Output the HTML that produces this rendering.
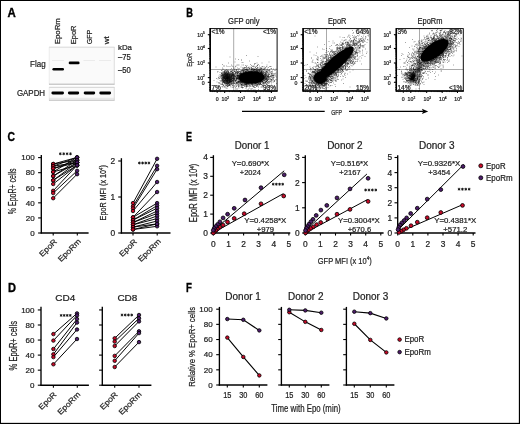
<!DOCTYPE html>
<html><head><meta charset="utf-8"><style>
html,body{margin:0;padding:0;background:#fff;}
svg{display:block;will-change:transform;}
text{font-family:"Liberation Sans", sans-serif;}
text:not([fill]){fill:#222;}
text:not([stroke]){stroke:#222;stroke-width:0.22px;}
</style></head><body>
<svg width="520" height="424" viewBox="0 0 520 424">
<rect width="520" height="424" fill="#fff"/>
<rect x="0" y="0" width="520" height="1" fill="#000"/>
<rect x="0" y="0" width="1" height="424" fill="#000"/>
<rect x="518.85" y="0" width="1.15" height="424" fill="#000"/>
<rect x="0" y="422.85" width="520" height="1.15" fill="#000"/>
<text x="7.5" y="17.1" font-size="12" font-weight="bold" fill="#000" textLength="8.3" lengthAdjust="spacingAndGlyphs" stroke="#000" stroke-width="0.35">A</text>
<text x="186.2" y="17.4" font-size="12" font-weight="bold" fill="#000" textLength="6.7" lengthAdjust="spacingAndGlyphs" stroke="#000" stroke-width="0.35">B</text>
<text x="7.6" y="141.4" font-size="12" font-weight="bold" fill="#000" textLength="7.5" lengthAdjust="spacingAndGlyphs" stroke="#000" stroke-width="0.35">C</text>
<text x="8.1" y="292" font-size="12" font-weight="bold" fill="#000" textLength="8" lengthAdjust="spacingAndGlyphs" stroke="#000" stroke-width="0.35">D</text>
<text x="186.1" y="141.3" font-size="12" font-weight="bold" fill="#000" textLength="6" lengthAdjust="spacingAndGlyphs" stroke="#000" stroke-width="0.35">E</text>
<text x="186.1" y="292" font-size="12" font-weight="bold" fill="#000" textLength="5.9" lengthAdjust="spacingAndGlyphs" stroke="#000" stroke-width="0.35">F</text>
<text transform="translate(59.6 44.3) rotate(-90)" x="0" y="0" font-size="7.4" textLength="26.2" lengthAdjust="spacingAndGlyphs">EpoRm</text>
<text transform="translate(75.5 44.3) rotate(-90)" x="0" y="0" font-size="7.4" textLength="18.8" lengthAdjust="spacingAndGlyphs">EpoR</text>
<text transform="translate(91.8 44.3) rotate(-90)" x="0" y="0" font-size="7.4" textLength="14.5" lengthAdjust="spacingAndGlyphs">GFP</text>
<text transform="translate(109 44.3) rotate(-90)" x="0" y="0" font-size="7.4" textLength="8.1" lengthAdjust="spacingAndGlyphs">wt</text>
<defs><filter id="bl" x="-20%" y="-100%" width="140%" height="300%"><feGaussianBlur stdDeviation="0.45"/></filter></defs>
<rect x="49" y="46.8" width="65.5" height="37.6" fill="#fafafa"/>
<rect x="49" y="87" width="65.5" height="13.3" fill="#fafafa"/>
<line x1="49" y1="47.2" x2="114.5" y2="47.2" stroke="#cfcfcf" stroke-width="0.8"/>
<line x1="49.2" y1="47" x2="49.2" y2="84.5" stroke="#e2e2e2" stroke-width="0.6"/>
<line x1="114.3" y1="47" x2="114.3" y2="84.5" stroke="#d8d8d8" stroke-width="0.8"/>
<line x1="49" y1="84.2" x2="114.5" y2="84.2" stroke="#b4b4b4" stroke-width="1"/>
<line x1="49" y1="87.3" x2="114.5" y2="87.3" stroke="#c8c8c8" stroke-width="0.8"/>
<line x1="49.2" y1="87" x2="49.2" y2="100.5" stroke="#e2e2e2" stroke-width="0.6"/>
<line x1="114.3" y1="87" x2="114.3" y2="100.5" stroke="#d8d8d8" stroke-width="0.8"/>
<line x1="49" y1="98.3" x2="114.5" y2="98.3" stroke="#d6d6d6" stroke-width="0.6"/>
<line x1="49" y1="100.2" x2="114.5" y2="100.2" stroke="#b8b8b8" stroke-width="1"/>
<rect x="52" y="60" width="12" height="1" fill="#ebebeb"/>
<rect x="83.5" y="60" width="11.5" height="1" fill="#ebebeb"/>
<rect x="99" y="60" width="12" height="1" fill="#ebebeb"/>
<g filter="url(#bl)">
<rect x="52.4" y="67.9" width="11.6" height="2.7" rx="1.3" fill="#000"/>
<rect x="68.7" y="61.6" width="10.9" height="2.7" rx="1.3" fill="#000"/>
<rect x="51.4" y="91.6" width="12.6" height="2.9" rx="1.4" fill="#000"/>
<rect x="67.9" y="91.6" width="11.3" height="2.9" rx="1.4" fill="#000"/>
<rect x="83.7" y="91.6" width="11.5" height="2.9" rx="1.4" fill="#000"/>
<rect x="99.3" y="91.6" width="11.8" height="2.9" rx="1.4" fill="#000"/>
</g>
<text x="45.6" y="67.3" font-size="8.8" text-anchor="end" textLength="15.6" lengthAdjust="spacingAndGlyphs">Flag</text>
<text x="45.1" y="96.3" font-size="8.8" text-anchor="end" textLength="28.2" lengthAdjust="spacingAndGlyphs">GAPDH</text>
<text x="118" y="49.8" font-size="8" textLength="14" lengthAdjust="spacingAndGlyphs">kDa</text>
<text x="118" y="59.7" font-size="8.2" textLength="12.8" lengthAdjust="spacingAndGlyphs">–75</text>
<text x="118" y="72.6" font-size="8.2" textLength="12.8" lengthAdjust="spacingAndGlyphs">–50</text>
<text x="243.8" y="24.4" font-size="9.6" text-anchor="middle" textLength="31.5" lengthAdjust="spacingAndGlyphs">GFP only</text>
<text x="337.2" y="24.4" font-size="9.6" text-anchor="middle" textLength="18.5" lengthAdjust="spacingAndGlyphs">EpoR</text>
<text x="430" y="24.4" font-size="9.6" text-anchor="middle" textLength="25" lengthAdjust="spacingAndGlyphs">EpoRm</text>
<line x1="233.7" y1="28.6" x2="233.7" y2="91" stroke="#a0a0a0" stroke-width="0.9"/>
<line x1="210.2" y1="69.5" x2="277.1" y2="69.5" stroke="#a0a0a0" stroke-width="0.9"/>
<ellipse cx="251.6" cy="77.5" rx="12.8" ry="6.3" transform="rotate(-2 251.6 77.5)" fill="#000"/>
<ellipse cx="227.4" cy="78" rx="1" ry="1.2" transform="rotate(0 227.4 78)" fill="#000"/>
<path stroke="#000" stroke-opacity="0.5" stroke-width="0.7" stroke-linecap="square" fill="none" d="M214 80.5h0m2-13.5h0m.5 11.5h0m.5 3.5h0m.5-10h0m.5-.5h0m0 7.5h0m0 6.5h0m.5-8h0m0 5.5h0m0 3h0m.5-10h0m0 1.5h0m0 1h0m0 4h0m.5-4h0m0 4.5h0m.5-10.5h0m0 2h0m0 2h0m0 4h0m0 3h0m.5-7.5h0m0 2h0m.5-3h0m0 1h0m0 1.5h0m0 3h0m0 1h0m0 .5h0m0 2h0m0 .5h0m.5-14h0m0 2.5h0m0 2h0m0 .5h0m0 .5h0m0 .5h0m.5-6h0m0 2h0m0 .5h0m0 2.5h0m0 .5h0m0 1.5h0m0 3.5h0m0 3h0m0 .5h0m0 2h0m.5-22h0m0 3.5h0m0 5.5h0m0 1h0m0 1h0m0 .5h0m0 .5h0m0 .5h0m0 3h0m0 1h0m0 2.5h0m0 1h0m0 2.5h0m.5-18h0m0 .5h0m0 2h0m0 1h0m0 .5h0m0 1.5h0m0 1h0m0 1.5h0m0 2h0m0 1h0m0 2h0m0 2h0m0 .5h0m0 1.5h0m.5-13h0m0 .5h0m0 1h0m0 1h0m0 2.5h0m0 .5h0m0 3h0m.5-16h0m0 1h0m0 5h0m0 .5h0m0 .5h0m0 1.5h0m0 .5h0m0 1.5h0m0 4h0m0 2h0m0 3h0m0 2h0m.5-16h0m0 .5h0m0 .5h0m0 1h0m0 .5h0m0 5.5h0m0 2.5h0m0 .5h0m0 1.5h0m0 3h0m.5-16.5h0m0 1.5h0m0 1h0m0 10h0m0 1h0m0 .5h0m0 3.5h0m.5-15h0m0 .5h0m0 4.5h0m0 3.5h0m0 1.5h0m0 1h0m0 1.5h0m0 1h0m.5-15h0m0 3h0m0 1h0m0 1h0m0 1.5h0m0 3h0m0 1h0m0 2h0m0 1h0m0 1.5h0m0 2h0m.5-22h0m0 3.5h0m0 3h0m0 .5h0m0 9h0m0 .5h0m0 .5h0m0 1h0m0 1h0m0 .5h0m.5-15h0m0 1.5h0m0 10h0m0 3.5h0m0 1.5h0m0 1.5h0m.5-17.5h0m0 1.5h0m0 8.5h0m0 2.5h0m0 .5h0m0 1.5h0m.5-19h0m0 4.5h0m0 1.5h0m0 6.5h0m0 2.5h0m0 1.5h0m0 .5h0m0 .5h0m0 1h0m0 1h0m0 .5h0m.5-23.5h0m0 11.5h0m0 1h0m0 3.5h0m0 1.5h0m0 1.5h0m0 1h0m0 1.5h0m.5-14h0m0 3h0m0 .5h0m0 1h0m0 5.5h0m0 1.5h0m0 .5h0m0 .5h0m0 .5h0m0 1.5h0m0 .5h0m.5-13h0m0 .5h0m0 .5h0m0 9.5h0m0 1h0m0 1h0m.5-28h0m0 9.5h0m0 8h0m0 1.5h0m0 2.5h0m0 1.5h0m0 2h0m0 .5h0m0 1h0m0 .5h0m0 .5h0m0 1h0m.5-15.5h0m0 1.5h0m0 .5h0m0 .5h0m0 1h0m0 1h0m0 .5h0m0 .5h0m0 .5h0m0 1h0m0 3h0m0 2h0m0 .5h0m0 .5h0m0 3h0m.5-16h0m0 1.5h0m0 2h0m0 .5h0m0 .5h0m0 1h0m0 .5h0m0 .5h0m0 .5h0m0 2.5h0m0 .5h0m0 .5h0m0 2.5h0m0 1.5h0m0 .5h0m0 2h0m.5-22h0m0 3.5h0m0 2.5h0m0 2h0m0 1h0m0 .5h0m0 .5h0m0 2h0m0 1.5h0m0 .5h0m0 2h0m0 1h0m.5-16h0m0 5h0m0 2h0m0 1h0m0 1h0m0 1.5h0m0 1h0m0 .5h0m0 1h0m0 3h0m0 1h0m0 .5h0m.5-13h0m0 .5h0m0 2h0m0 1h0m0 1.5h0m0 .5h0m0 1h0m0 1h0m0 1h0m0 1h0m0 1.5h0m0 3.5h0m0 .5h0m.5-19h0m0 3h0m0 3.5h0m0 .5h0m0 .5h0m0 .5h0m0 2h0m0 1h0m0 .5h0m0 4h0m0 1h0m0 .5h0m0 1h0m0 1h0m0 2h0m.5-19.5h0m0 8h0m0 .5h0m0 .5h0m0 .5h0m0 .5h0m0 1h0m0 .5h0m0 .5h0m0 1h0m0 1h0m.5-13h0m0 1.5h0m0 3.5h0m0 .5h0m0 .5h0m0 .5h0m0 .5h0m0 1h0m0 .5h0m0 1h0m0 1h0m0 .5h0m0 .5h0m0 .5h0m0 .5h0m0 1h0m0 .5h0m0 3h0m.5-16.5h0m0 1.5h0m0 4.5h0m0 .5h0m0 1.5h0m0 .5h0m0 .5h0m0 1h0m0 1h0m0 3h0m0 2.5h0m.5-24h0m0 6h0m0 6h0m0 2.5h0m0 3.5h0m.5-21h0m0 7.5h0m0 4.5h0m0 1.5h0m0 .5h0m0 .5h0m0 1.5h0m0 5.5h0m0 1h0m0 2.5h0m0 3.5h0m0 1.5h0m.5-23h0m0 3.5h0m0 3.5h0m0 1.5h0m0 .5h0m0 .5h0m0 2h0m0 .5h0m0 .5h0m0 1.5h0m0 2.5h0m0 .5h0m0 2.5h0m0 1h0m.5-16h0m0 6.5h0m0 4h0m0 2.5h0m0 3h0m.5-21.5h0m0 4.5h0m0 2h0m0 1h0m0 .5h0m0 1.5h0m0 .5h0m0 .5h0m0 .5h0m0 3h0m0 5h0m0 1.5h0m0 3h0m0 1h0m.5-21.5h0m0 3.5h0m0 1h0m0 .5h0m0 6h0m0 3h0m0 .5h0m0 1h0m.5-18.5h0m0 6h0m0 1h0m0 .5h0m0 .5h0m0 4.5h0m0 5h0m0 1h0m0 1.5h0m.5-25.5h0m0 10.5h0m0 2.5h0m0 .5h0m0 3h0m0 .5h0m0 2h0m0 1h0m0 5h0m0 1h0m0 1h0m0 .5h0m.5-22h0m0 3.5h0m0 .5h0m0 4.5h0m0 1h0m0 1h0m0 3h0m0 2h0m0 .5h0m0 1h0m0 1.5h0m0 1.5h0m0 1h0m0 .5h0m0 1.5h0m.5-16h0m0 1.5h0m0 .5h0m0 1h0m0 1h0m0 1.5h0m0 .5h0m0 1h0m0 2h0m0 1h0m0 3h0m0 5.5h0m.5-18.5h0m0 2h0m0 1h0m0 3h0m0 1h0m0 1.5h0m0 1h0m0 .5h0m0 2h0m.5-12.5h0m0 3.5h0m0 1.5h0m0 4.5h0m0 3h0m.5-17h0m0 5.5h0m0 3h0m0 1h0m0 2h0m0 2.5h0m0 1h0m0 .5h0m0 .5h0m0 1.5h0m0 .5h0m0 .5h0m.5-15h0m0 1.5h0m0 3h0m0 2.5h0m0 2.5h0m0 1h0m0 .5h0m0 2.5h0m0 1h0m.5-22.5h0m0 2.5h0m0 5.5h0m0 2.5h0m0 2.5h0m0 1h0m0 1.5h0m0 3h0m0 1.5h0m0 1h0m0 1.5h0m0 2h0m0 .5h0m.5-18.5h0m0 3h0m0 1.5h0m0 1.5h0m0 1.5h0m0 4.5h0m0 .5h0m0 2h0m0 1h0m0 1h0m0 1.5h0m0 .5h0m0 .5h0m.5-25.5h0m0 5h0m0 .5h0m0 5h0m0 .5h0m0 .5h0m0 5h0m0 .5h0m0 .5h0m0 1.5h0m0 .5h0m0 2h0m0 .5h0m.5-19.5h0m0 3.5h0m0 1.5h0m0 1.5h0m0 1.5h0m0 2h0m0 1.5h0m0 .5h0m0 .5h0m0 2h0m0 2h0m0 .5h0m0 .5h0m0 .5h0m0 2h0m0 .5h0m0 2h0m.5-19h0m0 2.5h0m0 1.5h0m0 1h0m0 .5h0m0 1h0m0 1h0m0 2h0m0 2h0m0 1h0m0 .5h0m0 .5h0m0 .5h0m0 .5h0m0 1.5h0m0 1h0m.5-18h0m0 .5h0m0 1h0m0 1h0m0 .5h0m0 1.5h0m0 .5h0m0 2h0m0 3h0m0 1h0m0 .5h0m0 .5h0m0 2h0m0 .5h0m0 4.5h0m.5-19h0m0 2h0m0 .5h0m0 1h0m0 2h0m0 .5h0m0 1.5h0m0 4h0m0 2h0m0 1h0m0 .5h0m0 .5h0m0 .5h0m0 .5h0m0 .5h0m0 .5h0m0 1h0m.5-20.5h0m0 2h0m0 2h0m0 .5h0m0 5h0m0 2h0m0 6h0m0 3h0m.5-17.5h0m0 1h0m0 1h0m0 2h0m0 1h0m0 1h0m0 2h0m0 1.5h0m0 3.5h0m0 .5h0m0 .5h0m0 1h0m0 1h0m0 .5h0m0 2h0m0 1.5h0m.5-33h0m0 11h0m0 .5h0m0 3h0m0 1h0m0 1.5h0m0 .5h0m0 2h0m0 2.5h0m0 1.5h0m0 .5h0m0 2.5h0m0 1h0m0 1h0m0 2h0m0 .5h0m.5-21h0m0 2h0m0 .5h0m0 1.5h0m0 .5h0m0 .5h0m0 5.5h0m0 5h0m0 .5h0m0 2h0m0 .5h0m0 .5h0m0 .5h0m0 1h0m0 .5h0m0 3.5h0m.5-20.5h0m0 2h0m0 1.5h0m0 1h0m0 6h0m0 .5h0m0 .5h0m0 1h0m0 1.5h0m0 .5h0m.5-15h0m0 1.5h0m0 .5h0m0 .5h0m0 .5h0m0 1h0m0 1h0m0 3h0m0 4h0m0 2h0m0 .5h0m0 1h0m0 1.5h0m0 .5h0m0 3.5h0m.5-22.5h0m0 .5h0m0 2h0m0 1.5h0m0 .5h0m0 .5h0m0 1h0m0 8h0m0 .5h0m0 2h0m0 5h0m.5-22h0m0 5.5h0m0 5.5h0m0 2.5h0m0 2.5h0m0 1h0m0 .5h0m.5-23.5h0m0 7h0m0 .5h0m0 3h0m0 4h0m0 .5h0m0 1.5h0m0 .5h0m0 4h0m0 .5h0m0 3.5h0m0 1h0m.5-18.5h0m0 3h0m0 1.5h0m0 4.5h0m0 2h0m0 1.5h0m0 .5h0m0 2h0m0 1.5h0m0 3.5h0m.5-24h0m0 6.5h0m0 .5h0m0 3.5h0m0 1.5h0m0 3h0m0 5.5h0m0 1.5h0m.5-19.5h0m0 1h0m0 1.5h0m0 .5h0m0 2h0m0 2.5h0m0 .5h0m0 3.5h0m0 2h0m0 1.5h0m0 .5h0m0 1.5h0m0 .5h0m0 1h0m0 4h0m.5-24h0m0 2h0m0 .5h0m0 1.5h0m0 .5h0m0 1h0m0 5h0m0 3.5h0m0 .5h0m0 2h0m0 .5h0m0 2h0m.5-16h0m0 .5h0m0 .5h0m0 .5h0m0 1.5h0m0 .5h0m0 1h0m0 10h0m0 .5h0m0 .5h0m0 2.5h0m0 2h0m0 .5h0m.5-22.5h0m0 2h0m0 1h0m0 1.5h0m0 1h0m0 4h0m0 5.5h0m0 .5h0m0 1.5h0m0 1h0m0 1h0m.5-19.5h0m0 2.5h0m0 6h0m0 2h0m0 3.5h0m0 5h0m0 1h0m0 .5h0m.5-20h0m0 2.5h0m0 3h0m0 .5h0m0 1h0m0 8h0m0 .5h0m0 .5h0m0 2.5h0m0 1.5h0m0 .5h0m0 3h0m.5-24h0m0 2h0m0 1h0m0 .5h0m0 .5h0m0 6.5h0m0 3h0m0 1.5h0m0 1h0m0 .5h0m0 1h0m0 .5h0m0 .5h0m0 2.5h0m.5-23.5h0m0 1h0m0 4.5h0m0 2h0m0 1h0m0 1h0m0 .5h0m0 7h0m0 1.5h0m0 .5h0m0 1.5h0m0 1.5h0m0 1.5h0m0 .5h0m.5-21h0m0 5.5h0m0 1h0m0 2.5h0m0 6.5h0m0 .5h0m0 2h0m0 1h0m0 4h0m.5-26h0m0 6h0m0 2.5h0m0 .5h0m0 1.5h0m0 6h0m0 1.5h0m0 1.5h0m0 1h0m0 1.5h0m0 2h0m.5-17.5h0m0 1.5h0m0 .5h0m0 .5h0m0 1.5h0m0 2.5h0m0 3h0m0 1h0m0 .5h0m0 1.5h0m0 1h0m0 1h0m0 .5h0m.5-18.5h0m0 2h0m0 .5h0m0 3h0m0 1.5h0m0 1h0m0 2.5h0m0 6h0m0 .5h0m0 1.5h0m0 .5h0m0 1h0m.5-23.5h0m0 3h0m0 3.5h0m0 1h0m0 .5h0m0 1.5h0m0 3.5h0m0 1.5h0m0 .5h0m0 2h0m0 1h0m0 .5h0m0 .5h0m0 1.5h0m0 .5h0m0 2h0m0 .5h0m.5-21.5h0m0 2.5h0m0 .5h0m0 1h0m0 1h0m0 .5h0m0 1h0m0 .5h0m0 2.5h0m0 2h0m0 2.5h0m0 2.5h0m0 2.5h0m0 .5h0m0 .5h0m0 .5h0m.5-29h0m0 11h0m0 1h0m0 1h0m0 4h0m0 2.5h0m0 .5h0m0 4.5h0m0 .5h0m0 1h0m0 1h0m.5-19h0m0 5h0m0 .5h0m0 1h0m0 1.5h0m0 5h0m0 4.5h0m0 1h0m0 .5h0m0 .5h0m0 .5h0m0 5h0m.5-20h0m0 2h0m0 1h0m0 .5h0m0 1h0m0 .5h0m0 1h0m0 .5h0m0 1.5h0m0 4h0m0 .5h0m0 1.5h0m0 2h0m.5-19.5h0m0 2h0m0 7h0m0 .5h0m0 1h0m0 2.5h0m0 3h0m0 .5h0m0 2h0m.5-16h0m0 1h0m0 1h0m0 2h0m0 2h0m0 .5h0m0 .5h0m0 1.5h0m0 5h0m0 1.5h0m.5-16h0m0 1h0m0 1h0m0 .5h0m0 2h0m0 6h0m0 .5h0m0 1.5h0m0 1.5h0m0 1h0m0 1.5h0m.5-14h0m0 2.5h0m0 .5h0m0 1h0m0 5.5h0m0 1.5h0m0 .5h0m0 .5h0m0 5h0m.5-19h0m0 2h0m0 2h0m0 2.5h0m0 2.5h0m0 .5h0m0 1h0m0 1.5h0m0 1h0m0 .5h0m0 3h0m0 2.5h0m.5-24h0m0 3.5h0m0 1.5h0m0 1.5h0m0 2.5h0m0 1h0m0 .5h0m0 .5h0m0 .5h0m0 2.5h0m0 5h0m0 1h0m0 1.5h0m0 .5h0m.5-18.5h0m0 5.5h0m0 1h0m0 .5h0m0 1.5h0m0 1h0m0 .5h0m0 .5h0m0 3h0m0 2h0m0 5h0m.5-18.5h0m0 4h0m0 2.5h0m0 2h0m0 1h0m0 3h0m0 .5h0m0 1h0m0 4h0m.5-17h0m0 2h0m0 .5h0m0 1h0m0 1h0m0 1h0m0 3h0m0 2h0m0 .5h0m0 1.5h0m0 .5h0m0 1.5h0m0 1.5h0m.5-19h0m0 1.5h0m0 1.5h0m0 2.5h0m0 2h0m0 1h0m0 1h0m0 1h0m0 1h0m0 .5h0m0 1.5h0m0 5h0m.5-16h0m0 1h0m0 2.5h0m0 2.5h0m0 3.5h0m0 .5h0m0 .5h0m0 1h0m0 2h0m0 7.5h0m.5-22h0m0 .5h0m0 .5h0m0 1.5h0m0 3h0m0 1h0m0 1.5h0m0 1h0m0 2h0m0 1h0m0 .5h0m0 1.5h0m0 1.5h0m.5-16h0m0 5h0m0 .5h0m0 2.5h0m0 1h0m0 1h0m0 .5h0m0 5h0m0 5h0m.5-18h0m0 1h0m0 .5h0m0 2.5h0m0 .5h0m0 .5h0m0 .5h0m0 1h0m0 1h0m0 3h0m0 1h0m0 .5h0m0 2h0m0 3h0m0 1h0m.5-21.5h0m0 5h0m0 1.5h0m0 1h0m0 1h0m0 1.5h0m0 1h0m0 .5h0m0 .5h0m0 .5h0m0 .5h0m0 2.5h0m0 1.5h0m.5-18.5h0m0 2h0m0 2.5h0m0 1h0m0 .5h0m0 .5h0m0 .5h0m0 1.5h0m0 1h0m0 2h0m0 2h0m0 2h0m0 1h0m0 4.5h0m0 1.5h0m.5-18.5h0m0 3.5h0m0 2.5h0m0 .5h0m0 2h0m0 4.5h0m0 .5h0m0 2h0m0 2.5h0m.5-17h0m0 1h0m0 1h0m0 .5h0m0 1.5h0m0 5h0m.5-11.5h0m0 3h0m0 5.5h0m0 .5h0m0 2.5h0m0 .5h0m0 2h0m0 1h0m0 1h0m0 2.5h0m.5-24h0m0 12h0m0 2.5h0m0 1.5h0m0 1h0m0 .5h0m0 1.5h0m0 .5h0m0 4h0m0 1h0m.5-17h0m0 1h0m0 .5h0m0 2h0m0 1.5h0m0 2h0m0 5.5h0m0 1h0m0 4h0m.5-16h0m0 9h0m0 2h0m.5-6h0m0 1h0m0 1.5h0m0 1h0m0 2h0m.5-15h0m0 2h0m0 4h0m0 .5h0m0 1h0m0 1.5h0m0 4.5h0m0 1h0m.5-12.5h0m0 3h0m0 3h0m0 1.5h0m0 6h0m0 2h0m.5-12.5h0m0 4.5h0m0 3h0m0 1.5h0m0 1.5h0m.5-11h0m0 4h0m0 .5h0m0 1.5h0m0 1h0m0 1h0m0 9h0m.5-14.5h0m0 2h0m0 1.5h0m0 3h0m.5-11h0m0 6.5h0m0 .5h0m0 1.5h0m0 4.5h0m.5-8h0m0 1h0m0 .5h0m0 1.5h0m0 .5h0m0 3.5h0m.5-.5h0m0 .5h0m0 .5h0m.5-8h0m0 .5h0m.5 2h0m.5-7h0m0 4h0m0 2h0m0 4.5h0m0 .5h0m.5-3h0m0 6.5h0"/>
<path stroke="#000" stroke-opacity="0.75" stroke-width="0.7" stroke-linecap="square" fill="none" d="M221.5 73.5h0m0 5h0m.5-4.5h0m0 1h0m.5 0h0m0 3h0m0 1.5h0m0 1h0m0 1.5h0m.5-8h0m0 1h0m0 1h0m0 2h0m0 .5h0m0 1h0m0 1h0m0 1h0m.5-6.5h0m0 1h0m0 .5h0m0 .5h0m0 .5h0m0 2h0m0 1h0m0 5h0m.5-10h0m0 3h0m0 2.5h0m0 .5h0m0 1h0m.5-10h0m0 2h0m0 1.5h0m0 4h0m0 1h0m.5-10.5h0m0 6h0m0 2h0m0 2h0m0 1h0m.5-10.5h0m0 4.5h0m0 4h0m0 .5h0m0 .5h0m0 1h0m.5-9h0m0 .5h0m0 .5h0m0 2h0m0 2.5h0m0 2h0m0 2h0m0 1h0m.5-11h0m0 2.5h0m0 6.5h0m0 .5h0m0 2h0m.5-12h0m0 1.5h0m0 .5h0m0 .5h0m0 2h0m0 .5h0m0 3h0m0 3.5h0m0 .5h0m.5-1.5h0m0 1h0m0 1.5h0m0 2h0m.5-16.5h0m0 3.5h0m0 1.5h0m0 .5h0m0 2.5h0m0 .5h0m0 1h0m.5-8h0m0 .5h0m0 1.5h0m0 2.5h0m0 3.5h0m0 6h0m.5-11h0m0 2h0m0 3.5h0m.5-6h0m0 .5h0m0 1h0m0 .5h0m0 1.5h0m0 1.5h0m0 2.5h0m0 3h0m0 1h0m.5-10.5h0m0 1.5h0m0 1h0m0 3h0m0 .5h0m0 2h0m.5-6.5h0m0 2h0m.5 0h0m0 5.5h0m.5-12.5h0m0 4h0m0 2h0m0 .5h0m0 2h0m0 .5h0m0 1h0m0 2.5h0m.5-12h0m0 2.5h0m0 2.5h0m0 2.5h0m0 2h0m.5-9h0m0 2h0m0 4h0m0 4.5h0m.5-8h0m0 .5h0m0 .5h0m0 1h0m0 1.5h0m0 1.5h0m0 .5h0m0 .5h0m0 6h0m.5-13h0m0 .5h0m0 1h0m0 3h0m.5-.5h0m.5-6.5h0m0 5h0m0 2.5h0m.5-7.5h0m0 2h0m0 2.5h0m0 2.5h0m.5-2h0m0 4.5h0m.5-9h0m0 .5h0m0 8h0m0 .5h0m.5-11h0m0 2h0m0 4h0m0 3h0m0 .5h0m0 3h0m0 .5h0m.5-6h0m0 .5h0m0 2.5h0m0 2.5h0m.5-9h0m0 2h0m0 1.5h0m0 1h0m.5-6.5h0m0 3.5h0m0 .5h0m0 .5h0m0 1h0m0 1h0m0 1h0m0 2h0m0 .5h0m0 2.5h0m.5-12h0m0 3h0m0 .5h0m0 2h0m0 .5h0m0 1h0m0 3h0m0 .5h0m.5-4.5h0m0 1h0m0 1h0m.5-8.5h0m0 4h0m0 1.5h0m0 4.5h0m0 1h0m.5-7h0m0 1h0m0 1h0m0 3.5h0m0 2.5h0m.5-12.5h0m0 1.5h0m0 1h0m0 3.5h0m0 .5h0m0 .5h0m0 .5h0m0 4h0m0 .5h0m.5-9.5h0m0 .5h0m0 2h0m0 1h0m0 1h0m0 1h0m0 .5h0m0 .5h0m0 .5h0m0 1h0m0 5.5h0m.5-27h0m0 11h0m0 3h0m0 .5h0m0 1h0m0 5h0m0 2h0m0 4.5h0m.5-15h0m0 2.5h0m0 1.5h0m0 1h0m0 .5h0m0 1h0m0 3h0m0 .5h0m0 2h0m0 1.5h0m.5-8.5h0m0 .5h0m0 .5h0m0 .5h0m0 1h0m0 2.5h0m0 .5h0m.5-13h0m0 5.5h0m0 2.5h0m0 .5h0m0 2.5h0m.5-10h0m0 1.5h0m0 .5h0m0 1h0m0 4.5h0m0 2h0m.5-4.5h0m0 1h0m0 .5h0m0 1.5h0m0 1h0m0 1h0m.5-7.5h0m0 .5h0m0 3h0m0 4h0m0 2.5h0m0 1h0m0 1h0m.5-13.5h0m0 1h0m0 2h0m0 3.5h0m0 1.5h0m.5-7.5h0m0 .5h0m0 4h0m0 4.5h0m0 .5h0m0 1h0m0 1h0m.5-7.5h0m0 1h0m0 2h0m0 1h0m0 4h0m.5-14.5h0m0 4h0m0 2h0m0 1h0m0 .5h0m0 1h0m0 2.5h0m0 1h0m0 3h0m0 .5h0m0 2h0m.5-15h0m0 1h0m0 .5h0m0 .5h0m0 .5h0m0 .5h0m0 1.5h0m0 .5h0m0 .5h0m0 1h0m0 4h0m0 3h0m.5-15h0m0 4h0m0 2h0m0 2.5h0m0 2.5h0m0 1h0m0 .5h0m.5-9.5h0m0 1.5h0m0 1.5h0m0 1.5h0m0 .5h0m0 2h0m0 1h0m.5-8.5h0m0 1.5h0m0 3h0m0 6h0m.5-13.5h0m0 1h0m0 .5h0m0 .5h0m0 1h0m0 .5h0m0 1h0m0 .5h0m0 1.5h0m0 .5h0m0 2.5h0m0 2h0m0 .5h0m0 3h0m.5-16h0m0 3h0m0 1h0m0 1h0m0 1h0m0 1.5h0m0 .5h0m0 4h0m0 2h0m0 2h0m.5-11.5h0m0 1h0m0 7.5h0m.5-8.5h0m0 .5h0m0 1.5h0m0 2.5h0m0 .5h0m0 1.5h0m0 2h0m0 .5h0m.5-8.5h0m0 1.5h0m0 4h0m0 .5h0m0 3h0m.5-14h0m0 2.5h0m0 2.5h0m0 .5h0m0 3h0m0 1h0m0 3h0m0 1.5h0m0 1h0m.5-11.5h0m0 1.5h0m0 3h0m0 2h0m0 1.5h0m.5-7h0m0 1h0m0 .5h0m0 3h0m0 1h0m0 1h0m0 .5h0m0 .5h0m0 3h0m0 1h0m.5-15.5h0m0 1h0m0 .5h0m0 1.5h0m0 1h0m0 3.5h0m0 .5h0m0 .5h0m0 1h0m0 .5h0m0 2h0m0 .5h0m0 .5h0m0 1.5h0m.5-14h0m0 .5h0m0 5h0m0 3.5h0m0 1h0m0 .5h0m0 .5h0m0 2h0m.5-11.5h0m0 1.5h0m0 .5h0m0 1h0m0 2.5h0m0 .5h0m0 1h0m0 .5h0m.5-9.5h0m0 2h0m0 1h0m0 4h0m0 1.5h0m0 .5h0m0 .5h0m0 .5h0m0 2h0m.5-12h0m0 4.5h0m0 2h0m0 .5h0m0 2h0m0 1h0m0 .5h0m0 .5h0m0 .5h0m0 .5h0m0 2h0m.5-16h0m0 4h0m0 3h0m0 .5h0m0 1.5h0m0 1.5h0m0 .5h0m0 .5h0m0 3.5h0m0 1h0m.5-15h0m0 1h0m0 3.5h0m0 1.5h0m0 .5h0m0 .5h0m0 .5h0m0 3h0m0 1h0m0 2h0m.5-10.5h0m0 1.5h0m0 2h0m0 5h0m0 2h0m.5-12h0m0 2h0m0 3.5h0m0 3h0m0 2h0m0 2h0m0 2h0m.5-19h0m0 7.5h0m0 3h0m0 2.5h0m0 2h0m0 .5h0m.5-10.5h0m0 .5h0m0 1h0m0 .5h0m0 4.5h0m0 1.5h0m0 .5h0m.5-6h0m0 3.5h0m0 .5h0m0 1h0m0 2h0m0 1h0m0 6h0m.5-16.5h0m0 8.5h0m0 .5h0m0 3h0m.5-13h0m0 1h0m0 .5h0m0 .5h0m0 1.5h0m0 .5h0m0 .5h0m0 3h0m0 2.5h0m.5-7.5h0m0 4h0m0 2.5h0m0 4.5h0m0 1h0m0 .5h0m.5-11h0m0 3h0m0 3h0m0 1.5h0m0 2h0m0 .5h0m.5-14.5h0m0 1.5h0m0 4.5h0m0 1h0m0 1h0m0 1.5h0m0 1.5h0m0 4.5h0m.5-16h0m0 3h0m0 1.5h0m0 1h0m0 1h0m0 3h0m0 1h0m0 1.5h0m0 1.5h0m.5-7h0m0 .5h0m0 2h0m0 1h0m0 1h0m0 1.5h0m.5-11h0m0 4h0m0 .5h0m0 6.5h0m0 4.5h0m.5-13.5h0m0 2h0m0 2h0m0 .5h0m0 1h0m0 1h0m0 4.5h0m0 .5h0m.5-13.5h0m0 13h0m.5-10h0m0 2.5h0m0 1h0m0 7.5h0m.5-9.5h0m0 1.5h0m0 1h0m0 .5h0m0 5.5h0m.5-11h0m0 3.5h0m0 3h0m0 3h0m.5-8h0m0 8.5h0m0 .5h0m.5-9.5h0m0 5h0m0 .5h0m.5-6.5h0m0 3.5h0m0 4.5h0m0 4.5h0m.5-5.5h0m0 1h0m.5-3.5h0m0 .5h0m0 2h0m0 1.5h0m0 2.5h0m.5-7h0m0 2h0m.5-2.5h0m0 2h0m.5-3h0m.5 3.5h0m.5-6h0m.5 4.5h0m1-3h0m0 6h0m0 .5h0m.5-4.5h0m.5-2.5h0m.5 2h0m2-4.5h0"/>
<path stroke="#000" stroke-opacity="0.95" stroke-width="0.7" stroke-linecap="square" fill="none" d="M221.5 80h0m.5-2h0m.5 1h0m.5-1.5h0m0 5h0m.5-3.5h0m0 2h0m0 1h0m.5-7h0m0 1.5h0m0 .5h0m0 .5h0m0 .5h0m.5-4h0m0 1h0m0 1.5h0m0 1h0m0 .5h0m0 .5h0m0 2h0m0 2h0m.5-9h0m0 .5h0m0 1h0m0 .5h0m0 .5h0m0 1h0m0 .5h0m0 .5h0m0 1h0m0 .5h0m0 .5h0m0 3h0m.5-9.5h0m0 1h0m0 .5h0m0 1h0m0 .5h0m0 .5h0m0 1h0m0 .5h0m0 .5h0m.5-4.5h0m0 2h0m0 .5h0m0 1.5h0m0 .5h0m0 .5h0m0 1.5h0m0 1.5h0m.5-8.5h0m0 1h0m0 .5h0m0 .5h0m0 .5h0m0 .5h0m0 .5h0m0 .5h0m0 .5h0m0 .5h0m0 1h0m0 .5h0m.5-9.5h0m0 3.5h0m0 .5h0m0 .5h0m0 1.5h0m0 .5h0m0 .5h0m0 .5h0m0 .5h0m0 1h0m0 .5h0m0 .5h0m0 .5h0m.5-8h0m0 .5h0m0 .5h0m0 .5h0m0 .5h0m0 .5h0m0 .5h0m0 .5h0m0 .5h0m0 .5h0m0 .5h0m0 .5h0m0 .5h0m0 .5h0m0 .5h0m0 1h0m0 1h0m.5-8h0m0 1.5h0m0 .5h0m0 .5h0m0 .5h0m0 2.5h0m0 .5h0m0 .5h0m0 1h0m.5-9.5h0m0 1.5h0m0 1h0m0 1.5h0m0 .5h0m0 .5h0m0 .5h0m0 .5h0m0 1.5h0m0 1h0m0 1.5h0m0 1h0m.5-8h0m0 1.5h0m0 .5h0m0 .5h0m0 .5h0m0 .5h0m0 .5h0m0 1.5h0m0 .5h0m.5-6.5h0m0 1.5h0m0 .5h0m0 1h0m0 .5h0m0 1h0m0 .5h0m0 .5h0m0 .5h0m0 1h0m0 .5h0m.5-7h0m0 1.5h0m0 1h0m0 1h0m0 .5h0m0 2h0m.5-7.5h0m0 3.5h0m0 1.5h0m0 .5h0m0 1h0m0 1h0m.5-4h0m0 1.5h0m0 2h0m0 .5h0m0 .5h0m.5-6h0m0 .5h0m0 3h0m0 3.5h0m.5-9.5h0m0 2h0m0 .5h0m0 2.5h0m.5-3.5h0m0 5.5h0m.5-8h0m1 6.5h0m0 3h0m0 1.5h0m.5-8.5h0m1 2h0m0 3h0m.5 4h0m.5-6h0m0 .5h0m.5-5h0m.5 1.5h0m0 1h0m0 2.5h0m.5-2h0m0 2h0m0 3.5h0m.5-5h0m0 4.5h0m.5-5.5h0m.5 2.5h0m.5-5h0m0 1h0m0 1.5h0m0 1h0m0 2.5h0m.5-5.5h0m0 .5h0m0 1h0m0 .5h0m0 3h0m0 1h0m0 1.5h0m.5-4h0m.5-4h0m0 3h0m0 .5h0m0 1h0m0 1h0m0 .5h0m0 2.5h0m0 2.5h0m.5-11h0m0 1.5h0m0 4.5h0m0 .5h0m.5-9.5h0m0 4h0m0 1h0m0 .5h0m0 3h0m.5-7h0m0 3.5h0m0 .5h0m0 .5h0m0 2h0m0 4h0m.5-11.5h0m0 3h0m0 .5h0m0 1h0m0 3h0m0 .5h0m0 1.5h0m0 .5h0m.5-8h0m0 4.5h0m0 1.5h0m0 4.5h0m.5-9.5h0m0 1.5h0m0 1.5h0m0 3h0m0 1h0m.5-5.5h0m0 .5h0m0 .5h0m0 1h0m0 1h0m0 2h0m0 1h0m.5-10h0m0 1.5h0m0 .5h0m0 1h0m0 1.5h0m0 1.5h0m0 .5h0m0 .5h0m0 .5h0m0 .5h0m0 5h0m.5-11.5h0m0 1h0m0 1h0m0 .5h0m0 2h0m0 1h0m0 1h0m.5-8h0m0 2.5h0m0 .5h0m0 4h0m0 1.5h0m0 1h0m0 2.5h0m.5-14.5h0m0 6.5h0m0 2.5h0m0 1h0m0 1h0m0 .5h0m0 1.5h0m0 1h0m.5-9.5h0m0 1.5h0m0 .5h0m0 .5h0m0 1h0m0 .5h0m0 .5h0m0 .5h0m0 1h0m.5-5h0m0 1h0m0 .5h0m0 1.5h0m0 1.5h0m0 .5h0m0 .5h0m0 2h0m0 2h0m.5-10h0m0 1h0m0 .5h0m0 .5h0m0 .5h0m0 .5h0m0 1h0m0 .5h0m0 .5h0m0 .5h0m0 1h0m0 .5h0m.5-5h0m0 1.5h0m0 1h0m0 .5h0m0 1h0m0 1h0m0 1.5h0m.5-10h0m0 2h0m0 4h0m0 .5h0m0 .5h0m0 .5h0m0 1.5h0m.5-10.5h0m0 1.5h0m0 1.5h0m0 1h0m0 .5h0m0 .5h0m0 .5h0m0 .5h0m0 1h0m0 .5h0m0 .5h0m0 1h0m0 .5h0m0 2.5h0m.5-11h0m0 2.5h0m0 1.5h0m0 1h0m0 .5h0m0 1.5h0m0 1.5h0m0 .5h0m0 .5h0m.5-10.5h0m0 1.5h0m0 1h0m0 2.5h0m0 .5h0m0 1h0m0 .5h0m0 1h0m0 2h0m0 .5h0m.5-8h0m0 2h0m0 1h0m0 .5h0m0 1h0m0 1h0m0 1.5h0m0 .5h0m.5-10h0m0 3.5h0m0 .5h0m0 .5h0m0 .5h0m0 .5h0m0 1h0m0 .5h0m0 .5h0m0 1h0m0 .5h0m0 1h0m0 .5h0m0 .5h0m0 .5h0m.5-10h0m0 .5h0m0 1h0m0 1.5h0m0 1h0m0 .5h0m0 1.5h0m0 1h0m0 3h0m.5-10.5h0m0 3h0m0 .5h0m0 .5h0m0 2.5h0m0 2h0m.5-7.5h0m0 1h0m0 .5h0m0 .5h0m0 1h0m0 .5h0m0 .5h0m0 .5h0m0 .5h0m0 .5h0m0 1h0m.5-5.5h0m0 1.5h0m0 .5h0m0 2h0m0 2h0m0 .5h0m0 1h0m.5-11.5h0m0 4h0m0 .5h0m0 .5h0m0 .5h0m0 .5h0m0 1h0m0 .5h0m0 2.5h0m0 1h0m0 2h0m.5-12.5h0m0 3h0m0 1h0m0 .5h0m0 2h0m0 .5h0m0 .5h0m0 1h0m.5-8h0m0 2h0m0 2.5h0m0 .5h0m0 1.5h0m0 2h0m0 1.5h0m.5-7.5h0m0 3.5h0m0 .5h0m0 .5h0m0 .5h0m.5-8h0m0 5h0m0 .5h0m0 .5h0m0 1h0m0 .5h0m0 1h0m0 .5h0m0 1h0m0 2h0m.5-11h0m0 1.5h0m0 .5h0m0 .5h0m0 .5h0m0 .5h0m0 1.5h0m0 .5h0m.5-3h0m0 1h0m0 .5h0m0 1.5h0m0 .5h0m0 .5h0m0 2h0m0 2h0m.5-10.5h0m0 1.5h0m0 2h0m0 .5h0m0 2h0m0 .5h0m0 1.5h0m0 .5h0m0 .5h0m0 3.5h0m.5-10h0m0 1h0m0 .5h0m0 .5h0m0 3h0m0 .5h0m0 1h0m0 1h0m.5-8h0m0 1.5h0m0 1.5h0m0 1.5h0m.5-2h0m0 1.5h0m0 .5h0m0 .5h0m0 3h0m0 2.5h0m.5-10.5h0m0 .5h0m0 2.5h0m0 1h0m0 .5h0m0 1h0m0 .5h0m0 1h0m.5-8h0m0 2h0m0 1h0m0 .5h0m0 1h0m0 3.5h0m0 1.5h0m.5-10.5h0m0 .5h0m0 2.5h0m0 1h0m0 1h0m0 1h0m0 1.5h0m0 1.5h0m.5-9.5h0m0 1.5h0m0 1h0m0 2h0m0 .5h0m0 .5h0m0 3h0m.5-7h0m0 3.5h0m0 2h0m.5-7h0m0 4.5h0m0 4h0m0 2h0m.5-8h0m0 5.5h0m0 .5h0m.5-3.5h0m0 2.5h0m.5-1h0m0 1.5h0m0 1.5h0m1-4h0m0 1.5h0m.5-3.5h0m0 1.5h0m0 3.5h0m.5-2.5h0m0 2h0m.5 2.5h0m1-1.5h0m.5-3.5h0m.5-2.5h0m.5 3h0m1-10.5h0m1.5 10.5h0m2 2h0"/>
<rect x="210.2" y="28.6" width="66.9" height="62.4" fill="none" stroke="#000" stroke-width="0.95"/>
<line x1="210.2" y1="28.1" x2="210.2" y2="91.5" stroke="#000" stroke-width="1.5"/>
<line x1="209.7" y1="91" x2="277.6" y2="91" stroke="#000" stroke-width="1.5"/>
<line x1="207.8" y1="34.7" x2="210.2" y2="34.7" stroke="#000" stroke-width="1.1"/>
<line x1="207.8" y1="48.5" x2="210.2" y2="48.5" stroke="#000" stroke-width="1.1"/>
<line x1="207.8" y1="63" x2="210.2" y2="63" stroke="#000" stroke-width="1.1"/>
<line x1="207.8" y1="77.6" x2="210.2" y2="77.6" stroke="#000" stroke-width="1.1"/>
<line x1="209.1" y1="44.35" x2="210.2" y2="44.35" stroke="#000" stroke-width="0.6"/>
<line x1="209.1" y1="41.92" x2="210.2" y2="41.92" stroke="#000" stroke-width="0.6"/>
<line x1="209.1" y1="40.19" x2="210.2" y2="40.19" stroke="#000" stroke-width="0.6"/>
<line x1="209.1" y1="38.85" x2="210.2" y2="38.85" stroke="#000" stroke-width="0.6"/>
<line x1="209.1" y1="37.76" x2="210.2" y2="37.76" stroke="#000" stroke-width="0.6"/>
<line x1="209.1" y1="36.84" x2="210.2" y2="36.84" stroke="#000" stroke-width="0.6"/>
<line x1="209.1" y1="36.04" x2="210.2" y2="36.04" stroke="#000" stroke-width="0.6"/>
<line x1="209.1" y1="35.33" x2="210.2" y2="35.33" stroke="#000" stroke-width="0.6"/>
<line x1="209.1" y1="58.64" x2="210.2" y2="58.64" stroke="#000" stroke-width="0.6"/>
<line x1="209.1" y1="56.08" x2="210.2" y2="56.08" stroke="#000" stroke-width="0.6"/>
<line x1="209.1" y1="54.27" x2="210.2" y2="54.27" stroke="#000" stroke-width="0.6"/>
<line x1="209.1" y1="52.86" x2="210.2" y2="52.86" stroke="#000" stroke-width="0.6"/>
<line x1="209.1" y1="51.72" x2="210.2" y2="51.72" stroke="#000" stroke-width="0.6"/>
<line x1="209.1" y1="50.75" x2="210.2" y2="50.75" stroke="#000" stroke-width="0.6"/>
<line x1="209.1" y1="49.91" x2="210.2" y2="49.91" stroke="#000" stroke-width="0.6"/>
<line x1="209.1" y1="49.16" x2="210.2" y2="49.16" stroke="#000" stroke-width="0.6"/>
<line x1="209.1" y1="73.2" x2="210.2" y2="73.2" stroke="#000" stroke-width="0.6"/>
<line x1="209.1" y1="70.63" x2="210.2" y2="70.63" stroke="#000" stroke-width="0.6"/>
<line x1="209.1" y1="68.81" x2="210.2" y2="68.81" stroke="#000" stroke-width="0.6"/>
<line x1="209.1" y1="67.4" x2="210.2" y2="67.4" stroke="#000" stroke-width="0.6"/>
<line x1="209.1" y1="66.24" x2="210.2" y2="66.24" stroke="#000" stroke-width="0.6"/>
<line x1="209.1" y1="65.26" x2="210.2" y2="65.26" stroke="#000" stroke-width="0.6"/>
<line x1="209.1" y1="64.41" x2="210.2" y2="64.41" stroke="#000" stroke-width="0.6"/>
<line x1="209.1" y1="63.67" x2="210.2" y2="63.67" stroke="#000" stroke-width="0.6"/>
<line x1="207.8" y1="82.3" x2="210.2" y2="82.3" stroke="#000" stroke-width="1.1"/>
<line x1="209.1" y1="85" x2="210.2" y2="85" stroke="#000" stroke-width="0.6"/>
<line x1="209.1" y1="87.5" x2="210.2" y2="87.5" stroke="#000" stroke-width="0.6"/>
<line x1="209.1" y1="89.5" x2="210.2" y2="89.5" stroke="#000" stroke-width="0.6"/>
<line x1="224.7" y1="91" x2="224.7" y2="93" stroke="#000" stroke-width="1"/>
<line x1="240.6" y1="91" x2="240.6" y2="93" stroke="#000" stroke-width="1"/>
<line x1="256.1" y1="91" x2="256.1" y2="93" stroke="#000" stroke-width="1"/>
<line x1="271.4" y1="91" x2="271.4" y2="93" stroke="#000" stroke-width="1"/>
<line x1="229.49" y1="91" x2="229.49" y2="92.1" stroke="#000" stroke-width="0.6"/>
<line x1="232.29" y1="91" x2="232.29" y2="92.1" stroke="#000" stroke-width="0.6"/>
<line x1="234.27" y1="91" x2="234.27" y2="92.1" stroke="#000" stroke-width="0.6"/>
<line x1="235.81" y1="91" x2="235.81" y2="92.1" stroke="#000" stroke-width="0.6"/>
<line x1="237.07" y1="91" x2="237.07" y2="92.1" stroke="#000" stroke-width="0.6"/>
<line x1="238.14" y1="91" x2="238.14" y2="92.1" stroke="#000" stroke-width="0.6"/>
<line x1="239.06" y1="91" x2="239.06" y2="92.1" stroke="#000" stroke-width="0.6"/>
<line x1="239.87" y1="91" x2="239.87" y2="92.1" stroke="#000" stroke-width="0.6"/>
<line x1="245.27" y1="91" x2="245.27" y2="92.1" stroke="#000" stroke-width="0.6"/>
<line x1="248" y1="91" x2="248" y2="92.1" stroke="#000" stroke-width="0.6"/>
<line x1="249.93" y1="91" x2="249.93" y2="92.1" stroke="#000" stroke-width="0.6"/>
<line x1="251.43" y1="91" x2="251.43" y2="92.1" stroke="#000" stroke-width="0.6"/>
<line x1="252.66" y1="91" x2="252.66" y2="92.1" stroke="#000" stroke-width="0.6"/>
<line x1="253.7" y1="91" x2="253.7" y2="92.1" stroke="#000" stroke-width="0.6"/>
<line x1="254.6" y1="91" x2="254.6" y2="92.1" stroke="#000" stroke-width="0.6"/>
<line x1="255.39" y1="91" x2="255.39" y2="92.1" stroke="#000" stroke-width="0.6"/>
<line x1="260.71" y1="91" x2="260.71" y2="92.1" stroke="#000" stroke-width="0.6"/>
<line x1="263.4" y1="91" x2="263.4" y2="92.1" stroke="#000" stroke-width="0.6"/>
<line x1="265.31" y1="91" x2="265.31" y2="92.1" stroke="#000" stroke-width="0.6"/>
<line x1="266.79" y1="91" x2="266.79" y2="92.1" stroke="#000" stroke-width="0.6"/>
<line x1="268.01" y1="91" x2="268.01" y2="92.1" stroke="#000" stroke-width="0.6"/>
<line x1="269.03" y1="91" x2="269.03" y2="92.1" stroke="#000" stroke-width="0.6"/>
<line x1="269.92" y1="91" x2="269.92" y2="92.1" stroke="#000" stroke-width="0.6"/>
<line x1="270.7" y1="91" x2="270.7" y2="92.1" stroke="#000" stroke-width="0.6"/>
<line x1="217.2" y1="91" x2="217.2" y2="93" stroke="#000" stroke-width="0.8"/>
<line x1="212.7" y1="91" x2="212.7" y2="92.1" stroke="#000" stroke-width="0.6"/>
<line x1="214.7" y1="91" x2="214.7" y2="92.1" stroke="#000" stroke-width="0.6"/>
<line x1="220.7" y1="91" x2="220.7" y2="92.1" stroke="#000" stroke-width="0.6"/>
<text x="217.2" y="100.8" font-size="5.2" text-anchor="middle">0</text>
<text x="225.3" y="100.8" font-size="5.2" text-anchor="middle">10<tspan font-size="3.2" dy="-2.2">2</tspan></text>
<text x="241.2" y="100.8" font-size="5.2" text-anchor="middle">10<tspan font-size="3.2" dy="-2.2">3</tspan></text>
<text x="256.7" y="100.8" font-size="5.2" text-anchor="middle">10<tspan font-size="3.2" dy="-2.2">4</tspan></text>
<text x="272" y="100.8" font-size="5.2" text-anchor="middle">10<tspan font-size="3.2" dy="-2.2">5</tspan></text>
<text x="204.9" y="36.6" font-size="5.2" text-anchor="end">10<tspan font-size="3.2" dy="-2.2">5</tspan></text>
<text x="204.9" y="50.4" font-size="5.2" text-anchor="end">10<tspan font-size="3.2" dy="-2.2">4</tspan></text>
<text x="204.9" y="64.9" font-size="5.2" text-anchor="end">10<tspan font-size="3.2" dy="-2.2">3</tspan></text>
<text x="204.9" y="79.5" font-size="5.2" text-anchor="end">10<tspan font-size="3.2" dy="-2.2">2</tspan></text>
<text x="204.6" y="84.5" font-size="5.2" text-anchor="end">0</text>
<text x="211.4" y="34" font-size="6.5">&lt;1%</text>
<text x="276.1" y="34" font-size="6.5" text-anchor="end">&lt;1%</text>
<text x="211.4" y="89.6" font-size="6.5">7%</text>
<text x="276.1" y="89.6" font-size="6.5" text-anchor="end">93%</text>
<text transform="translate(191.7 59.8) rotate(-90)" x="0" y="0" font-size="7.8" text-anchor="middle" textLength="13.8" lengthAdjust="spacingAndGlyphs">EpoR</text>
<line x1="326.5" y1="28.6" x2="326.5" y2="91" stroke="#a0a0a0" stroke-width="0.9"/>
<line x1="303.1" y1="69.5" x2="370.1" y2="69.5" stroke="#a0a0a0" stroke-width="0.9"/>
<ellipse cx="335.8" cy="63" rx="23.5" ry="6" transform="rotate(-42 335.8 63)" fill="#000"/>
<ellipse cx="320.2" cy="77.8" rx="6.4" ry="6" transform="rotate(0 320.2 77.8)" fill="#000"/>
<path stroke="#000" stroke-opacity="0.5" stroke-width="0.7" stroke-linecap="square" fill="none" d="M304 78.5h0m.5-13h0m.5 10h0m0 8h0m.5-2.5h0m.5-16h0m0 12.5h0m.5-7h0m0 1h0m0 10h0m0 3h0m0 .5h0m.5-4.5h0m0 4.5h0m.5-20.5h0m0 17h0m0 4h0m0 4h0m.5-16h0m0 12h0m0 2.5h0m.5-15h0m0 .5h0m0 3.5h0m0 2h0m0 3.5h0m0 4.5h0m0 1h0m.5-9h0m0 5.5h0m0 2h0m.5-13h0m0 1h0m0 .5h0m0 1h0m0 2h0m0 3h0m0 1.5h0m0 .5h0m0 1h0m0 1.5h0m.5-33.5h0m0 15h0m0 2.5h0m0 8h0m0 2h0m0 1h0m0 .5h0m0 2h0m0 3h0m0 .5h0m0 2h0m.5-20h0m0 2.5h0m0 3h0m0 .5h0m0 .5h0m0 2.5h0m0 .5h0m0 1.5h0m0 3h0m0 2h0m0 1.5h0m0 4h0m.5-21.5h0m0 1h0m0 5h0m0 1.5h0m0 1h0m0 1.5h0m0 2.5h0m0 2.5h0m0 3h0m0 1.5h0m.5-15h0m0 2h0m0 2.5h0m0 1.5h0m0 1.5h0m0 1h0m0 2.5h0m0 5.5h0m.5-27.5h0m0 9h0m0 1.5h0m0 4h0m0 3.5h0m0 1h0m0 2.5h0m0 3h0m0 .5h0m.5-26h0m0 6.5h0m0 4h0m0 .5h0m0 .5h0m0 4h0m0 .5h0m0 1h0m0 2.5h0m0 .5h0m0 1h0m0 2.5h0m0 4.5h0m.5-29h0m0 2.5h0m0 6h0m0 2.5h0m0 .5h0m0 .5h0m0 3h0m0 1.5h0m0 1h0m0 .5h0m0 .5h0m0 3h0m0 .5h0m0 1h0m0 1h0m0 1.5h0m.5-18.5h0m0 1.5h0m0 3h0m0 .5h0m0 .5h0m0 .5h0m0 2h0m0 2h0m0 .5h0m0 2h0m0 .5h0m0 .5h0m0 2h0m0 .5h0m0 3h0m0 1h0m0 1h0m0 1h0m.5-34h0m0 14.5h0m0 2.5h0m0 1h0m0 2h0m0 .5h0m0 1.5h0m0 1.5h0m0 .5h0m0 .5h0m0 2h0m0 1.5h0m0 .5h0m.5-14h0m0 1.5h0m0 4h0m0 1.5h0m0 1h0m0 8h0m.5-49.5h0m0 27h0m0 3.5h0m0 5h0m0 1h0m0 1h0m0 .5h0m0 .5h0m0 1.5h0m0 1.5h0m0 .5h0m0 1.5h0m0 1h0m0 1h0m0 .5h0m0 2h0m0 1.5h0m0 .5h0m0 1h0m.5-24h0m0 4h0m0 3.5h0m0 2h0m0 2h0m0 3h0m0 1.5h0m0 2.5h0m0 1h0m0 .5h0m0 1h0m0 .5h0m0 .5h0m0 .5h0m0 .5h0m0 1h0m0 .5h0m0 2h0m0 .5h0m.5-34.5h0m0 12.5h0m0 2.5h0m0 1h0m0 1.5h0m0 2h0m0 .5h0m0 .5h0m0 .5h0m0 2.5h0m0 .5h0m0 1h0m0 2.5h0m0 .5h0m0 .5h0m0 3.5h0m.5-34.5h0m0 11h0m0 2h0m0 3h0m0 3h0m0 3h0m0 1h0m0 2h0m0 .5h0m0 4h0m0 .5h0m0 .5h0m0 1.5h0m0 3h0m0 1h0m0 .5h0m.5-31h0m0 1h0m0 5.5h0m0 1h0m0 .5h0m0 2.5h0m0 1.5h0m0 1h0m0 .5h0m0 .5h0m0 .5h0m0 .5h0m0 1.5h0m0 .5h0m0 .5h0m0 1h0m0 .5h0m0 1h0m0 2h0m0 .5h0m0 1.5h0m0 2h0m0 2.5h0m0 2.5h0m0 .5h0m.5-43h0m0 10h0m0 2.5h0m0 9h0m0 1h0m0 1h0m0 .5h0m0 .5h0m0 .5h0m0 .5h0m0 1.5h0m0 1h0m0 .5h0m0 1h0m0 4h0m0 .5h0m0 2.5h0m0 7h0m.5-33.5h0m0 2.5h0m0 1h0m0 2h0m0 2.5h0m0 4h0m0 .5h0m0 1.5h0m0 2h0m0 3h0m0 1h0m0 3.5h0m0 .5h0m0 1.5h0m0 .5h0m0 1h0m.5-26h0m0 9h0m0 2h0m0 2h0m0 1h0m0 4.5h0m0 .5h0m0 1h0m0 .5h0m0 3h0m0 1h0m0 .5h0m0 1h0m0 1h0m.5-21h0m0 .5h0m0 3h0m0 2h0m0 .5h0m0 .5h0m0 1h0m0 1.5h0m0 3h0m0 2.5h0m0 3.5h0m0 .5h0m0 2.5h0m0 1h0m0 1h0m.5-19.5h0m0 2h0m0 .5h0m0 .5h0m0 1h0m0 .5h0m0 1.5h0m0 1h0m0 .5h0m0 1h0m0 .5h0m0 2h0m0 1h0m0 .5h0m0 .5h0m0 5h0m0 1.5h0m0 .5h0m0 2.5h0m.5-23h0m0 2h0m0 3.5h0m0 .5h0m0 1h0m0 1h0m0 1h0m0 3.5h0m0 .5h0m0 1h0m0 3h0m0 1h0m0 1h0m0 1h0m0 1h0m0 1h0m.5-32.5h0m0 2h0m0 4.5h0m0 1h0m0 .5h0m0 6h0m0 3.5h0m0 .5h0m0 4.5h0m0 .5h0m0 .5h0m0 2h0m0 2.5h0m0 3h0m0 1h0m.5-28h0m0 2h0m0 1.5h0m0 1.5h0m0 1.5h0m0 1h0m0 1.5h0m0 .5h0m0 .5h0m0 .5h0m0 2h0m0 1h0m0 2h0m0 4.5h0m0 1h0m0 1h0m0 .5h0m0 1h0m0 1h0m0 3h0m.5-32h0m0 4h0m0 2h0m0 4h0m0 1.5h0m0 2h0m0 .5h0m0 .5h0m0 2h0m0 2.5h0m0 2.5h0m0 4.5h0m0 1h0m0 1h0m0 2h0m.5-30h0m0 9.5h0m0 5.5h0m0 2.5h0m0 1h0m0 2.5h0m0 1.5h0m0 1h0m0 1h0m0 .5h0m0 .5h0m0 .5h0m0 .5h0m0 2h0m0 3h0m.5-38.5h0m0 8h0m0 3h0m0 1.5h0m0 1h0m0 .5h0m0 3.5h0m0 2.5h0m0 6h0m0 2.5h0m0 4.5h0m0 1.5h0m0 1h0m0 1h0m0 .5h0m.5-31h0m0 3.5h0m0 3h0m0 .5h0m0 5h0m0 1h0m0 2.5h0m0 3h0m0 6.5h0m0 1h0m0 1h0m0 .5h0m0 2h0m0 1h0m0 .5h0m0 .5h0m0 1.5h0m.5-31h0m0 1h0m0 2h0m0 2h0m0 2.5h0m0 2.5h0m0 1.5h0m0 1h0m0 .5h0m0 .5h0m0 2.5h0m0 .5h0m0 7.5h0m0 .5h0m0 4.5h0m0 2.5h0m.5-39h0m0 8.5h0m0 3.5h0m0 3.5h0m0 1.5h0m0 .5h0m0 2h0m0 .5h0m0 1h0m0 3h0m0 .5h0m0 1h0m0 1h0m0 4h0m0 2.5h0m0 1h0m0 .5h0m.5-39.5h0m0 10h0m0 8.5h0m0 1h0m0 2.5h0m0 .5h0m0 .5h0m0 3.5h0m0 .5h0m0 1.5h0m0 .5h0m0 .5h0m0 .5h0m0 .5h0m0 .5h0m0 1h0m0 2h0m0 2h0m0 1h0m0 1h0m0 .5h0m0 1.5h0m0 1h0m0 1h0m0 2h0m.5-32.5h0m0 2h0m0 .5h0m0 5.5h0m0 1h0m0 .5h0m0 3.5h0m0 1.5h0m0 2.5h0m0 1.5h0m0 1h0m0 1.5h0m0 1.5h0m0 1.5h0m0 .5h0m0 1.5h0m0 1.5h0m0 1h0m0 4.5h0m.5-34h0m0 1.5h0m0 1h0m0 4.5h0m0 1h0m0 5.5h0m0 .5h0m0 1h0m0 2h0m0 1h0m0 .5h0m0 .5h0m0 1h0m0 .5h0m0 2h0m0 .5h0m0 5.5h0m0 .5h0m0 .5h0m0 1.5h0m0 1.5h0m0 1.5h0m.5-36.5h0m0 2h0m0 .5h0m0 3h0m0 6h0m0 .5h0m0 .5h0m0 2h0m0 .5h0m0 .5h0m0 .5h0m0 .5h0m0 3.5h0m0 .5h0m0 1h0m0 1h0m0 1.5h0m0 .5h0m0 3h0m0 .5h0m0 1h0m0 1.5h0m0 1h0m0 .5h0m0 1h0m0 1.5h0m.5-38.5h0m0 2h0m0 6h0m0 3h0m0 .5h0m0 1h0m0 1h0m0 1.5h0m0 .5h0m0 .5h0m0 1h0m0 2h0m0 .5h0m0 2h0m0 1h0m0 3h0m0 2.5h0m0 .5h0m0 1h0m0 .5h0m0 2.5h0m0 2.5h0m0 4.5h0m0 1h0m.5-37h0m0 4h0m0 2.5h0m0 2h0m0 .5h0m0 .5h0m0 1.5h0m0 2h0m0 .5h0m0 .5h0m0 .5h0m0 3.5h0m0 .5h0m0 1h0m0 .5h0m0 1.5h0m0 5h0m0 1.5h0m0 1.5h0m0 1h0m.5-28h0m0 .5h0m0 5.5h0m0 2.5h0m0 1h0m0 .5h0m0 .5h0m0 .5h0m0 1h0m0 2h0m0 .5h0m0 1h0m0 .5h0m0 .5h0m0 .5h0m0 .5h0m0 .5h0m0 1h0m0 1.5h0m0 1h0m0 .5h0m0 .5h0m0 1h0m0 2.5h0m.5-22.5h0m0 2.5h0m0 .5h0m0 2h0m0 .5h0m0 .5h0m0 1h0m0 1h0m0 1h0m0 2.5h0m0 .5h0m0 1.5h0m0 1h0m0 .5h0m0 .5h0m0 1h0m0 .5h0m0 1h0m0 2.5h0m0 .5h0m0 2h0m0 3.5h0m0 3h0m.5-36h0m0 4.5h0m0 2h0m0 .5h0m0 .5h0m0 1.5h0m0 1h0m0 1h0m0 4h0m0 .5h0m0 .5h0m0 2.5h0m0 1.5h0m0 .5h0m0 1.5h0m0 .5h0m0 1h0m0 1h0m0 2h0m0 2.5h0m0 4h0m0 1h0m.5-44h0m0 14h0m0 3.5h0m0 .5h0m0 1.5h0m0 .5h0m0 6.5h0m0 .5h0m0 1.5h0m0 2h0m0 2h0m0 1h0m0 1.5h0m0 2.5h0m0 .5h0m.5-31h0m0 5h0m0 .5h0m0 .5h0m0 3h0m0 4.5h0m0 1h0m0 1h0m0 1.5h0m0 .5h0m0 3h0m0 3h0m0 .5h0m0 .5h0m0 .5h0m0 2h0m0 .5h0m0 1h0m0 2h0m0 .5h0m0 2.5h0m0 1h0m.5-36.5h0m0 6h0m0 3h0m0 2h0m0 2h0m0 1h0m0 .5h0m0 1h0m0 .5h0m0 2.5h0m0 .5h0m0 2.5h0m0 .5h0m0 .5h0m0 2h0m0 2.5h0m0 1.5h0m0 1h0m0 .5h0m0 4h0m0 5.5h0m.5-34.5h0m0 4h0m0 1h0m0 .5h0m0 .5h0m0 1h0m0 2h0m0 1h0m0 4.5h0m0 2.5h0m0 1.5h0m0 .5h0m0 .5h0m0 1.5h0m0 1h0m0 1h0m0 2.5h0m0 .5h0m0 2h0m0 3h0m0 3h0m.5-36h0m0 1.5h0m0 1h0m0 4.5h0m0 1.5h0m0 1h0m0 1.5h0m0 2.5h0m0 .5h0m0 1h0m0 1.5h0m0 3.5h0m0 2h0m0 1h0m0 .5h0m0 2h0m0 1h0m0 1.5h0m0 1h0m0 1h0m0 1.5h0m.5-35.5h0m0 5h0m0 1h0m0 2.5h0m0 2h0m0 2h0m0 .5h0m0 2.5h0m0 .5h0m0 1h0m0 .5h0m0 1h0m0 2.5h0m0 1.5h0m0 2.5h0m0 1.5h0m0 .5h0m0 1h0m0 2.5h0m0 .5h0m0 2h0m0 .5h0m0 2h0m0 1.5h0m.5-26.5h0m0 1.5h0m0 1h0m0 1h0m0 1h0m0 1h0m0 1h0m0 3.5h0m0 3h0m0 3h0m0 5h0m0 3.5h0m0 5h0m.5-35.5h0m0 1h0m0 1h0m0 .5h0m0 4.5h0m0 .5h0m0 .5h0m0 1.5h0m0 .5h0m0 .5h0m0 2.5h0m0 .5h0m0 1.5h0m0 1h0m0 1.5h0m0 1.5h0m0 1h0m0 1.5h0m0 .5h0m0 1.5h0m0 1h0m0 .5h0m0 5h0m0 1.5h0m.5-40.5h0m0 2h0m0 8.5h0m0 1h0m0 1.5h0m0 4h0m0 2h0m0 .5h0m0 .5h0m0 5.5h0m0 2.5h0m0 1h0m0 1h0m0 1h0m0 2h0m0 1.5h0m0 1h0m0 .5h0m0 .5h0m0 .5h0m0 1h0m0 2h0m.5-29.5h0m0 1.5h0m0 1h0m0 4h0m0 .5h0m0 .5h0m0 1.5h0m0 1.5h0m0 1h0m0 2.5h0m0 1.5h0m0 1h0m0 .5h0m0 .5h0m0 1h0m0 2.5h0m0 10.5h0m.5-31h0m0 3.5h0m0 2h0m0 1h0m0 1h0m0 2.5h0m0 2h0m0 2h0m0 3h0m0 2.5h0m0 1h0m0 2.5h0m0 .5h0m0 1.5h0m0 .5h0m0 2h0m0 1h0m.5-37.5h0m0 8.5h0m0 1h0m0 1.5h0m0 2h0m0 .5h0m0 2.5h0m0 1h0m0 .5h0m0 1h0m0 2h0m0 4h0m0 1h0m0 1h0m0 1.5h0m0 1h0m0 1h0m0 1h0m0 1.5h0m.5-23.5h0m0 2h0m0 .5h0m0 1.5h0m0 1h0m0 1.5h0m0 2.5h0m0 2h0m0 .5h0m0 1.5h0m0 .5h0m0 1h0m0 .5h0m0 .5h0m0 2h0m0 2h0m0 1h0m0 1h0m0 1h0m0 3.5h0m0 .5h0m0 6h0m.5-33h0m0 3.5h0m0 1h0m0 .5h0m0 4h0m0 .5h0m0 .5h0m0 1h0m0 .5h0m0 .5h0m0 1.5h0m0 1.5h0m0 1h0m0 1.5h0m0 2.5h0m0 1h0m0 .5h0m0 .5h0m0 2h0m0 1.5h0m0 3.5h0m0 6h0m.5-35.5h0m0 3h0m0 1.5h0m0 1h0m0 .5h0m0 1.5h0m0 2.5h0m0 3h0m0 .5h0m0 1.5h0m0 .5h0m0 .5h0m0 .5h0m0 1.5h0m0 .5h0m0 1.5h0m0 1h0m0 .5h0m0 .5h0m0 1h0m0 1h0m0 3h0m0 1.5h0m0 1h0m0 .5h0m0 .5h0m.5-37h0m0 3.5h0m0 1h0m0 4.5h0m0 2h0m0 2h0m0 .5h0m0 .5h0m0 .5h0m0 4h0m0 2h0m0 1h0m0 1.5h0m0 1h0m0 1h0m0 1.5h0m0 2h0m0 1.5h0m0 .5h0m0 .5h0m0 .5h0m.5-28.5h0m0 2h0m0 3h0m0 2h0m0 .5h0m0 .5h0m0 .5h0m0 2h0m0 4.5h0m0 3.5h0m0 .5h0m0 2h0m0 .5h0m0 4h0m0 4h0m.5-30h0m0 2h0m0 .5h0m0 1h0m0 1h0m0 1h0m0 1.5h0m0 .5h0m0 .5h0m0 3h0m0 1h0m0 1.5h0m0 1h0m0 .5h0m0 1h0m0 .5h0m0 2.5h0m0 .5h0m0 .5h0m0 2h0m0 .5h0m0 1h0m0 1h0m0 1h0m0 4h0m0 1.5h0m0 1.5h0m.5-34h0m0 7.5h0m0 .5h0m0 3h0m0 .5h0m0 3.5h0m0 2.5h0m0 1.5h0m0 4h0m0 1.5h0m0 .5h0m0 1h0m0 .5h0m0 2.5h0m0 1.5h0m0 .5h0m.5-26.5h0m0 1h0m0 1h0m0 1.5h0m0 1h0m0 .5h0m0 .5h0m0 .5h0m0 2h0m0 1h0m0 1h0m0 1h0m0 2h0m0 2.5h0m0 2h0m0 2h0m0 1h0m0 .5h0m0 1.5h0m0 1.5h0m0 1.5h0m0 4h0m.5-34h0m0 2.5h0m0 2.5h0m0 .5h0m0 .5h0m0 .5h0m0 1.5h0m0 .5h0m0 1h0m0 .5h0m0 6.5h0m0 1h0m0 .5h0m0 .5h0m0 2.5h0m0 .5h0m0 .5h0m0 1h0m0 .5h0m0 1h0m0 1h0m0 .5h0m.5-27.5h0m0 3h0m0 1h0m0 .5h0m0 .5h0m0 1h0m0 2h0m0 .5h0m0 .5h0m0 2h0m0 .5h0m0 .5h0m0 1h0m0 .5h0m0 1h0m0 2h0m0 .5h0m0 3h0m0 .5h0m0 1h0m0 1.5h0m.5-30h0m0 10.5h0m0 1h0m0 .5h0m0 3h0m0 .5h0m0 2.5h0m0 1h0m0 2h0m0 4.5h0m0 2.5h0m0 .5h0m0 2.5h0m0 .5h0m0 1.5h0m0 .5h0m0 2h0m.5-30.5h0m0 3h0m0 2.5h0m0 .5h0m0 1h0m0 1.5h0m0 .5h0m0 3h0m0 .5h0m0 .5h0m0 2h0m0 2h0m0 6h0m0 1.5h0m0 .5h0m0 .5h0m0 1h0m0 .5h0m0 1.5h0m0 1h0m0 1h0m0 4h0m.5-31.5h0m0 .5h0m0 2h0m0 4h0m0 .5h0m0 1h0m0 1h0m0 1h0m0 2h0m0 .5h0m0 .5h0m0 3.5h0m0 .5h0m0 1h0m0 .5h0m0 1h0m0 1h0m0 1.5h0m0 1.5h0m0 .5h0m0 .5h0m0 5h0m.5-23h0m0 2.5h0m0 2.5h0m0 1h0m0 .5h0m0 1.5h0m0 1.5h0m0 .5h0m0 .5h0m0 .5h0m0 2.5h0m0 .5h0m0 .5h0m0 .5h0m0 .5h0m0 1.5h0m0 1h0m0 2h0m0 1.5h0m0 .5h0m0 6.5h0m.5-40h0m0 2.5h0m0 3h0m0 5h0m0 1h0m0 1h0m0 1.5h0m0 .5h0m0 1.5h0m0 1.5h0m0 .5h0m0 2h0m0 2h0m0 2h0m0 1.5h0m0 2.5h0m0 .5h0m0 .5h0m0 .5h0m0 .5h0m0 .5h0m0 1h0m.5-28.5h0m0 .5h0m0 .5h0m0 .5h0m0 1.5h0m0 2h0m0 .5h0m0 3h0m0 .5h0m0 .5h0m0 .5h0m0 .5h0m0 .5h0m0 1h0m0 1.5h0m0 3.5h0m0 3h0m0 .5h0m0 3h0m0 .5h0m0 3.5h0m0 .5h0m0 1.5h0m0 3.5h0m.5-38.5h0m0 6h0m0 5h0m0 .5h0m0 2h0m0 1h0m0 1h0m0 1h0m0 .5h0m0 .5h0m0 3h0m0 .5h0m0 1.5h0m0 .5h0m0 .5h0m0 1.5h0m0 4h0m0 2.5h0m0 .5h0m0 9.5h0m.5-38h0m0 2h0m0 1h0m0 .5h0m0 4.5h0m0 4h0m0 2.5h0m0 .5h0m0 .5h0m0 2.5h0m0 .5h0m0 .5h0m0 3.5h0m0 3h0m0 1.5h0m0 3h0m0 .5h0m0 5h0m0 7h0m.5-36.5h0m0 1h0m0 1h0m0 2h0m0 .5h0m0 2h0m0 .5h0m0 .5h0m0 2.5h0m0 2.5h0m0 1h0m0 .5h0m0 1h0m0 1h0m0 4h0m0 1.5h0m.5-31h0m0 3h0m0 5.5h0m0 4h0m0 .5h0m0 2.5h0m0 .5h0m0 .5h0m0 1h0m0 1h0m0 .5h0m0 2h0m0 1h0m0 .5h0m0 1.5h0m0 .5h0m0 .5h0m0 .5h0m0 1h0m0 10.5h0m.5-34.5h0m0 3.5h0m0 5h0m0 2h0m0 .5h0m0 1h0m0 1.5h0m0 1.5h0m0 .5h0m0 .5h0m0 1h0m0 1h0m0 1h0m0 1.5h0m0 .5h0m0 .5h0m0 1.5h0m0 3h0m0 3h0m0 4h0m0 .5h0m0 2h0m.5-32.5h0m0 4h0m0 2h0m0 .5h0m0 2h0m0 1h0m0 .5h0m0 .5h0m0 1.5h0m0 1h0m0 4.5h0m0 1h0m0 2h0m0 .5h0m0 1h0m0 3h0m0 1h0m0 8.5h0m.5-38h0m0 1.5h0m0 3.5h0m0 3.5h0m0 4h0m0 1.5h0m0 3h0m0 .5h0m0 .5h0m0 .5h0m0 1.5h0m0 4h0m0 1.5h0m0 .5h0m0 1h0m0 .5h0m0 3.5h0m.5-25.5h0m0 .5h0m0 1.5h0m0 .5h0m0 1h0m0 1h0m0 .5h0m0 .5h0m0 .5h0m0 2.5h0m0 1.5h0m0 .5h0m0 1h0m0 1h0m0 .5h0m0 .5h0m0 .5h0m0 1.5h0m0 1h0m0 .5h0m0 1h0m0 1h0m.5-22h0m0 .5h0m0 .5h0m0 1h0m0 1h0m0 2h0m0 .5h0m0 1h0m0 1h0m0 4h0m0 2.5h0m0 .5h0m0 .5h0m0 2h0m0 1.5h0m0 .5h0m0 .5h0m0 1h0m0 .5h0m0 1h0m0 1.5h0m0 4h0m0 .5h0m0 .5h0m.5-33.5h0m0 5h0m0 1h0m0 1h0m0 3h0m0 .5h0m0 1.5h0m0 .5h0m0 .5h0m0 2.5h0m0 1.5h0m0 2h0m0 .5h0m0 2h0m0 1.5h0m0 3h0m0 .5h0m0 2.5h0m0 .5h0m0 2.5h0m0 5h0m.5-31h0m0 2h0m0 2h0m0 1h0m0 1h0m0 1.5h0m0 .5h0m0 1h0m0 1h0m0 1h0m0 2h0m0 1h0m0 1.5h0m0 1h0m0 3h0m.5-26.5h0m0 8h0m0 2h0m0 1h0m0 1h0m0 1h0m0 1h0m0 1h0m0 .5h0m0 .5h0m0 .5h0m0 .5h0m0 6h0m0 2.5h0m0 2h0m0 4h0m.5-32.5h0m0 9h0m0 1h0m0 2h0m0 1h0m0 4h0m0 .5h0m0 .5h0m0 1h0m0 2h0m0 .5h0m0 .5h0m0 .5h0m0 2h0m0 1.5h0m0 3h0m0 4h0m0 1.5h0m.5-32h0m0 2.5h0m0 5.5h0m0 .5h0m0 .5h0m0 4h0m0 4h0m0 3.5h0m0 .5h0m.5-22.5h0m0 7h0m0 1h0m0 2.5h0m0 1h0m0 .5h0m0 .5h0m0 2.5h0m0 .5h0m0 1.5h0m0 .5h0m0 2h0m0 .5h0m0 .5h0m0 .5h0m0 .5h0m0 1h0m0 .5h0m0 2h0m0 .5h0m0 .5h0m0 .5h0m0 1.5h0m0 4h0m0 4h0m0 15h0m.5-48.5h0m0 .5h0m0 2.5h0m0 .5h0m0 3.5h0m0 3.5h0m0 3.5h0m0 1h0m0 1h0m0 .5h0m0 .5h0m0 1h0m0 1h0m0 1.5h0m0 1h0m0 1h0m0 1.5h0m.5-22h0m0 2h0m0 2.5h0m0 2h0m0 2.5h0m0 .5h0m0 .5h0m0 1h0m0 6h0m0 3h0m0 1h0m0 .5h0m0 1h0m0 .5h0m0 2h0m.5-25h0m0 .5h0m0 .5h0m0 3.5h0m0 1.5h0m0 1.5h0m0 3h0m0 .5h0m0 4.5h0m0 2.5h0m0 2h0m0 .5h0m0 2.5h0m.5-18.5h0m0 2h0m0 2h0m0 2.5h0m0 1.5h0m0 .5h0m0 1.5h0m0 1h0m0 .5h0m0 1h0m0 1.5h0m0 2h0m0 5h0m.5-35.5h0m0 5h0m0 8.5h0m0 1.5h0m0 .5h0m0 2.5h0m0 2h0m0 .5h0m0 .5h0m0 1h0m0 .5h0m0 1h0m0 .5h0m0 1.5h0m0 6.5h0m0 .5h0m0 .5h0m.5-30h0m0 4h0m0 3h0m0 .5h0m0 .5h0m0 .5h0m0 1.5h0m0 1.5h0m0 .5h0m0 2h0m0 1.5h0m0 .5h0m0 1h0m0 .5h0m0 2.5h0m0 1.5h0m0 1h0m0 2h0m0 1h0m0 .5h0m0 .5h0m0 1.5h0m0 3.5h0m0 5h0m.5-37.5h0m0 4.5h0m0 4.5h0m0 .5h0m0 1.5h0m0 .5h0m0 .5h0m0 .5h0m0 5.5h0m0 3.5h0m0 .5h0m0 3h0m0 3.5h0m0 .5h0m0 3h0m.5-26.5h0m0 1.5h0m0 .5h0m0 1h0m0 1.5h0m0 .5h0m0 .5h0m0 2h0m0 3h0m0 1.5h0m0 1.5h0m0 1h0m0 10h0m0 1h0m0 .5h0m.5-28h0m0 2h0m0 1h0m0 .5h0m0 5h0m0 .5h0m0 1h0m0 3.5h0m0 2h0m0 2h0m0 1.5h0m0 3.5h0m0 4.5h0m.5-21h0m0 1.5h0m0 .5h0m0 1h0m0 2h0m0 1.5h0m0 8h0m0 1h0m0 .5h0m0 1.5h0m0 2.5h0m0 1.5h0m.5-23h0m0 2.5h0m0 .5h0m0 1.5h0m0 2.5h0m0 4h0m0 1.5h0m0 .5h0m0 .5h0m0 2.5h0m0 1.5h0m0 3.5h0m.5-30.5h0m0 6.5h0m0 1.5h0m0 1.5h0m0 .5h0m0 4.5h0m0 2.5h0m0 1h0m0 1.5h0m0 1h0m0 .5h0m0 1h0m0 6.5h0m.5-23h0m0 2h0m0 2.5h0m0 2.5h0m0 .5h0m0 6h0m0 1h0m.5-8.5h0m0 .5h0m0 .5h0m0 .5h0m0 1h0m0 1h0m0 1.5h0m0 1.5h0m0 1h0m0 2h0m0 3h0m0 1.5h0m0 5h0m.5-26h0m0 7.5h0m0 2h0m0 2h0m0 5.5h0m0 1h0m0 .5h0m0 1.5h0m0 .5h0m0 3h0m0 2h0m.5-19h0m0 6.5h0m0 1.5h0m0 2.5h0m0 7h0m.5-23.5h0m0 6h0m0 1h0m0 3.5h0m.5-14h0m0 6h0m0 1h0m0 .5h0m0 1h0m0 6.5h0m0 .5h0m0 1h0m0 1.5h0m0 1.5h0m0 6h0m.5-23h0m0 5.5h0m0 1h0m0 .5h0m0 3h0m0 3h0m.5-17h0m0 9.5h0m0 1.5h0m0 2h0m0 3.5h0m0 1h0m0 2.5h0m0 .5h0m0 1.5h0m0 3.5h0m0 4.5h0m.5-22.5h0m0 1h0m0 2h0m0 2h0m0 2h0m0 1.5h0m.5-13.5h0m0 6h0m0 6h0m0 1h0m.5-17h0m0 7h0m0 2h0m0 2h0m0 17.5h0m0 6h0m.5-23.5h0m0 5h0m0 10h0m.5-22.5h0m0 5h0m0 3.5h0m0 1h0m0 3h0m0 1h0m0 3.5h0m0 1h0m0 2h0m.5-21h0m0 6h0m0 2h0m0 .5h0m0 .5h0m0 6.5h0m0 7.5h0m.5-21.5h0m0 2.5h0m0 3.5h0m0 3h0m.5-9h0m0 .5h0m0 5h0m0 2.5h0m0 4h0m0 1.5h0m.5-6.5h0m.5 1h0m0 3h0m0 12h0m.5-20h0m0 1.5h0m0 1h0m0 10h0m.5-12h0m.5 16.5h0m.5-24h0m0 4h0m0 9h0m0 9.5h0m.5-12.5h0m.5-7h0m0 3h0m0 4.5h0m.5-4h0m.5-1.5h0"/>
<path stroke="#000" stroke-opacity="0.75" stroke-width="0.7" stroke-linecap="square" fill="none" d="M309 78h0m1.5-1h0m0 1.5h0m0 7h0m.5-5.5h0m.5-22h0m0 18h0m0 6.5h0m.5-7h0m0 3.5h0m0 6.5h0m.5-11.5h0m0 7.5h0m0 4h0m.5-5.5h0m.5-2h0m0 .5h0m.5-2.5h0m0 .5h0m0 1h0m0 5h0m.5-11h0m0 1h0m0 4.5h0m0 1h0m0 1.5h0m0 2.5h0m0 1.5h0m.5-13.5h0m0 5.5h0m0 1h0m0 .5h0m0 1.5h0m0 .5h0m0 6h0m.5-12h0m0 3h0m0 4h0m0 .5h0m.5-7h0m0 3.5h0m0 .5h0m0 .5h0m0 .5h0m0 2.5h0m0 .5h0m.5-5h0m0 2.5h0m0 1.5h0m0 .5h0m0 3h0m.5-9.5h0m0 3.5h0m0 1h0m0 2.5h0m0 .5h0m.5-19.5h0m0 17.5h0m0 2h0m0 1h0m0 1h0m0 1.5h0m.5-13.5h0m0 .5h0m0 1h0m0 1h0m0 2h0m0 1.5h0m0 .5h0m0 9h0m0 .5h0m.5-21.5h0m0 4h0m0 3h0m0 .5h0m0 1h0m0 9.5h0m0 1.5h0m.5-12.5h0m0 .5h0m0 6h0m0 1h0m0 2.5h0m0 1h0m0 4.5h0m.5-13.5h0m0 3.5h0m0 3h0m0 .5h0m0 .5h0m0 .5h0m0 1.5h0m0 1.5h0m.5-16.5h0m0 1.5h0m0 6h0m0 3h0m0 1h0m0 2h0m.5-18.5h0m0 4.5h0m0 .5h0m0 1.5h0m0 .5h0m0 3h0m0 3.5h0m0 3h0m0 1h0m0 .5h0m0 .5h0m.5-17.5h0m0 12h0m0 4h0m0 3.5h0m0 .5h0m.5-23h0m0 6h0m0 2h0m0 1h0m0 1h0m0 1.5h0m0 1h0m0 .5h0m0 5h0m0 2.5h0m.5-15h0m0 .5h0m0 .5h0m0 .5h0m0 .5h0m0 1h0m0 1.5h0m0 3h0m0 .5h0m0 1.5h0m0 2h0m0 3.5h0m.5-19.5h0m0 3.5h0m0 1h0m0 3.5h0m0 1h0m0 .5h0m0 2h0m0 2.5h0m0 1.5h0m0 5.5h0m0 3h0m.5-23.5h0m0 1h0m0 3h0m0 1h0m0 .5h0m0 2.5h0m0 1.5h0m0 1h0m0 1.5h0m0 1.5h0m0 1.5h0m0 4h0m.5-17h0m0 1.5h0m0 3h0m0 .5h0m0 1h0m0 1.5h0m0 1.5h0m0 .5h0m0 1h0m0 .5h0m0 1h0m0 .5h0m0 1.5h0m0 1.5h0m0 1.5h0m0 2h0m.5-21.5h0m0 4h0m0 2h0m0 3h0m0 2.5h0m0 5.5h0m0 4h0m0 1h0m.5-28h0m0 6.5h0m0 4h0m0 3.5h0m0 5.5h0m0 1.5h0m0 3h0m0 1.5h0m0 1.5h0m.5-19h0m0 2.5h0m0 1h0m0 .5h0m0 9h0m0 5h0m.5-22.5h0m0 2h0m0 .5h0m0 3.5h0m0 .5h0m0 6.5h0m0 2h0m0 .5h0m0 1.5h0m0 .5h0m0 1h0m0 .5h0m0 .5h0m0 .5h0m.5-18h0m0 12h0m0 2.5h0m0 .5h0m0 1h0m.5-16.5h0m0 3h0m0 .5h0m0 3h0m0 4h0m0 1.5h0m0 9h0m.5-27h0m0 11h0m0 1h0m0 3.5h0m0 .5h0m0 1h0m0 2h0m0 2h0m.5-18.5h0m0 4h0m0 10.5h0m0 3.5h0m0 2h0m0 2h0m0 2h0m.5-21.5h0m0 .5h0m0 4h0m0 1h0m0 .5h0m0 8.5h0m0 3.5h0m.5-23h0m0 3h0m0 3.5h0m0 1h0m0 1h0m0 2.5h0m0 .5h0m0 1h0m0 11.5h0m.5-16h0m0 .5h0m0 1h0m0 1h0m0 2h0m0 3h0m0 .5h0m.5-13h0m0 1h0m0 6h0m0 .5h0m0 1h0m0 2h0m0 6h0m.5-16.5h0m0 3.5h0m0 4h0m0 2.5h0m0 .5h0m0 2h0m0 .5h0m0 1h0m0 3h0m0 2h0m.5-24h0m0 7h0m0 .5h0m0 2.5h0m0 3h0m0 3.5h0m0 3.5h0m0 5.5h0m.5-23h0m0 2.5h0m0 1h0m0 1h0m0 .5h0m0 3h0m0 1h0m0 3.5h0m0 2h0m0 2h0m0 2.5h0m0 6h0m.5-22h0m0 4h0m0 1h0m0 4h0m0 3.5h0m0 1h0m0 .5h0m0 .5h0m0 5.5h0m.5-25.5h0m0 2h0m0 1h0m0 2h0m0 3h0m0 .5h0m0 .5h0m0 2.5h0m0 .5h0m0 .5h0m0 1h0m0 2h0m0 .5h0m0 .5h0m.5-16h0m0 3h0m0 .5h0m0 3h0m0 2h0m0 2.5h0m0 1.5h0m0 3h0m0 1.5h0m0 4h0m.5-17.5h0m0 .5h0m0 2.5h0m0 .5h0m0 1.5h0m0 .5h0m0 1.5h0m0 1h0m0 .5h0m0 .5h0m0 2.5h0m0 3h0m0 5h0m.5-22.5h0m0 1h0m0 5.5h0m0 1h0m0 1h0m0 2h0m0 5.5h0m0 1.5h0m.5-20.5h0m0 1.5h0m0 2.5h0m0 8.5h0m0 1h0m0 3h0m0 1.5h0m0 3h0m0 .5h0m.5-20h0m0 3h0m0 1h0m0 3.5h0m0 .5h0m0 1.5h0m0 2h0m0 1h0m0 1h0m0 4.5h0m.5-19h0m0 4.5h0m0 1h0m0 1h0m0 .5h0m0 1.5h0m.5-8.5h0m0 5.5h0m0 10.5h0m.5-17.5h0m0 3h0m0 2.5h0m0 3h0m0 3h0m0 1.5h0m0 .5h0m0 4.5h0m0 4.5h0m.5-23.5h0m0 4h0m0 9.5h0m0 2h0m0 1.5h0m0 1h0m.5-11.5h0m0 1.5h0m0 4.5h0m0 2h0m0 2h0m0 3h0m0 .5h0m0 1.5h0m.5-28h0m0 8.5h0m0 3.5h0m0 .5h0m0 .5h0m0 6.5h0m0 .5h0m.5-16h0m0 7.5h0m0 5h0m0 .5h0m0 2.5h0m0 1h0m0 1h0m0 .5h0m0 3h0m.5-21.5h0m0 6h0m0 5.5h0m0 2h0m0 3.5h0m0 1.5h0m.5-13.5h0m0 4.5h0m0 .5h0m0 2h0m0 1h0m0 1.5h0m0 2h0m0 3.5h0m0 1.5h0m0 3h0m.5-16h0m0 5h0m0 .5h0m0 1h0m0 .5h0m0 4h0m.5-14h0m0 2h0m0 1h0m0 .5h0m0 1.5h0m0 2h0m0 .5h0m0 2.5h0m0 4h0m.5-17.5h0m0 2.5h0m0 1h0m0 2h0m0 2h0m0 2.5h0m0 .5h0m0 .5h0m0 .5h0m0 .5h0m0 1.5h0m0 .5h0m0 .5h0m0 1h0m.5-16h0m0 1.5h0m0 1.5h0m0 1h0m0 1h0m0 4h0m0 .5h0m0 3.5h0m0 4h0m.5-14.5h0m0 4h0m0 1h0m0 3.5h0m0 3h0m0 1h0m.5-20.5h0m0 3.5h0m0 1.5h0m0 1h0m0 5h0m0 4h0m0 .5h0m0 1.5h0m0 2h0m0 4.5h0m.5-20.5h0m0 3h0m0 7h0m0 .5h0m0 1.5h0m0 1.5h0m0 .5h0m0 .5h0m0 1h0m0 1.5h0m0 2h0m0 4h0m.5-23.5h0m0 5h0m0 1h0m0 6.5h0m0 .5h0m0 8h0m.5-17h0m0 .5h0m0 3h0m0 .5h0m0 3.5h0m0 5h0m0 4h0m.5-15h0m0 .5h0m0 2.5h0m0 1h0m0 .5h0m0 1h0m0 .5h0m0 .5h0m0 .5h0m0 6.5h0m0 .5h0m.5-17h0m0 2.5h0m0 .5h0m0 2.5h0m0 6.5h0m0 4.5h0m.5-17.5h0m0 6h0m0 2.5h0m0 6h0m.5-20h0m0 6h0m0 2h0m0 .5h0m0 3.5h0m0 2h0m0 2h0m0 1.5h0m0 1h0m0 2h0m0 1.5h0m0 2h0m0 1h0m0 1h0m.5-21h0m0 1h0m0 .5h0m0 1h0m0 1.5h0m0 1.5h0m0 1h0m0 .5h0m0 1.5h0m0 4h0m.5-11h0m0 2.5h0m0 1h0m0 2h0m0 5h0m0 .5h0m.5-13.5h0m0 2.5h0m0 2h0m0 1h0m0 2h0m0 1.5h0m.5-11h0m0 7.5h0m0 5h0m0 .5h0m0 3h0m0 4h0m.5-22h0m0 13h0m0 8h0m.5-18.5h0m0 4.5h0m0 4.5h0m0 .5h0m0 .5h0m0 .5h0m0 1h0m0 2h0m0 2h0m0 3.5h0m.5-23h0m0 9h0m0 5h0m.5-10h0m0 2h0m0 1h0m0 1h0m0 2.5h0m0 1h0m0 5h0m0 3h0m0 6h0m.5-22h0m0 .5h0m0 7.5h0m0 5.5h0m0 1.5h0m.5-13h0m0 2h0m0 8.5h0m.5-9.5h0m0 9h0m.5-9.5h0m0 2.5h0m0 2.5h0m0 1.5h0m0 1h0m0 3h0m.5-8h0m.5 2.5h0m0 3h0m0 7h0m.5-19.5h0m0 10h0m0 4.5h0m.5-16.5h0m0 15h0m.5-4.5h0m0 5.5h0m.5-12.5h0m0 14h0m.5-12.5h0m0 9h0m.5-17.5h0m0 15.5h0m1-8h0m0 8h0m0 .5h0m1.5-11.5h0m.5 4h0m.5-3h0m.5 5h0m.5-1.5h0m.5-1.5h0m3 1.5h0"/>
<path stroke="#000" stroke-opacity="0.95" stroke-width="0.7" stroke-linecap="square" fill="none" d="M309.5 76.5h0m2.5 6.5h0m2.5-2.5h0m.5-7.5h0m0 8h0m.5-11.5h0m0 5.5h0m0 2h0m0 1.5h0m.5-7.5h0m.5 4.5h0m0 1.5h0m0 2.5h0m0 .5h0m0 2h0m.5-8h0m0 2.5h0m0 3h0m0 5.5h0m.5-10.5h0m0 1.5h0m0 1h0m0 .5h0m0 .5h0m0 .5h0m0 .5h0m0 2.5h0m.5-16h0m0 8.5h0m0 1h0m0 4.5h0m0 .5h0m0 2h0m.5-7.5h0m0 1h0m0 .5h0m0 1.5h0m0 1.5h0m0 .5h0m0 .5h0m0 .5h0m0 3h0m.5-11.5h0m0 .5h0m0 2.5h0m0 .5h0m0 1h0m0 .5h0m0 .5h0m0 .5h0m0 1h0m0 2.5h0m.5-10.5h0m0 1.5h0m0 5h0m0 .5h0m.5-4.5h0m0 2h0m0 1h0m0 .5h0m0 1.5h0m0 .5h0m.5-6h0m0 .5h0m0 2h0m0 .5h0m0 .5h0m0 .5h0m0 .5h0m0 .5h0m0 2.5h0m0 .5h0m.5-7.5h0m0 1.5h0m0 .5h0m0 1h0m0 .5h0m0 .5h0m0 1h0m0 .5h0m0 .5h0m0 1.5h0m0 2.5h0m.5-10h0m0 .5h0m0 2.5h0m0 .5h0m0 1.5h0m0 .5h0m0 1h0m0 .5h0m0 1h0m0 1h0m0 2h0m.5-17.5h0m0 5.5h0m0 2.5h0m0 .5h0m0 3.5h0m0 4h0m0 1h0m.5-16h0m0 2h0m0 .5h0m0 .5h0m0 .5h0m0 2.5h0m0 .5h0m0 1.5h0m0 .5h0m0 .5h0m0 2h0m0 1h0m.5-11h0m0 2h0m0 1h0m0 2.5h0m0 1h0m0 .5h0m0 1.5h0m0 1h0m0 .5h0m0 4h0m.5-8.5h0m0 .5h0m0 3h0m0 2h0m.5-11.5h0m0 3h0m0 1h0m0 4.5h0m0 .5h0m0 .5h0m0 .5h0m0 .5h0m0 .5h0m.5-7h0m0 3.5h0m0 1h0m0 1h0m0 2h0m.5-16.5h0m0 4.5h0m0 4h0m0 2h0m0 1h0m0 1h0m0 1.5h0m0 5h0m0 3h0m.5-21h0m0 5h0m0 1.5h0m0 5h0m.5-6h0m0 1h0m0 .5h0m0 .5h0m0 1.5h0m0 2.5h0m0 1.5h0m0 6h0m.5-16.5h0m0 5h0m0 1h0m0 3h0m0 3.5h0m0 1h0m.5-17h0m0 1h0m0 3h0m0 2h0m0 1.5h0m0 6h0m0 2.5h0m0 1.5h0m.5-15h0m0 1.5h0m.5-2h0m0 3.5h0m0 3h0m0 6h0m.5-13h0m0 4h0m0 2h0m0 1.5h0m0 4h0m0 .5h0m0 5h0m.5-19h0m0 .5h0m0 .5h0m0 6.5h0m0 3h0m0 1h0m0 1h0m.5-13h0m0 7h0m0 .5h0m0 1h0m0 .5h0m.5-8.5h0m0 1h0m0 2.5h0m0 .5h0m0 2.5h0m0 2.5h0m.5-9h0m0 .5h0m0 3.5h0m0 2h0m0 .5h0m.5-11h0m0 1h0m0 5.5h0m0 2h0m0 .5h0m0 1h0m.5-8.5h0m0 6h0m0 1.5h0m0 1h0m.5-7.5h0m0 4h0m0 .5h0m0 4h0m0 .5h0m0 8.5h0m.5-17.5h0m0 1.5h0m0 2h0m0 4h0m.5-7h0m0 1.5h0m0 2.5h0m0 4h0m0 2h0m0 1h0m.5-11.5h0m0 .5h0m0 2.5h0m0 3.5h0m0 3h0m.5-14h0m0 1.5h0m0 2h0m0 3h0m0 1.5h0m0 2.5h0m0 1.5h0m.5-4h0m0 2h0m.5-4h0m0 8h0m.5-13h0m0 .5h0m0 .5h0m0 1.5h0m0 2h0m0 2h0m0 .5h0m0 2.5h0m0 1.5h0m.5-23h0m0 16h0m0 .5h0m0 1h0m0 5h0m0 5.5h0m.5-14h0m0 1h0m0 .5h0m0 .5h0m0 2h0m0 .5h0m0 3h0m.5-7.5h0m0 1h0m0 1h0m0 .5h0m0 2h0m0 4h0m.5-20h0m0 7.5h0m0 4h0m0 1.5h0m0 4h0m0 2.5h0m.5-9.5h0m0 .5h0m0 .5h0m0 4.5h0m.5-7h0m0 .5h0m0 1.5h0m0 4h0m0 2h0m0 1.5h0m0 4h0m.5-11h0m0 2.5h0m0 3.5h0m.5-10.5h0m0 4.5h0m0 .5h0m0 5.5h0m0 1.5h0m.5-12h0m0 4.5h0m0 .5h0m0 2h0m0 1.5h0m.5-7h0m0 7h0m.5-7.5h0m0 .5h0m0 4.5h0m0 .5h0m.5-16h0m0 9.5h0m0 .5h0m0 3.5h0m0 .5h0m0 4h0m.5-9.5h0m0 3.5h0m0 4.5h0m0 3h0m.5-9h0m0 9h0m.5-17h0m0 8h0m0 2h0m0 7.5h0m.5-11.5h0m0 1.5h0m0 6h0m.5 .5h0m0 1h0m.5-10h0m.5-1h0m0 3h0m0 5h0m.5-4h0m0 1.5h0m0 .5h0m0 5h0m.5-1h0m.5-4.5h0m1 2h0m.5-13.5h0m0 17.5h0m.5-20h0m.5 8.5h0m0 7.5h0m.5-2h0m.5-11h0m0 3h0m.5-1.5h0m0 5.5h0m1 1h0m0 1h0m1-7.5h0m9-6.5h0"/>
<rect x="303.1" y="28.6" width="67" height="62.4" fill="none" stroke="#000" stroke-width="0.95"/>
<line x1="303.1" y1="28.1" x2="303.1" y2="91.5" stroke="#000" stroke-width="1.5"/>
<line x1="302.6" y1="91" x2="370.6" y2="91" stroke="#000" stroke-width="1.5"/>
<line x1="300.7" y1="34.7" x2="303.1" y2="34.7" stroke="#000" stroke-width="1.1"/>
<line x1="300.7" y1="48.5" x2="303.1" y2="48.5" stroke="#000" stroke-width="1.1"/>
<line x1="300.7" y1="63" x2="303.1" y2="63" stroke="#000" stroke-width="1.1"/>
<line x1="300.7" y1="77.6" x2="303.1" y2="77.6" stroke="#000" stroke-width="1.1"/>
<line x1="302" y1="44.35" x2="303.1" y2="44.35" stroke="#000" stroke-width="0.6"/>
<line x1="302" y1="41.92" x2="303.1" y2="41.92" stroke="#000" stroke-width="0.6"/>
<line x1="302" y1="40.19" x2="303.1" y2="40.19" stroke="#000" stroke-width="0.6"/>
<line x1="302" y1="38.85" x2="303.1" y2="38.85" stroke="#000" stroke-width="0.6"/>
<line x1="302" y1="37.76" x2="303.1" y2="37.76" stroke="#000" stroke-width="0.6"/>
<line x1="302" y1="36.84" x2="303.1" y2="36.84" stroke="#000" stroke-width="0.6"/>
<line x1="302" y1="36.04" x2="303.1" y2="36.04" stroke="#000" stroke-width="0.6"/>
<line x1="302" y1="35.33" x2="303.1" y2="35.33" stroke="#000" stroke-width="0.6"/>
<line x1="302" y1="58.64" x2="303.1" y2="58.64" stroke="#000" stroke-width="0.6"/>
<line x1="302" y1="56.08" x2="303.1" y2="56.08" stroke="#000" stroke-width="0.6"/>
<line x1="302" y1="54.27" x2="303.1" y2="54.27" stroke="#000" stroke-width="0.6"/>
<line x1="302" y1="52.86" x2="303.1" y2="52.86" stroke="#000" stroke-width="0.6"/>
<line x1="302" y1="51.72" x2="303.1" y2="51.72" stroke="#000" stroke-width="0.6"/>
<line x1="302" y1="50.75" x2="303.1" y2="50.75" stroke="#000" stroke-width="0.6"/>
<line x1="302" y1="49.91" x2="303.1" y2="49.91" stroke="#000" stroke-width="0.6"/>
<line x1="302" y1="49.16" x2="303.1" y2="49.16" stroke="#000" stroke-width="0.6"/>
<line x1="302" y1="73.2" x2="303.1" y2="73.2" stroke="#000" stroke-width="0.6"/>
<line x1="302" y1="70.63" x2="303.1" y2="70.63" stroke="#000" stroke-width="0.6"/>
<line x1="302" y1="68.81" x2="303.1" y2="68.81" stroke="#000" stroke-width="0.6"/>
<line x1="302" y1="67.4" x2="303.1" y2="67.4" stroke="#000" stroke-width="0.6"/>
<line x1="302" y1="66.24" x2="303.1" y2="66.24" stroke="#000" stroke-width="0.6"/>
<line x1="302" y1="65.26" x2="303.1" y2="65.26" stroke="#000" stroke-width="0.6"/>
<line x1="302" y1="64.41" x2="303.1" y2="64.41" stroke="#000" stroke-width="0.6"/>
<line x1="302" y1="63.67" x2="303.1" y2="63.67" stroke="#000" stroke-width="0.6"/>
<line x1="300.7" y1="82.3" x2="303.1" y2="82.3" stroke="#000" stroke-width="1.1"/>
<line x1="302" y1="85" x2="303.1" y2="85" stroke="#000" stroke-width="0.6"/>
<line x1="302" y1="87.5" x2="303.1" y2="87.5" stroke="#000" stroke-width="0.6"/>
<line x1="302" y1="89.5" x2="303.1" y2="89.5" stroke="#000" stroke-width="0.6"/>
<line x1="317.6" y1="91" x2="317.6" y2="93" stroke="#000" stroke-width="1"/>
<line x1="333.5" y1="91" x2="333.5" y2="93" stroke="#000" stroke-width="1"/>
<line x1="349" y1="91" x2="349" y2="93" stroke="#000" stroke-width="1"/>
<line x1="364.3" y1="91" x2="364.3" y2="93" stroke="#000" stroke-width="1"/>
<line x1="322.39" y1="91" x2="322.39" y2="92.1" stroke="#000" stroke-width="0.6"/>
<line x1="325.19" y1="91" x2="325.19" y2="92.1" stroke="#000" stroke-width="0.6"/>
<line x1="327.17" y1="91" x2="327.17" y2="92.1" stroke="#000" stroke-width="0.6"/>
<line x1="328.71" y1="91" x2="328.71" y2="92.1" stroke="#000" stroke-width="0.6"/>
<line x1="329.97" y1="91" x2="329.97" y2="92.1" stroke="#000" stroke-width="0.6"/>
<line x1="331.04" y1="91" x2="331.04" y2="92.1" stroke="#000" stroke-width="0.6"/>
<line x1="331.96" y1="91" x2="331.96" y2="92.1" stroke="#000" stroke-width="0.6"/>
<line x1="332.77" y1="91" x2="332.77" y2="92.1" stroke="#000" stroke-width="0.6"/>
<line x1="338.17" y1="91" x2="338.17" y2="92.1" stroke="#000" stroke-width="0.6"/>
<line x1="340.9" y1="91" x2="340.9" y2="92.1" stroke="#000" stroke-width="0.6"/>
<line x1="342.83" y1="91" x2="342.83" y2="92.1" stroke="#000" stroke-width="0.6"/>
<line x1="344.33" y1="91" x2="344.33" y2="92.1" stroke="#000" stroke-width="0.6"/>
<line x1="345.56" y1="91" x2="345.56" y2="92.1" stroke="#000" stroke-width="0.6"/>
<line x1="346.6" y1="91" x2="346.6" y2="92.1" stroke="#000" stroke-width="0.6"/>
<line x1="347.5" y1="91" x2="347.5" y2="92.1" stroke="#000" stroke-width="0.6"/>
<line x1="348.29" y1="91" x2="348.29" y2="92.1" stroke="#000" stroke-width="0.6"/>
<line x1="353.61" y1="91" x2="353.61" y2="92.1" stroke="#000" stroke-width="0.6"/>
<line x1="356.3" y1="91" x2="356.3" y2="92.1" stroke="#000" stroke-width="0.6"/>
<line x1="358.21" y1="91" x2="358.21" y2="92.1" stroke="#000" stroke-width="0.6"/>
<line x1="359.69" y1="91" x2="359.69" y2="92.1" stroke="#000" stroke-width="0.6"/>
<line x1="360.91" y1="91" x2="360.91" y2="92.1" stroke="#000" stroke-width="0.6"/>
<line x1="361.93" y1="91" x2="361.93" y2="92.1" stroke="#000" stroke-width="0.6"/>
<line x1="362.82" y1="91" x2="362.82" y2="92.1" stroke="#000" stroke-width="0.6"/>
<line x1="363.6" y1="91" x2="363.6" y2="92.1" stroke="#000" stroke-width="0.6"/>
<line x1="310.1" y1="91" x2="310.1" y2="93" stroke="#000" stroke-width="0.8"/>
<line x1="305.6" y1="91" x2="305.6" y2="92.1" stroke="#000" stroke-width="0.6"/>
<line x1="307.6" y1="91" x2="307.6" y2="92.1" stroke="#000" stroke-width="0.6"/>
<line x1="313.6" y1="91" x2="313.6" y2="92.1" stroke="#000" stroke-width="0.6"/>
<text x="310.1" y="100.8" font-size="5.2" text-anchor="middle">0</text>
<text x="318.2" y="100.8" font-size="5.2" text-anchor="middle">10<tspan font-size="3.2" dy="-2.2">2</tspan></text>
<text x="334.1" y="100.8" font-size="5.2" text-anchor="middle">10<tspan font-size="3.2" dy="-2.2">3</tspan></text>
<text x="349.6" y="100.8" font-size="5.2" text-anchor="middle">10<tspan font-size="3.2" dy="-2.2">4</tspan></text>
<text x="364.9" y="100.8" font-size="5.2" text-anchor="middle">10<tspan font-size="3.2" dy="-2.2">5</tspan></text>
<text x="297.8" y="36.6" font-size="5.2" text-anchor="end">10<tspan font-size="3.2" dy="-2.2">5</tspan></text>
<text x="297.8" y="50.4" font-size="5.2" text-anchor="end">10<tspan font-size="3.2" dy="-2.2">4</tspan></text>
<text x="297.8" y="64.9" font-size="5.2" text-anchor="end">10<tspan font-size="3.2" dy="-2.2">3</tspan></text>
<text x="297.8" y="79.5" font-size="5.2" text-anchor="end">10<tspan font-size="3.2" dy="-2.2">2</tspan></text>
<text x="297.5" y="84.5" font-size="5.2" text-anchor="end">0</text>
<text x="304.3" y="34" font-size="6.5">&lt;1%</text>
<text x="369.1" y="34" font-size="6.5" text-anchor="end">64%</text>
<text x="304.3" y="89.6" font-size="6.5">20%</text>
<text x="369.1" y="89.6" font-size="6.5" text-anchor="end">15%</text>
<line x1="419.5" y1="28.6" x2="419.5" y2="91" stroke="#a0a0a0" stroke-width="0.9"/>
<line x1="396.3" y1="69.5" x2="463.3" y2="69.5" stroke="#a0a0a0" stroke-width="0.9"/>
<ellipse cx="434.5" cy="50.3" rx="16.5" ry="7.2" transform="rotate(-36 434.5 50.3)" fill="#000"/>
<ellipse cx="412.8" cy="77.3" rx="1.8" ry="3.2" transform="rotate(30 412.8 77.3)" fill="#000"/>
<path stroke="#000" stroke-opacity="0.5" stroke-width="0.7" stroke-linecap="square" fill="none" d="M397 67.5h0m.5 8h0m2-6h0m.5-10h0m.5 7.5h0m1-11.5h0m0 15.5h0m0 .5h0m0 1.5h0m.5-19.5h0m0 19.5h0m0 1h0m0 3h0m0 .5h0m.5-2.5h0m.5-20.5h0m0 25h0m.5-13h0m0 8h0m0 1.5h0m.5-17.5h0m0 15.5h0m0 4h0m0 3.5h0m0 .5h0m.5-9h0m0 2.5h0m0 .5h0m0 2.5h0m.5-16h0m0 1h0m0 3h0m0 7.5h0m0 .5h0m0 .5h0m0 .5h0m0 2h0m.5-35h0m0 30h0m0 .5h0m0 .5h0m0 .5h0m0 1h0m0 3h0m0 .5h0m0 1h0m0 3h0m.5-21h0m0 7.5h0m0 .5h0m0 3h0m0 1.5h0m0 1h0m0 2h0m0 1h0m0 1.5h0m0 2h0m.5-21h0m0 7.5h0m0 6.5h0m0 1h0m0 2.5h0m0 1h0m.5-20h0m0 6h0m0 5h0m0 2.5h0m0 1h0m0 1h0m0 .5h0m0 1h0m0 1h0m.5-20.5h0m0 8.5h0m0 5h0m0 2h0m0 1h0m0 1.5h0m0 .5h0m0 .5h0m0 1.5h0m0 1.5h0m0 .5h0m0 2h0m0 1h0m0 8h0m.5-35h0m0 1h0m0 1h0m0 12.5h0m0 3h0m0 3h0m0 1.5h0m0 4.5h0m0 2h0m0 2h0m.5-33h0m0 5h0m0 3.5h0m0 10.5h0m0 1h0m0 .5h0m0 .5h0m0 3.5h0m0 .5h0m0 3h0m.5-23h0m0 3.5h0m0 2.5h0m0 8.5h0m0 .5h0m0 .5h0m0 1h0m0 4.5h0m0 .5h0m0 1h0m0 1h0m.5-33.5h0m0 12h0m0 7.5h0m0 1h0m0 1h0m0 1h0m0 .5h0m0 1.5h0m0 1h0m0 1h0m0 2.5h0m0 .5h0m0 .5h0m0 .5h0m0 2h0m0 .5h0m0 1.5h0m0 1h0m0 1h0m.5-26.5h0m0 1h0m0 3h0m0 3.5h0m0 1.5h0m0 2.5h0m0 5.5h0m0 .5h0m0 3h0m0 1.5h0m0 .5h0m0 .5h0m0 1h0m0 .5h0m.5-23h0m0 2.5h0m0 .5h0m0 6.5h0m0 4h0m0 1.5h0m0 .5h0m0 2.5h0m0 .5h0m0 3h0m0 .5h0m0 1.5h0m0 1.5h0m.5-16h0m0 1h0m0 .5h0m0 .5h0m0 .5h0m0 1h0m0 1h0m0 1h0m0 .5h0m0 1h0m0 5h0m0 3h0m0 1h0m.5-30h0m0 1h0m0 2.5h0m0 4.5h0m0 3.5h0m0 1h0m0 1h0m0 1.5h0m0 1h0m0 1h0m0 2h0m0 .5h0m0 1.5h0m0 1.5h0m0 1h0m0 1.5h0m0 .5h0m0 1h0m0 4.5h0m.5-39h0m0 9.5h0m0 1.5h0m0 1.5h0m0 3h0m0 1h0m0 1.5h0m0 6h0m0 2h0m0 1h0m0 .5h0m0 3.5h0m0 4.5h0m0 .5h0m0 1.5h0m0 6.5h0m.5-50.5h0m0 9.5h0m0 3.5h0m0 4.5h0m0 1.5h0m0 2h0m0 4.5h0m0 .5h0m0 .5h0m0 4.5h0m0 3.5h0m0 5.5h0m0 2h0m.5-28h0m0 2.5h0m0 .5h0m0 8h0m0 1h0m0 3h0m0 1.5h0m0 1.5h0m0 3h0m0 .5h0m0 1.5h0m0 4.5h0m0 .5h0m0 2.5h0m.5-34h0m0 3.5h0m0 1.5h0m0 2.5h0m0 2.5h0m0 3.5h0m0 4h0m0 .5h0m0 3h0m0 .5h0m0 2h0m0 2.5h0m0 1h0m0 1.5h0m0 1h0m0 1h0m0 1h0m0 .5h0m0 .5h0m0 1.5h0m0 .5h0m.5-42.5h0m0 7h0m0 5.5h0m0 3.5h0m0 3.5h0m0 1h0m0 3.5h0m0 1.5h0m0 1.5h0m0 .5h0m0 .5h0m0 .5h0m0 .5h0m0 .5h0m0 1.5h0m0 .5h0m0 2.5h0m0 .5h0m0 .5h0m0 4.5h0m.5-35h0m0 6.5h0m0 4.5h0m0 3h0m0 3h0m0 .5h0m0 1h0m0 4.5h0m0 .5h0m0 .5h0m0 2h0m0 .5h0m0 2h0m0 1h0m0 1.5h0m0 2.5h0m0 2h0m.5-40.5h0m0 4.5h0m0 5h0m0 .5h0m0 .5h0m0 .5h0m0 2h0m0 1h0m0 1.5h0m0 1.5h0m0 .5h0m0 1.5h0m0 6h0m0 2.5h0m0 1h0m0 2h0m0 1.5h0m0 1.5h0m0 1h0m0 .5h0m0 .5h0m0 2h0m0 2.5h0m0 .5h0m0 1h0m0 1h0m0 1h0m.5-40.5h0m0 12h0m0 1h0m0 6h0m0 .5h0m0 .5h0m0 1.5h0m0 2h0m0 1h0m0 .5h0m0 .5h0m0 .5h0m0 .5h0m0 1h0m0 .5h0m0 1.5h0m0 .5h0m0 2h0m0 .5h0m0 1h0m0 1h0m0 1.5h0m0 .5h0m0 1.5h0m0 .5h0m0 2h0m.5-32h0m0 5.5h0m0 1h0m0 5h0m0 2.5h0m0 1h0m0 3.5h0m0 1h0m0 .5h0m0 2.5h0m0 .5h0m0 2h0m0 1h0m0 .5h0m0 1h0m0 1h0m0 .5h0m0 2h0m0 1h0m0 4h0m.5-45h0m0 3.5h0m0 3.5h0m0 1h0m0 1h0m0 1h0m0 4.5h0m0 1.5h0m0 .5h0m0 2h0m0 1h0m0 2h0m0 1.5h0m0 .5h0m0 1h0m0 3h0m0 .5h0m0 3h0m0 1h0m0 1h0m0 1h0m0 2h0m0 .5h0m0 1.5h0m.5-37.5h0m0 1h0m0 3.5h0m0 7h0m0 3h0m0 2h0m0 3h0m0 1.5h0m0 1h0m0 1.5h0m0 2h0m0 1.5h0m0 2h0m0 .5h0m0 1h0m0 2.5h0m0 .5h0m0 1.5h0m0 1h0m0 2h0m0 .5h0m0 2.5h0m.5-38.5h0m0 1.5h0m0 3h0m0 2h0m0 3.5h0m0 2.5h0m0 1h0m0 1h0m0 1h0m0 .5h0m0 1.5h0m0 2.5h0m0 .5h0m0 1h0m0 1h0m0 .5h0m0 2h0m0 1.5h0m0 1h0m0 .5h0m0 .5h0m0 1h0m0 1.5h0m0 1h0m0 .5h0m0 2.5h0m0 2h0m0 .5h0m0 .5h0m.5-41h0m0 7h0m0 .5h0m0 .5h0m0 1.5h0m0 3h0m0 1.5h0m0 1h0m0 1h0m0 .5h0m0 5h0m0 3h0m0 3h0m0 1h0m0 .5h0m0 1h0m0 2h0m0 .5h0m0 .5h0m0 .5h0m0 .5h0m0 .5h0m0 1h0m0 6h0m.5-44h0m0 4h0m0 4h0m0 1h0m0 .5h0m0 2h0m0 .5h0m0 1h0m0 1h0m0 .5h0m0 5h0m0 2h0m0 1.5h0m0 2.5h0m0 .5h0m0 1.5h0m0 1.5h0m0 .5h0m0 3h0m0 1h0m0 3h0m0 2.5h0m0 .5h0m0 1h0m0 1h0m0 1h0m.5-43.5h0m0 2h0m0 .5h0m0 1h0m0 4h0m0 .5h0m0 .5h0m0 .5h0m0 1.5h0m0 1h0m0 2.5h0m0 .5h0m0 1h0m0 .5h0m0 1.5h0m0 2h0m0 1h0m0 .5h0m0 2h0m0 1h0m0 2h0m0 .5h0m0 2h0m0 2h0m0 1h0m0 4h0m0 .5h0m0 2.5h0m0 1h0m0 2.5h0m0 2.5h0m0 3.5h0m.5-40h0m0 1h0m0 2h0m0 2.5h0m0 1h0m0 1h0m0 1h0m0 .5h0m0 2h0m0 .5h0m0 .5h0m0 1h0m0 .5h0m0 2h0m0 3h0m0 .5h0m0 1.5h0m0 .5h0m0 .5h0m0 .5h0m0 1h0m0 5h0m0 3h0m0 2h0m.5-38.5h0m0 4h0m0 1h0m0 3.5h0m0 .5h0m0 .5h0m0 1h0m0 4.5h0m0 1h0m0 2.5h0m0 1.5h0m0 .5h0m0 .5h0m0 .5h0m0 1h0m0 2h0m0 1h0m0 1.5h0m0 1h0m0 1h0m0 .5h0m0 3h0m0 .5h0m0 .5h0m0 1.5h0m0 1h0m0 1h0m0 .5h0m.5-30h0m0 1h0m0 1.5h0m0 .5h0m0 1h0m0 1.5h0m0 5h0m0 1.5h0m0 1h0m0 .5h0m0 2.5h0m0 .5h0m0 .5h0m0 .5h0m0 2h0m0 .5h0m0 2h0m0 1h0m0 1h0m0 2h0m0 7h0m0 .5h0m.5-43h0m0 3h0m0 2h0m0 1h0m0 .5h0m0 1.5h0m0 11h0m0 3h0m0 .5h0m0 2h0m0 .5h0m0 .5h0m0 1.5h0m0 1.5h0m0 2h0m0 .5h0m0 1h0m0 1.5h0m0 .5h0m0 1h0m0 1h0m.5-37h0m0 1.5h0m0 2h0m0 4.5h0m0 1h0m0 2h0m0 .5h0m0 1h0m0 .5h0m0 2h0m0 2.5h0m0 .5h0m0 1h0m0 .5h0m0 2.5h0m0 2h0m0 .5h0m0 2h0m0 1h0m0 3h0m0 4.5h0m0 1.5h0m0 .5h0m0 4h0m0 1h0m.5-39.5h0m0 5.5h0m0 1h0m0 1.5h0m0 .5h0m0 2h0m0 .5h0m0 2h0m0 1h0m0 2.5h0m0 3.5h0m0 2h0m0 .5h0m0 1h0m0 2h0m0 1h0m0 7h0m0 3h0m.5-36h0m0 .5h0m0 .5h0m0 2h0m0 2h0m0 1.5h0m0 2.5h0m0 2h0m0 2.5h0m0 1h0m0 1h0m0 1h0m0 1h0m0 1h0m0 1.5h0m0 2h0m0 .5h0m0 1.5h0m0 3h0m0 .5h0m0 3h0m0 2h0m0 3h0m0 1h0m0 3.5h0m.5-43h0m0 5.5h0m0 2h0m0 2h0m0 1.5h0m0 2.5h0m0 .5h0m0 5h0m0 2h0m0 1.5h0m0 6h0m0 4h0m0 .5h0m0 9.5h0m.5-40h0m0 2.5h0m0 1h0m0 .5h0m0 1.5h0m0 .5h0m0 1h0m0 2h0m0 5.5h0m0 5h0m0 .5h0m0 1h0m0 .5h0m0 1.5h0m0 3h0m0 4.5h0m0 .5h0m0 3h0m0 1.5h0m.5-42h0m0 3.5h0m0 7h0m0 1.5h0m0 .5h0m0 1.5h0m0 2h0m0 .5h0m0 1h0m0 3.5h0m0 .5h0m0 1.5h0m0 .5h0m0 .5h0m0 1h0m0 4h0m0 .5h0m0 .5h0m0 2h0m0 1h0m0 4.5h0m0 8.5h0m0 2.5h0m.5-41h0m0 .5h0m0 .5h0m0 1.5h0m0 .5h0m0 1h0m0 1h0m0 3h0m0 1h0m0 1h0m0 .5h0m0 4.5h0m0 1h0m0 3.5h0m0 3h0m0 3h0m0 3.5h0m.5-35h0m0 4h0m0 1h0m0 4h0m0 .5h0m0 2h0m0 .5h0m0 2h0m0 2.5h0m0 3h0m0 .5h0m0 .5h0m0 1.5h0m0 5h0m0 .5h0m0 1h0m0 .5h0m0 2.5h0m0 2h0m0 2h0m.5-33.5h0m0 1.5h0m0 3h0m0 .5h0m0 .5h0m0 2.5h0m0 1h0m0 1h0m0 1.5h0m0 .5h0m0 1h0m0 .5h0m0 .5h0m0 1.5h0m0 1h0m0 .5h0m0 1h0m0 1h0m0 1.5h0m0 .5h0m0 1h0m0 1h0m0 1h0m0 4.5h0m0 3.5h0m.5-27h0m0 .5h0m0 3.5h0m0 4.5h0m0 1h0m0 .5h0m0 3h0m0 .5h0m0 3h0m0 1.5h0m0 1.5h0m0 2h0m0 1h0m0 12.5h0m.5-43.5h0m0 .5h0m0 1.5h0m0 1h0m0 4.5h0m0 2h0m0 .5h0m0 .5h0m0 1h0m0 1.5h0m0 1.5h0m0 .5h0m0 .5h0m0 1.5h0m0 .5h0m0 .5h0m0 1h0m0 .5h0m0 1.5h0m0 2.5h0m0 1h0m0 1h0m0 .5h0m0 1h0m0 1h0m0 1.5h0m0 1h0m0 1.5h0m0 1.5h0m0 4h0m.5-34.5h0m0 2h0m0 4.5h0m0 1h0m0 .5h0m0 1h0m0 .5h0m0 .5h0m0 .5h0m0 3h0m0 .5h0m0 1h0m0 1h0m0 .5h0m0 3.5h0m0 .5h0m0 1.5h0m0 1.5h0m0 4.5h0m.5-31h0m0 1h0m0 1.5h0m0 4h0m0 1h0m0 1h0m0 1.5h0m0 4h0m0 2.5h0m0 .5h0m0 1.5h0m0 2h0m0 .5h0m0 3h0m0 2.5h0m0 .5h0m0 1h0m0 1h0m0 1h0m0 .5h0m0 1h0m0 1h0m0 3h0m.5-36.5h0m0 3.5h0m0 .5h0m0 1h0m0 2.5h0m0 2.5h0m0 1h0m0 1.5h0m0 1h0m0 2h0m0 .5h0m0 1h0m0 2h0m0 1h0m0 1.5h0m0 1h0m0 .5h0m0 .5h0m0 .5h0m0 1h0m0 .5h0m0 .5h0m0 .5h0m0 .5h0m0 .5h0m0 1h0m0 1.5h0m0 3.5h0m0 6h0m0 1h0m.5-38.5h0m0 1h0m0 .5h0m0 6h0m0 .5h0m0 .5h0m0 .5h0m0 2.5h0m0 2h0m0 .5h0m0 .5h0m0 .5h0m0 .5h0m0 .5h0m0 1h0m0 2.5h0m0 1h0m0 .5h0m0 1.5h0m0 .5h0m0 1h0m0 1h0m0 .5h0m0 .5h0m0 .5h0m0 14.5h0m.5-37h0m0 1.5h0m0 2.5h0m0 .5h0m0 1h0m0 2.5h0m0 1.5h0m0 .5h0m0 1.5h0m0 .5h0m0 2h0m0 2h0m0 2h0m0 3.5h0m0 1h0m0 1h0m0 1h0m0 4h0m.5-36.5h0m0 1h0m0 5.5h0m0 4h0m0 2h0m0 1h0m0 .5h0m0 .5h0m0 2h0m0 1.5h0m0 .5h0m0 .5h0m0 1h0m0 .5h0m0 3h0m0 2.5h0m0 .5h0m0 .5h0m0 .5h0m0 2.5h0m0 .5h0m0 4h0m0 1.5h0m.5-31h0m0 3h0m0 2h0m0 .5h0m0 2h0m0 4h0m0 .5h0m0 1h0m0 1h0m0 7h0m0 1.5h0m0 .5h0m0 .5h0m0 1.5h0m0 .5h0m0 2h0m0 .5h0m0 1.5h0m0 2.5h0m.5-33h0m0 3.5h0m0 1.5h0m0 2.5h0m0 1.5h0m0 2h0m0 .5h0m0 1h0m0 1h0m0 .5h0m0 1h0m0 .5h0m0 2h0m0 1h0m0 .5h0m0 .5h0m0 .5h0m0 2h0m0 .5h0m0 .5h0m0 .5h0m0 .5h0m0 1h0m0 1.5h0m0 .5h0m0 .5h0m0 8h0m.5-37h0m0 1.5h0m0 .5h0m0 5h0m0 2.5h0m0 1h0m0 1h0m0 4.5h0m0 1h0m0 .5h0m0 1.5h0m0 2.5h0m0 2h0m0 .5h0m0 1h0m0 .5h0m0 3h0m0 1.5h0m0 3.5h0m.5-38.5h0m0 7h0m0 1h0m0 1h0m0 1.5h0m0 2h0m0 2h0m0 .5h0m0 1h0m0 2h0m0 1h0m0 1h0m0 3h0m0 .5h0m0 4.5h0m0 1.5h0m0 2h0m.5-31h0m0 7.5h0m0 1h0m0 .5h0m0 .5h0m0 .5h0m0 .5h0m0 3.5h0m0 1h0m0 2h0m0 1h0m0 2.5h0m0 1h0m0 .5h0m0 1h0m0 .5h0m0 3h0m0 .5h0m0 2.5h0m0 3h0m0 .5h0m0 3.5h0m.5-37h0m0 3.5h0m0 5.5h0m0 .5h0m0 2.5h0m0 1.5h0m0 1h0m0 .5h0m0 .5h0m0 1h0m0 1h0m0 1h0m0 .5h0m0 3h0m0 3h0m0 1h0m0 2h0m0 .5h0m0 .5h0m0 1.5h0m0 2h0m0 1h0m0 5.5h0m0 2h0m.5-33.5h0m0 5h0m0 1h0m0 1.5h0m0 4h0m0 4h0m0 1h0m0 3h0m0 2.5h0m0 1h0m0 2.5h0m0 1.5h0m0 1.5h0m0 3h0m.5-36.5h0m0 .5h0m0 3h0m0 1h0m0 .5h0m0 2.5h0m0 .5h0m0 1h0m0 1h0m0 .5h0m0 1h0m0 1h0m0 1h0m0 3h0m0 1h0m0 .5h0m0 2h0m0 1h0m0 1h0m0 1h0m0 .5h0m0 .5h0m0 .5h0m0 .5h0m0 .5h0m0 2h0m0 1.5h0m0 1h0m0 4.5h0m.5-33.5h0m0 1h0m0 2.5h0m0 5h0m0 .5h0m0 1.5h0m0 3.5h0m0 .5h0m0 2h0m0 1h0m0 2.5h0m0 1h0m0 .5h0m0 .5h0m0 2h0m0 1.5h0m0 1h0m0 .5h0m0 .5h0m0 2h0m0 1.5h0m.5-31h0m0 1.5h0m0 1h0m0 1h0m0 1.5h0m0 .5h0m0 2h0m0 5.5h0m0 2h0m0 3h0m0 .5h0m0 .5h0m0 1h0m0 .5h0m0 .5h0m0 1h0m0 .5h0m0 .5h0m0 1h0m0 3.5h0m0 .5h0m0 1h0m0 1h0m0 1h0m0 2h0m0 6.5h0m.5-33h0m0 1.5h0m0 1.5h0m0 3.5h0m0 2h0m0 .5h0m0 3h0m0 1.5h0m0 .5h0m0 2.5h0m0 1.5h0m0 .5h0m0 .5h0m0 .5h0m0 1.5h0m0 7h0m0 11h0m.5-46.5h0m0 6h0m0 1h0m0 2h0m0 .5h0m0 1h0m0 .5h0m0 .5h0m0 .5h0m0 .5h0m0 1.5h0m0 .5h0m0 .5h0m0 .5h0m0 .5h0m0 2h0m0 2h0m0 1h0m0 .5h0m0 .5h0m0 .5h0m0 1h0m0 .5h0m0 1h0m0 2h0m0 .5h0m0 .5h0m0 4.5h0m0 .5h0m0 2h0m0 4h0m0 4.5h0m.5-43.5h0m0 5.5h0m0 1h0m0 .5h0m0 1.5h0m0 1.5h0m0 2h0m0 .5h0m0 2h0m0 3h0m0 1.5h0m0 .5h0m0 .5h0m0 2.5h0m0 .5h0m0 .5h0m0 .5h0m0 6h0m.5-32.5h0m0 2h0m0 2h0m0 1.5h0m0 3h0m0 .5h0m0 1h0m0 1h0m0 .5h0m0 2h0m0 1h0m0 2h0m0 1.5h0m0 6h0m0 .5h0m0 3.5h0m0 1h0m0 1h0m0 1h0m0 4h0m.5-34.5h0m0 6h0m0 1.5h0m0 1h0m0 .5h0m0 3.5h0m0 2.5h0m0 1.5h0m0 .5h0m0 .5h0m0 3h0m0 1h0m0 .5h0m0 .5h0m0 1h0m0 1h0m0 6h0m0 .5h0m0 .5h0m.5-33h0m0 2.5h0m0 4h0m0 .5h0m0 5h0m0 .5h0m0 1h0m0 1.5h0m0 .5h0m0 .5h0m0 1h0m0 3h0m0 5.5h0m0 3h0m0 1h0m0 1h0m0 6.5h0m.5-29.5h0m0 1h0m0 3.5h0m0 1.5h0m0 1h0m0 5h0m0 1h0m0 1h0m0 .5h0m0 .5h0m0 2h0m0 4h0m0 2.5h0m0 .5h0m0 1h0m0 .5h0m.5-25.5h0m0 1.5h0m0 .5h0m0 2h0m0 2.5h0m0 .5h0m0 .5h0m0 3h0m0 .5h0m0 1h0m0 2h0m0 3.5h0m0 1h0m0 .5h0m0 4h0m0 2h0m0 .5h0m0 5h0m0 7.5h0m.5-42h0m0 5h0m0 .5h0m0 2.5h0m0 5h0m0 1.5h0m0 2.5h0m0 2h0m0 2h0m0 .5h0m0 2.5h0m0 2h0m0 1h0m0 1.5h0m0 3h0m0 2h0m0 1h0m.5-34h0m0 1.5h0m0 .5h0m0 1.5h0m0 .5h0m0 2.5h0m0 .5h0m0 1.5h0m0 .5h0m0 .5h0m0 1.5h0m0 1h0m0 4h0m0 1h0m0 1h0m0 1.5h0m0 .5h0m0 3.5h0m0 .5h0m0 .5h0m0 2.5h0m0 1.5h0m0 1.5h0m.5-33h0m0 2.5h0m0 1h0m0 1h0m0 1h0m0 5h0m0 2.5h0m0 1h0m0 2h0m0 4h0m0 .5h0m0 1h0m0 .5h0m0 .5h0m0 1h0m0 .5h0m0 .5h0m0 2h0m0 .5h0m0 .5h0m0 .5h0m0 .5h0m0 3h0m0 1.5h0m0 2.5h0m.5-35.5h0m0 .5h0m0 1.5h0m0 1.5h0m0 1h0m0 1h0m0 .5h0m0 2h0m0 3h0m0 1.5h0m0 1.5h0m0 1.5h0m0 1h0m0 1h0m0 2h0m0 1.5h0m0 1.5h0m0 1h0m0 2h0m0 .5h0m0 .5h0m0 .5h0m0 .5h0m0 1.5h0m0 1.5h0m0 1h0m0 .5h0m0 1h0m.5-33h0m0 1.5h0m0 4h0m0 1.5h0m0 1h0m0 6h0m0 2.5h0m0 .5h0m0 3h0m0 .5h0m0 .5h0m0 .5h0m0 2h0m0 1.5h0m0 .5h0m0 9h0m0 3.5h0m0 2.5h0m.5-40.5h0m0 4.5h0m0 1h0m0 1h0m0 1h0m0 3.5h0m0 .5h0m0 .5h0m0 1h0m0 .5h0m0 3.5h0m0 2h0m0 2h0m0 1h0m0 .5h0m0 1h0m0 .5h0m0 1h0m0 2.5h0m0 1h0m0 .5h0m0 11.5h0m.5-42h0m0 1h0m0 5h0m0 .5h0m0 1.5h0m0 1.5h0m0 .5h0m0 .5h0m0 1h0m0 1h0m0 1.5h0m0 .5h0m0 .5h0m0 2h0m0 .5h0m0 1h0m0 1.5h0m0 .5h0m0 1.5h0m0 1h0m0 1h0m0 2.5h0m0 1.5h0m0 1.5h0m0 2h0m.5-26.5h0m0 .5h0m0 2.5h0m0 1.5h0m0 1.5h0m0 .5h0m0 .5h0m0 .5h0m0 1.5h0m0 2h0m0 .5h0m0 2.5h0m0 1h0m0 1.5h0m0 1.5h0m0 1h0m0 2h0m0 1h0m0 .5h0m0 .5h0m.5-20.5h0m0 3h0m0 .5h0m0 .5h0m0 .5h0m0 1h0m0 .5h0m0 2h0m0 1.5h0m0 1h0m0 1h0m0 1h0m0 1h0m0 .5h0m0 2.5h0m0 .5h0m0 .5h0m0 1.5h0m0 .5h0m0 .5h0m0 5h0m0 1h0m0 2.5h0m0 1h0m0 2h0m.5-35.5h0m0 1.5h0m0 3.5h0m0 .5h0m0 1.5h0m0 4.5h0m0 1h0m0 2h0m0 1h0m0 1.5h0m0 .5h0m0 1h0m0 1h0m0 .5h0m0 .5h0m0 .5h0m0 .5h0m0 1.5h0m0 1.5h0m0 2h0m0 .5h0m0 .5h0m0 2.5h0m0 4.5h0m.5-35.5h0m0 .5h0m0 .5h0m0 2.5h0m0 1h0m0 2.5h0m0 .5h0m0 1h0m0 2h0m0 1h0m0 2h0m0 .5h0m0 1h0m0 .5h0m0 1h0m0 1h0m0 .5h0m0 2h0m0 4h0m0 1.5h0m0 2.5h0m.5-28h0m0 1h0m0 4h0m0 3h0m0 1h0m0 .5h0m0 1h0m0 4h0m0 1h0m0 .5h0m0 1h0m0 .5h0m0 2.5h0m0 1h0m0 7h0m0 1h0m.5-30h0m0 5h0m0 1h0m0 1h0m0 2.5h0m0 .5h0m0 3h0m0 1h0m0 .5h0m0 .5h0m0 .5h0m0 .5h0m0 .5h0m0 .5h0m0 1h0m0 1h0m0 1h0m0 1h0m0 1h0m0 1h0m0 2h0m0 6.5h0m.5-29.5h0m0 2h0m0 2h0m0 .5h0m0 2h0m0 1h0m0 1h0m0 2.5h0m0 1.5h0m0 1h0m0 3h0m0 .5h0m0 .5h0m0 .5h0m0 .5h0m0 .5h0m0 2h0m0 2h0m0 .5h0m0 1h0m0 2.5h0m.5-27h0m0 1h0m0 2h0m0 1.5h0m0 1.5h0m0 2.5h0m0 1.5h0m0 .5h0m0 1h0m0 1h0m0 1.5h0m0 1h0m0 7.5h0m.5-17.5h0m0 1.5h0m0 2.5h0m0 2h0m0 .5h0m0 2h0m0 .5h0m0 .5h0m0 2h0m0 .5h0m0 1h0m0 .5h0m0 1h0m0 1.5h0m0 .5h0m.5-22.5h0m0 .5h0m0 2.5h0m0 4.5h0m0 .5h0m0 1.5h0m0 1h0m0 .5h0m0 3h0m0 4.5h0m0 1.5h0m0 9h0m.5-27.5h0m0 1.5h0m0 1h0m0 1h0m0 1.5h0m0 2.5h0m0 3.5h0m0 .5h0m0 .5h0m0 2h0m0 .5h0m0 1h0m0 .5h0m0 1.5h0m0 1h0m0 .5h0m0 5.5h0m0 2h0m0 3h0m.5-29h0m0 .5h0m0 1h0m0 .5h0m0 1h0m0 .5h0m0 .5h0m0 1.5h0m0 1.5h0m0 1h0m0 1.5h0m0 .5h0m0 1.5h0m0 3.5h0m0 7h0m.5-24h0m0 1h0m0 .5h0m0 .5h0m0 .5h0m0 1h0m0 1h0m0 1h0m0 2h0m0 5.5h0m0 .5h0m0 .5h0m0 1.5h0m0 .5h0m0 3h0m0 .5h0m0 3.5h0m0 2h0m0 4.5h0m.5-29.5h0m0 6.5h0m0 2h0m0 3h0m0 .5h0m0 2.5h0m0 3.5h0m0 1.5h0m0 1h0m0 1.5h0m0 1h0m0 .5h0m0 6.5h0m.5-30.5h0m0 4.5h0m0 1.5h0m0 1h0m0 1.5h0m0 2.5h0m0 3h0m0 2h0m0 6.5h0m0 6.5h0m.5-25.5h0m0 3.5h0m0 1h0m0 1.5h0m0 .5h0m0 1h0m0 1h0m0 .5h0m0 1h0m0 .5h0m0 2h0m0 2.5h0m0 2h0m0 .5h0m0 2h0m0 2.5h0m.5-24.5h0m0 2h0m0 1h0m0 1.5h0m0 .5h0m0 .5h0m0 3h0m0 .5h0m0 .5h0m0 .5h0m0 .5h0m0 2h0m0 1h0m0 .5h0m0 .5h0m0 .5h0m0 1h0m0 .5h0m0 .5h0m0 .5h0m0 3.5h0m.5-22.5h0m0 1h0m0 8h0m0 .5h0m0 1.5h0m0 2.5h0m0 .5h0m0 3.5h0m0 2h0m0 .5h0m.5-19h0m0 .5h0m0 4.5h0m0 1.5h0m0 1.5h0m0 3.5h0m0 .5h0m0 1.5h0m0 .5h0m0 3.5h0m0 2h0m0 1h0m0 .5h0m0 3h0m.5-26h0m0 3h0m0 6.5h0m0 2.5h0m0 2.5h0m0 1h0m0 1.5h0m0 1h0m0 .5h0m0 3h0m.5-21h0m0 1h0m0 4h0m0 1.5h0m0 .5h0m0 4.5h0m0 .5h0m0 .5h0m0 1h0m0 .5h0m0 .5h0m0 2h0m0 5.5h0m0 1.5h0m.5-23h0m0 2.5h0m0 5h0m0 1h0m0 .5h0m0 2.5h0m0 1h0m0 4.5h0m0 .5h0m0 1h0m0 7h0m.5-24h0m0 8h0m0 .5h0m0 2h0m0 1h0m0 1.5h0m0 1h0m0 3h0m0 3h0m0 13h0m.5-29h0m0 1.5h0m0 1h0m0 3.5h0m0 2.5h0m0 3.5h0m0 2h0m0 1.5h0m0 .5h0m0 3h0m.5-19h0m0 .5h0m0 .5h0m0 1.5h0m0 2.5h0m.5-6h0m0 4h0m0 2h0m0 1.5h0m0 2h0m0 1.5h0m0 1.5h0m0 3h0m.5-17h0m0 1h0m0 2h0m0 2h0m0 .5h0m0 2h0m0 5h0m0 .5h0m.5-16.5h0m0 15.5h0m0 1.5h0m.5-17.5h0m0 2.5h0m0 1.5h0m0 1h0m0 4.5h0m0 3.5h0m0 6h0m0 1.5h0m0 1h0m.5-21h0m0 4h0m0 3h0m0 2.5h0m0 6h0m0 .5h0m.5-13h0m0 11h0m.5-13h0m0 3h0m0 8.5h0m0 1h0m.5-10.5h0m0 5.5h0m0 3h0m.5-11.5h0m0 13.5h0m0 3h0m.5-4h0m0 .5h0m.5-13h0m0 1.5h0m0 3.5h0m0 4.5h0m0 5h0m.5-3.5h0m.5-10.5h0m0 2h0m0 5.5h0m0 3.5h0m.5-3h0m0 1.5h0m.5 16h0"/>
<path stroke="#000" stroke-opacity="0.75" stroke-width="0.7" stroke-linecap="square" fill="none" d="M404 63h0m2.5 10.5h0m0 .5h0m0 6.5h0m0 1.5h0m.5-5.5h0m0 2h0m0 1.5h0m.5-17.5h0m0 11.5h0m.5 2.5h0m0 4h0m0 .5h0m.5-5.5h0m0 3h0m0 1.5h0m0 2.5h0m.5-7h0m0 2h0m0 .5h0m.5-24h0m0 18.5h0m0 3.5h0m.5-5.5h0m0 2h0m0 .5h0m0 .5h0m0 2h0m0 1h0m0 2h0m0 .5h0m0 2h0m.5-10h0m0 4.5h0m0 .5h0m0 .5h0m0 1.5h0m0 7.5h0m.5-12.5h0m0 6h0m0 2.5h0m0 .5h0m.5-14h0m0 6h0m0 1.5h0m0 .5h0m0 5h0m.5-10h0m0 3h0m0 2.5h0m0 2h0m0 1h0m0 .5h0m0 2.5h0m.5-6.5h0m0 1.5h0m0 1.5h0m0 1h0m.5-11h0m0 3h0m0 2h0m0 1.5h0m0 3h0m.5-17h0m0 3.5h0m0 3.5h0m0 1h0m0 3h0m0 1.5h0m0 .5h0m0 .5h0m0 1.5h0m0 3.5h0m0 1h0m.5-8.5h0m0 2h0m0 .5h0m0 3h0m0 1h0m0 1h0m0 1h0m.5-15h0m0 8h0m0 2.5h0m0 1.5h0m.5-14.5h0m0 6h0m0 4.5h0m0 1.5h0m0 2.5h0m0 1.5h0m0 .5h0m0 .5h0m0 .5h0m0 1.5h0m.5-11h0m0 1.5h0m0 3h0m0 2.5h0m0 3.5h0m.5-21h0m0 12.5h0m0 1.5h0m.5-17h0m0 12.5h0m0 10.5h0m0 2.5h0m.5-23.5h0m0 1.5h0m0 8h0m0 1h0m0 4h0m0 1.5h0m0 .5h0m0 5.5h0m.5-17h0m0 6h0m0 6.5h0m0 1h0m0 1.5h0m.5-30h0m0 2.5h0m0 9.5h0m0 1.5h0m0 3.5h0m0 2h0m0 .5h0m0 1h0m.5-19h0m0 10.5h0m0 .5h0m0 2.5h0m0 1h0m0 2.5h0m0 1h0m0 2.5h0m0 4h0m0 5.5h0m0 1h0m0 1h0m.5-26h0m0 2h0m0 1h0m0 5.5h0m0 9h0m0 2h0m0 2.5h0m0 1.5h0m.5-17.5h0m0 2.5h0m0 2.5h0m0 6h0m.5-27h0m0 17.5h0m0 4.5h0m0 2h0m0 2h0m.5-28.5h0m0 2.5h0m0 7.5h0m0 1.5h0m0 6.5h0m0 2h0m0 4h0m0 9h0m.5-26.5h0m0 2.5h0m0 3h0m0 .5h0m0 1h0m0 2h0m0 1h0m0 5.5h0m0 .5h0m.5-5h0m0 .5h0m0 2.5h0m0 2.5h0m.5-27h0m0 4.5h0m0 12h0m0 2h0m0 1h0m0 1.5h0m.5-13.5h0m0 1.5h0m0 7h0m0 2h0m0 5.5h0m0 4.5h0m.5-17.5h0m0 5h0m0 .5h0m0 .5h0m0 .5h0m0 1.5h0m0 4h0m.5-12.5h0m0 1h0m0 .5h0m0 1h0m0 4h0m0 .5h0m0 1.5h0m0 6.5h0m0 3h0m.5-18.5h0m0 3.5h0m0 4h0m0 .5h0m0 2h0m0 6h0m.5-28.5h0m0 10h0m0 3h0m0 3.5h0m0 .5h0m0 .5h0m0 6h0m.5-14h0m0 3h0m0 2.5h0m0 1.5h0m0 2h0m0 6.5h0m0 .5h0m0 .5h0m.5-17.5h0m0 3.5h0m0 2h0m0 2h0m0 .5h0m0 1h0m0 4h0m0 7.5h0m0 1.5h0m.5-23h0m0 1h0m0 1h0m0 1.5h0m0 .5h0m0 2h0m0 .5h0m0 3.5h0m0 .5h0m0 1h0m0 1.5h0m0 .5h0m0 .5h0m0 .5h0m0 3h0m0 .5h0m0 1.5h0m.5-13h0m0 .5h0m0 5.5h0m0 1h0m0 2h0m.5-19h0m0 1.5h0m0 6.5h0m0 1h0m0 .5h0m0 2h0m0 9.5h0m.5-15.5h0m0 1h0m0 3h0m0 2.5h0m0 1h0m0 .5h0m0 .5h0m0 2h0m0 .5h0m0 3h0m.5-17h0m0 2h0m0 .5h0m0 2h0m0 5.5h0m0 1h0m0 11.5h0m.5-26.5h0m0 6.5h0m0 .5h0m0 1.5h0m0 4.5h0m0 2h0m0 1.5h0m0 2h0m0 6h0m0 1.5h0m.5-26h0m0 4h0m0 2.5h0m0 1h0m0 .5h0m0 1h0m0 5h0m0 2h0m0 3.5h0m0 .5h0m0 11h0m.5-23.5h0m0 .5h0m0 1.5h0m0 .5h0m0 6.5h0m0 .5h0m0 1h0m0 2.5h0m.5-13.5h0m0 .5h0m0 .5h0m0 2h0m0 1h0m0 2h0m0 .5h0m0 .5h0m0 1h0m0 .5h0m0 .5h0m0 .5h0m0 1.5h0m0 1h0m.5-16h0m0 3h0m0 .5h0m0 .5h0m0 1.5h0m0 4h0m0 2h0m0 3h0m0 3.5h0m0 1h0m.5-19h0m0 3h0m0 3h0m0 1.5h0m0 1h0m0 3h0m0 .5h0m0 2.5h0m.5-13.5h0m0 1.5h0m0 1h0m0 5.5h0m0 .5h0m0 2.5h0m0 1.5h0m0 4h0m0 2h0m.5-20h0m0 1h0m0 1.5h0m0 1h0m0 1h0m0 1h0m0 1.5h0m0 1h0m0 4h0m0 1.5h0m0 .5h0m0 2h0m0 .5h0m0 2h0m0 .5h0m0 1h0m.5-24.5h0m0 3h0m0 2h0m0 3h0m0 5h0m0 1.5h0m0 1h0m0 1h0m.5-15.5h0m0 7h0m0 .5h0m0 3h0m0 .5h0m0 2h0m0 .5h0m0 3.5h0m0 .5h0m0 5h0m0 2.5h0m.5-26h0m0 .5h0m0 3.5h0m0 2.5h0m0 3h0m0 1h0m0 4.5h0m0 2h0m0 4h0m.5-19.5h0m0 5h0m0 2h0m0 5.5h0m0 .5h0m0 3.5h0m0 .5h0m.5-16.5h0m0 1.5h0m0 .5h0m0 2h0m0 1.5h0m0 .5h0m0 3h0m0 .5h0m.5-14.5h0m0 3.5h0m0 2h0m0 .5h0m0 1.5h0m0 1h0m0 .5h0m0 .5h0m0 .5h0m0 1h0m0 3.5h0m0 .5h0m0 .5h0m0 4.5h0m0 .5h0m0 6.5h0m0 1h0m.5-23h0m0 12h0m0 1h0m0 2.5h0m0 2.5h0m0 .5h0m0 3.5h0m.5-27.5h0m0 5.5h0m0 2h0m0 2h0m0 1.5h0m0 1h0m0 1.5h0m0 9h0m.5-14.5h0m0 .5h0m0 1h0m0 1h0m0 .5h0m0 .5h0m0 1h0m0 .5h0m0 1h0m0 1.5h0m0 5h0m0 2h0m0 .5h0m0 1h0m0 3.5h0m.5-26.5h0m0 5.5h0m0 1h0m0 .5h0m0 1h0m0 .5h0m0 2.5h0m0 3h0m0 .5h0m0 3.5h0m0 1h0m0 4h0m.5-21h0m0 2.5h0m0 3h0m0 .5h0m0 4.5h0m0 .5h0m0 1.5h0m0 3h0m0 3.5h0m0 .5h0m0 4.5h0m.5-23.5h0m0 3.5h0m0 5h0m0 .5h0m0 .5h0m0 1.5h0m0 1h0m0 2h0m0 .5h0m0 2.5h0m0 1.5h0m0 1.5h0m.5-18.5h0m0 5.5h0m0 .5h0m0 1h0m0 3h0m0 .5h0m0 1h0m0 1h0m0 2.5h0m0 2h0m0 1h0m.5-11.5h0m0 1.5h0m0 3.5h0m.5-12.5h0m0 2h0m0 2.5h0m0 1.5h0m0 3h0m0 .5h0m0 3.5h0m0 2h0m0 1h0m0 .5h0m.5-16h0m0 3h0m0 1.5h0m0 1.5h0m0 1.5h0m0 12.5h0m.5-19.5h0m0 .5h0m0 8h0m0 1h0m0 1.5h0m0 2.5h0m0 2h0m.5-17.5h0m0 7h0m0 3.5h0m0 1.5h0m0 5h0m0 2.5h0m.5-10.5h0m0 6.5h0m.5-13.5h0m0 2h0m0 5h0m0 3h0m0 .5h0m0 2h0m0 1.5h0m0 1h0m.5-17.5h0m0 6h0m0 3h0m0 .5h0m0 6.5h0m0 1h0m.5-16h0m0 .5h0m0 2.5h0m0 2h0m0 .5h0m0 1h0m0 3.5h0m0 1h0m0 2.5h0m.5-12h0m0 2h0m0 .5h0m0 .5h0m0 1.5h0m0 1h0m0 1h0m0 2h0m0 6h0m0 .5h0m0 2.5h0m.5-17h0m0 3h0m0 5h0m.5-8.5h0m0 3.5h0m0 1h0m0 .5h0m.5-2.5h0m0 8.5h0m0 2h0m0 4h0m.5-23.5h0m0 4.5h0m0 2.5h0m0 1.5h0m0 5h0m.5-6.5h0m0 4h0m0 3.5h0m0 2.5h0m0 5.5h0m.5-20h0m0 2h0m0 4h0m0 6h0m0 .5h0m0 4.5h0m.5-13h0m0 .5h0m0 9h0m.5-10.5h0m0 2.5h0m0 1.5h0m0 .5h0m0 2h0m0 1h0m0 3h0m0 8.5h0m.5-26h0m0 2.5h0m0 8h0m0 9.5h0m0 1h0m.5-12h0m0 2.5h0m0 6h0m0 6h0m.5-20.5h0m0 7h0m0 2h0m0 2.5h0m0 .5h0m0 .5h0m0 4h0m.5-13h0m0 2h0m0 3.5h0m0 5.5h0m.5-11h0m0 10.5h0m.5-11h0m0 5h0m.5-7.5h0m0 3h0m0 .5h0m0 1.5h0m0 3h0m.5-1.5h0m0 2h0m.5-4.5h0m1 1h0m.5 2.5h0m.5-2.5h0m1-5h0m0 5h0m1.5-5.5h0"/>
<path stroke="#000" stroke-opacity="0.95" stroke-width="0.7" stroke-linecap="square" fill="none" d="M407 74h0m0 6.5h0m1-3h0m1-3h0m.5 1h0m0 3h0m0 .5h0m1-6h0m0 5.5h0m0 .5h0m0 .5h0m0 .5h0m.5-5.5h0m0 1h0m0 .5h0m0 .5h0m0 .5h0m0 1.5h0m.5-4h0m0 3.5h0m0 .5h0m.5-13h0m0 7h0m0 2h0m0 1.5h0m0 1.5h0m0 .5h0m0 1h0m0 1.5h0m.5-7h0m0 1h0m0 .5h0m0 2h0m0 1h0m0 .5h0m.5-6h0m0 .5h0m0 .5h0m0 4h0m0 .5h0m0 1.5h0m0 .5h0m0 .5h0m0 1.5h0m.5-10h0m0 1h0m0 2.5h0m0 2h0m0 .5h0m0 1h0m.5-3.5h0m0 2h0m0 1h0m0 1h0m0 1h0m.5-7h0m0 1h0m0 4.5h0m0 1.5h0m.5-9h0m.5 3.5h0m.5-5.5h0m0 10.5h0m1-11h0m0 3h0m0 .5h0m0 6h0m0 .5h0m.5-22.5h0m0 7.5h0m.5-1.5h0m0 5.5h0m0 3h0m0 1h0m1-15h0m0 2h0m0 9.5h0m0 2h0m1-8h0m.5-13.5h0m0 9h0m.5-4.5h0m0 10.5h0m.5 5.5h0m0 .5h0m.5-16h0m0 .5h0m0 2.5h0m0 3h0m.5-8.5h0m.5-3.5h0m0 4h0m0 6.5h0m0 3h0m0 .5h0m0 5h0m.5-14h0m0 1h0m0 2h0m0 2.5h0m0 .5h0m0 1h0m0 .5h0m0 .5h0m0 4h0m1-8h0m0 4h0m0 1.5h0m.5-14h0m0 5h0m0 1.5h0m.5-4.5h0m0 6.5h0m0 1h0m.5-5.5h0m0 4h0m.5 2h0m1-9h0m0 2.5h0m0 11.5h0m.5-13.5h0m0 1.5h0m0 1.5h0m.5-5h0m0 1.5h0m0 5h0m.5-7h0m0 4.5h0m0 1.5h0m0 2.5h0m0 1.5h0m0 .5h0m0 1.5h0m.5-10.5h0m0 3.5h0m0 1.5h0m.5-5h0m0 4h0m0 4.5h0m0 .5h0m.5-12.5h0m0 6h0m0 2h0m0 .5h0m0 4.5h0m.5-13h0m0 2.5h0m0 5.5h0m0 2.5h0m0 1.5h0m.5-13.5h0m0 4h0m0 1h0m0 1h0m0 1h0m0 1h0m0 2.5h0m0 .5h0m0 3h0m0 2.5h0m.5-13.5h0m0 3.5h0m0 1.5h0m0 1.5h0m.5-3.5h0m0 .5h0m0 1.5h0m0 1.5h0m0 1h0m0 3.5h0m0 2.5h0m.5-18h0m0 6.5h0m0 2h0m0 3h0m0 1h0m.5-5h0m0 2.5h0m0 6.5h0m.5-22h0m0 1.5h0m0 7h0m0 .5h0m0 1.5h0m0 1.5h0m0 2h0m0 1h0m0 8h0m.5-12.5h0m0 4h0m0 4h0m0 4h0m.5-17h0m0 3.5h0m0 2h0m0 .5h0m0 3h0m0 1.5h0m0 .5h0m.5-7.5h0m0 3.5h0m0 .5h0m0 11.5h0m.5-19.5h0m0 2h0m0 2.5h0m0 1.5h0m0 1h0m0 1h0m0 1.5h0m0 2h0m0 1.5h0m.5-5h0m0 1h0m0 2h0m0 .5h0m0 3.5h0m0 3h0m.5-14.5h0m0 1h0m0 2.5h0m0 .5h0m0 1.5h0m0 1h0m.5-5h0m0 .5h0m0 2.5h0m0 1h0m0 .5h0m0 .5h0m0 3.5h0m.5-9h0m.5-5h0m0 1.5h0m0 2h0m0 4.5h0m0 2.5h0m0 1.5h0m.5-14h0m0 2h0m0 .5h0m0 1h0m0 .5h0m0 .5h0m0 1.5h0m0 3.5h0m0 1.5h0m0 .5h0m0 4h0m0 1h0m.5-7h0m0 1h0m0 4.5h0m0 4.5h0m.5-18.5h0m0 1h0m0 4.5h0m0 2.5h0m0 .5h0m.5-6.5h0m0 1.5h0m0 1.5h0m0 2h0m0 5h0m.5-13.5h0m0 2h0m0 .5h0m0 4.5h0m0 2h0m0 5.5h0m.5-14.5h0m0 1h0m0 1h0m0 2h0m0 2h0m0 1h0m0 .5h0m0 2h0m0 .5h0m.5-3.5h0m.5-1.5h0m0 .5h0m0 8h0m.5-7h0m0 1h0m.5-8h0m0 7.5h0m0 4.5h0m.5 0h0m.5-11.5h0m0 6.5h0m.5-4h0m0 6.5h0m.5-4h0m0 1.5h0m0 2h0m0 1h0m.5-7h0m0 2h0m0 2.5h0m1-9h0m0 7h0m.5-2h0m0 6h0m.5-8h0m1.5-5h0m0 11h0m.5-2h0m1 2.5h0m.5-8h0"/>
<rect x="396.3" y="28.6" width="67" height="62.4" fill="none" stroke="#000" stroke-width="0.95"/>
<line x1="396.3" y1="28.1" x2="396.3" y2="91.5" stroke="#000" stroke-width="1.5"/>
<line x1="395.8" y1="91" x2="463.8" y2="91" stroke="#000" stroke-width="1.5"/>
<line x1="393.9" y1="34.7" x2="396.3" y2="34.7" stroke="#000" stroke-width="1.1"/>
<line x1="393.9" y1="48.5" x2="396.3" y2="48.5" stroke="#000" stroke-width="1.1"/>
<line x1="393.9" y1="63" x2="396.3" y2="63" stroke="#000" stroke-width="1.1"/>
<line x1="393.9" y1="77.6" x2="396.3" y2="77.6" stroke="#000" stroke-width="1.1"/>
<line x1="395.2" y1="44.35" x2="396.3" y2="44.35" stroke="#000" stroke-width="0.6"/>
<line x1="395.2" y1="41.92" x2="396.3" y2="41.92" stroke="#000" stroke-width="0.6"/>
<line x1="395.2" y1="40.19" x2="396.3" y2="40.19" stroke="#000" stroke-width="0.6"/>
<line x1="395.2" y1="38.85" x2="396.3" y2="38.85" stroke="#000" stroke-width="0.6"/>
<line x1="395.2" y1="37.76" x2="396.3" y2="37.76" stroke="#000" stroke-width="0.6"/>
<line x1="395.2" y1="36.84" x2="396.3" y2="36.84" stroke="#000" stroke-width="0.6"/>
<line x1="395.2" y1="36.04" x2="396.3" y2="36.04" stroke="#000" stroke-width="0.6"/>
<line x1="395.2" y1="35.33" x2="396.3" y2="35.33" stroke="#000" stroke-width="0.6"/>
<line x1="395.2" y1="58.64" x2="396.3" y2="58.64" stroke="#000" stroke-width="0.6"/>
<line x1="395.2" y1="56.08" x2="396.3" y2="56.08" stroke="#000" stroke-width="0.6"/>
<line x1="395.2" y1="54.27" x2="396.3" y2="54.27" stroke="#000" stroke-width="0.6"/>
<line x1="395.2" y1="52.86" x2="396.3" y2="52.86" stroke="#000" stroke-width="0.6"/>
<line x1="395.2" y1="51.72" x2="396.3" y2="51.72" stroke="#000" stroke-width="0.6"/>
<line x1="395.2" y1="50.75" x2="396.3" y2="50.75" stroke="#000" stroke-width="0.6"/>
<line x1="395.2" y1="49.91" x2="396.3" y2="49.91" stroke="#000" stroke-width="0.6"/>
<line x1="395.2" y1="49.16" x2="396.3" y2="49.16" stroke="#000" stroke-width="0.6"/>
<line x1="395.2" y1="73.2" x2="396.3" y2="73.2" stroke="#000" stroke-width="0.6"/>
<line x1="395.2" y1="70.63" x2="396.3" y2="70.63" stroke="#000" stroke-width="0.6"/>
<line x1="395.2" y1="68.81" x2="396.3" y2="68.81" stroke="#000" stroke-width="0.6"/>
<line x1="395.2" y1="67.4" x2="396.3" y2="67.4" stroke="#000" stroke-width="0.6"/>
<line x1="395.2" y1="66.24" x2="396.3" y2="66.24" stroke="#000" stroke-width="0.6"/>
<line x1="395.2" y1="65.26" x2="396.3" y2="65.26" stroke="#000" stroke-width="0.6"/>
<line x1="395.2" y1="64.41" x2="396.3" y2="64.41" stroke="#000" stroke-width="0.6"/>
<line x1="395.2" y1="63.67" x2="396.3" y2="63.67" stroke="#000" stroke-width="0.6"/>
<line x1="393.9" y1="82.3" x2="396.3" y2="82.3" stroke="#000" stroke-width="1.1"/>
<line x1="395.2" y1="85" x2="396.3" y2="85" stroke="#000" stroke-width="0.6"/>
<line x1="395.2" y1="87.5" x2="396.3" y2="87.5" stroke="#000" stroke-width="0.6"/>
<line x1="395.2" y1="89.5" x2="396.3" y2="89.5" stroke="#000" stroke-width="0.6"/>
<line x1="410.8" y1="91" x2="410.8" y2="93" stroke="#000" stroke-width="1"/>
<line x1="426.7" y1="91" x2="426.7" y2="93" stroke="#000" stroke-width="1"/>
<line x1="442.2" y1="91" x2="442.2" y2="93" stroke="#000" stroke-width="1"/>
<line x1="457.5" y1="91" x2="457.5" y2="93" stroke="#000" stroke-width="1"/>
<line x1="415.59" y1="91" x2="415.59" y2="92.1" stroke="#000" stroke-width="0.6"/>
<line x1="418.39" y1="91" x2="418.39" y2="92.1" stroke="#000" stroke-width="0.6"/>
<line x1="420.37" y1="91" x2="420.37" y2="92.1" stroke="#000" stroke-width="0.6"/>
<line x1="421.91" y1="91" x2="421.91" y2="92.1" stroke="#000" stroke-width="0.6"/>
<line x1="423.17" y1="91" x2="423.17" y2="92.1" stroke="#000" stroke-width="0.6"/>
<line x1="424.24" y1="91" x2="424.24" y2="92.1" stroke="#000" stroke-width="0.6"/>
<line x1="425.16" y1="91" x2="425.16" y2="92.1" stroke="#000" stroke-width="0.6"/>
<line x1="425.97" y1="91" x2="425.97" y2="92.1" stroke="#000" stroke-width="0.6"/>
<line x1="431.37" y1="91" x2="431.37" y2="92.1" stroke="#000" stroke-width="0.6"/>
<line x1="434.1" y1="91" x2="434.1" y2="92.1" stroke="#000" stroke-width="0.6"/>
<line x1="436.03" y1="91" x2="436.03" y2="92.1" stroke="#000" stroke-width="0.6"/>
<line x1="437.53" y1="91" x2="437.53" y2="92.1" stroke="#000" stroke-width="0.6"/>
<line x1="438.76" y1="91" x2="438.76" y2="92.1" stroke="#000" stroke-width="0.6"/>
<line x1="439.8" y1="91" x2="439.8" y2="92.1" stroke="#000" stroke-width="0.6"/>
<line x1="440.7" y1="91" x2="440.7" y2="92.1" stroke="#000" stroke-width="0.6"/>
<line x1="441.49" y1="91" x2="441.49" y2="92.1" stroke="#000" stroke-width="0.6"/>
<line x1="446.81" y1="91" x2="446.81" y2="92.1" stroke="#000" stroke-width="0.6"/>
<line x1="449.5" y1="91" x2="449.5" y2="92.1" stroke="#000" stroke-width="0.6"/>
<line x1="451.41" y1="91" x2="451.41" y2="92.1" stroke="#000" stroke-width="0.6"/>
<line x1="452.89" y1="91" x2="452.89" y2="92.1" stroke="#000" stroke-width="0.6"/>
<line x1="454.11" y1="91" x2="454.11" y2="92.1" stroke="#000" stroke-width="0.6"/>
<line x1="455.13" y1="91" x2="455.13" y2="92.1" stroke="#000" stroke-width="0.6"/>
<line x1="456.02" y1="91" x2="456.02" y2="92.1" stroke="#000" stroke-width="0.6"/>
<line x1="456.8" y1="91" x2="456.8" y2="92.1" stroke="#000" stroke-width="0.6"/>
<line x1="403.3" y1="91" x2="403.3" y2="93" stroke="#000" stroke-width="0.8"/>
<line x1="398.8" y1="91" x2="398.8" y2="92.1" stroke="#000" stroke-width="0.6"/>
<line x1="400.8" y1="91" x2="400.8" y2="92.1" stroke="#000" stroke-width="0.6"/>
<line x1="406.8" y1="91" x2="406.8" y2="92.1" stroke="#000" stroke-width="0.6"/>
<text x="403.3" y="100.8" font-size="5.2" text-anchor="middle">0</text>
<text x="411.4" y="100.8" font-size="5.2" text-anchor="middle">10<tspan font-size="3.2" dy="-2.2">2</tspan></text>
<text x="427.3" y="100.8" font-size="5.2" text-anchor="middle">10<tspan font-size="3.2" dy="-2.2">3</tspan></text>
<text x="442.8" y="100.8" font-size="5.2" text-anchor="middle">10<tspan font-size="3.2" dy="-2.2">4</tspan></text>
<text x="458.1" y="100.8" font-size="5.2" text-anchor="middle">10<tspan font-size="3.2" dy="-2.2">5</tspan></text>
<text x="391" y="36.6" font-size="5.2" text-anchor="end">10<tspan font-size="3.2" dy="-2.2">5</tspan></text>
<text x="391" y="50.4" font-size="5.2" text-anchor="end">10<tspan font-size="3.2" dy="-2.2">4</tspan></text>
<text x="391" y="64.9" font-size="5.2" text-anchor="end">10<tspan font-size="3.2" dy="-2.2">3</tspan></text>
<text x="391" y="79.5" font-size="5.2" text-anchor="end">10<tspan font-size="3.2" dy="-2.2">2</tspan></text>
<text x="390.7" y="84.5" font-size="5.2" text-anchor="end">0</text>
<text x="397.5" y="34" font-size="6.5">3%</text>
<text x="462.3" y="34" font-size="6.5" text-anchor="end">82%</text>
<text x="397.5" y="89.6" font-size="6.5">14%</text>
<text x="462.3" y="89.6" font-size="6.5" text-anchor="end">&lt;1%</text>
<line x1="242" y1="111.4" x2="324.7" y2="111.4" stroke="#000" stroke-width="1.15"/>
<line x1="349.1" y1="111.4" x2="423" y2="111.4" stroke="#000" stroke-width="1.15"/>
<path d="M421.9 108.8L428.2 111.4L421.9 114L423.2 111.4z" fill="#000"/>
<text x="336.6" y="114.6" font-size="8" text-anchor="middle" textLength="10.8" lengthAdjust="spacingAndGlyphs">GFP</text>
<line x1="41.3" y1="155" x2="41.3" y2="233.6" stroke="#000" stroke-width="1.35"/>
<line x1="38.1" y1="157.6" x2="41.3" y2="157.6" stroke="#000" stroke-width="1.1"/>
<text x="34.7" y="160.4" font-size="8" text-anchor="end">100</text>
<line x1="38.1" y1="172.68" x2="41.3" y2="172.68" stroke="#000" stroke-width="1.1"/>
<text x="34.7" y="175.48" font-size="8" text-anchor="end">80</text>
<line x1="38.1" y1="187.76" x2="41.3" y2="187.76" stroke="#000" stroke-width="1.1"/>
<text x="34.7" y="190.56" font-size="8" text-anchor="end">60</text>
<line x1="38.1" y1="202.84" x2="41.3" y2="202.84" stroke="#000" stroke-width="1.1"/>
<text x="34.7" y="205.64" font-size="8" text-anchor="end">40</text>
<line x1="38.1" y1="217.92" x2="41.3" y2="217.92" stroke="#000" stroke-width="1.1"/>
<text x="34.7" y="220.72" font-size="8" text-anchor="end">20</text>
<line x1="38.1" y1="233" x2="41.3" y2="233" stroke="#000" stroke-width="1.1"/>
<text x="34.7" y="235.8" font-size="8" text-anchor="end">0</text>
<line x1="40.7" y1="233" x2="88.6" y2="233" stroke="#000" stroke-width="1.35"/>
<line x1="53.2" y1="233" x2="53.2" y2="235.6" stroke="#000" stroke-width="1.1"/>
<line x1="77.3" y1="233" x2="77.3" y2="235.6" stroke="#000" stroke-width="1.1"/>
<line x1="53.2" y1="164" x2="77.1" y2="157.4" stroke="#000" stroke-width="0.95"/>
<line x1="53.2" y1="164" x2="77.1" y2="160.2" stroke="#000" stroke-width="0.95"/>
<line x1="53.2" y1="166.2" x2="77.1" y2="157.4" stroke="#000" stroke-width="0.95"/>
<line x1="53.2" y1="166.2" x2="77.1" y2="162.5" stroke="#000" stroke-width="0.95"/>
<line x1="53.2" y1="168.5" x2="77.1" y2="160.2" stroke="#000" stroke-width="0.95"/>
<line x1="53.2" y1="168.5" x2="77.1" y2="162.5" stroke="#000" stroke-width="0.95"/>
<line x1="53.2" y1="171.9" x2="77.1" y2="157.4" stroke="#000" stroke-width="0.95"/>
<line x1="53.2" y1="171.9" x2="77.1" y2="165.3" stroke="#000" stroke-width="0.95"/>
<line x1="53.2" y1="176.1" x2="77.1" y2="160.2" stroke="#000" stroke-width="0.95"/>
<line x1="53.2" y1="176.1" x2="77.1" y2="162.5" stroke="#000" stroke-width="0.95"/>
<line x1="53.2" y1="180.3" x2="77.1" y2="162.5" stroke="#000" stroke-width="0.95"/>
<line x1="53.2" y1="180.3" x2="77.1" y2="165.3" stroke="#000" stroke-width="0.95"/>
<line x1="53.2" y1="184" x2="77.1" y2="165.3" stroke="#000" stroke-width="0.95"/>
<line x1="53.2" y1="190.8" x2="77.1" y2="165.3" stroke="#000" stroke-width="0.95"/>
<line x1="53.2" y1="193.1" x2="77.1" y2="170.8" stroke="#000" stroke-width="0.95"/>
<line x1="53.2" y1="198.2" x2="77.1" y2="174.2" stroke="#000" stroke-width="0.95"/>
<circle cx="53.2" cy="164" r="1.75" fill="#c80a28" stroke="#000" stroke-width="0.8"/>
<circle cx="53.2" cy="164" r="1.75" fill="#c80a28" stroke="#000" stroke-width="0.8"/>
<circle cx="53.2" cy="166.2" r="1.75" fill="#c80a28" stroke="#000" stroke-width="0.8"/>
<circle cx="53.2" cy="166.2" r="1.75" fill="#c80a28" stroke="#000" stroke-width="0.8"/>
<circle cx="53.2" cy="168.5" r="1.75" fill="#c80a28" stroke="#000" stroke-width="0.8"/>
<circle cx="53.2" cy="168.5" r="1.75" fill="#c80a28" stroke="#000" stroke-width="0.8"/>
<circle cx="53.2" cy="171.9" r="1.75" fill="#c80a28" stroke="#000" stroke-width="0.8"/>
<circle cx="53.2" cy="171.9" r="1.75" fill="#c80a28" stroke="#000" stroke-width="0.8"/>
<circle cx="53.2" cy="176.1" r="1.75" fill="#c80a28" stroke="#000" stroke-width="0.8"/>
<circle cx="53.2" cy="176.1" r="1.75" fill="#c80a28" stroke="#000" stroke-width="0.8"/>
<circle cx="53.2" cy="180.3" r="1.75" fill="#c80a28" stroke="#000" stroke-width="0.8"/>
<circle cx="53.2" cy="180.3" r="1.75" fill="#c80a28" stroke="#000" stroke-width="0.8"/>
<circle cx="53.2" cy="184" r="1.75" fill="#c80a28" stroke="#000" stroke-width="0.8"/>
<circle cx="53.2" cy="190.8" r="1.75" fill="#c80a28" stroke="#000" stroke-width="0.8"/>
<circle cx="53.2" cy="193.1" r="1.75" fill="#c80a28" stroke="#000" stroke-width="0.8"/>
<circle cx="53.2" cy="198.2" r="1.75" fill="#c80a28" stroke="#000" stroke-width="0.8"/>
<circle cx="77.1" cy="157.4" r="1.75" fill="#4e1d6c" stroke="#000" stroke-width="0.8"/>
<circle cx="77.1" cy="160.2" r="1.75" fill="#4e1d6c" stroke="#000" stroke-width="0.8"/>
<circle cx="77.1" cy="157.4" r="1.75" fill="#4e1d6c" stroke="#000" stroke-width="0.8"/>
<circle cx="77.1" cy="162.5" r="1.75" fill="#4e1d6c" stroke="#000" stroke-width="0.8"/>
<circle cx="77.1" cy="160.2" r="1.75" fill="#4e1d6c" stroke="#000" stroke-width="0.8"/>
<circle cx="77.1" cy="162.5" r="1.75" fill="#4e1d6c" stroke="#000" stroke-width="0.8"/>
<circle cx="77.1" cy="157.4" r="1.75" fill="#4e1d6c" stroke="#000" stroke-width="0.8"/>
<circle cx="77.1" cy="165.3" r="1.75" fill="#4e1d6c" stroke="#000" stroke-width="0.8"/>
<circle cx="77.1" cy="160.2" r="1.75" fill="#4e1d6c" stroke="#000" stroke-width="0.8"/>
<circle cx="77.1" cy="162.5" r="1.75" fill="#4e1d6c" stroke="#000" stroke-width="0.8"/>
<circle cx="77.1" cy="162.5" r="1.75" fill="#4e1d6c" stroke="#000" stroke-width="0.8"/>
<circle cx="77.1" cy="165.3" r="1.75" fill="#4e1d6c" stroke="#000" stroke-width="0.8"/>
<circle cx="77.1" cy="165.3" r="1.75" fill="#4e1d6c" stroke="#000" stroke-width="0.8"/>
<circle cx="77.1" cy="165.3" r="1.75" fill="#4e1d6c" stroke="#000" stroke-width="0.8"/>
<circle cx="77.1" cy="170.8" r="1.75" fill="#4e1d6c" stroke="#000" stroke-width="0.8"/>
<circle cx="77.1" cy="174.2" r="1.75" fill="#4e1d6c" stroke="#000" stroke-width="0.8"/>
<path d="M60.3 152.4L60.3 155.2M61.51 153.1L59.09 154.5M61.51 154.5L59.09 153.1" stroke="#111" stroke-width="0.9"/>
<path d="M63.7 152.4L63.7 155.2M64.91 153.1L62.49 154.5M64.91 154.5L62.49 153.1" stroke="#111" stroke-width="0.9"/>
<path d="M67.1 152.4L67.1 155.2M68.31 153.1L65.89 154.5M68.31 154.5L65.89 153.1" stroke="#111" stroke-width="0.9"/>
<path d="M70.5 152.4L70.5 155.2M71.71 153.1L69.29 154.5M71.71 154.5L69.29 153.1" stroke="#111" stroke-width="0.9"/>
<text transform="translate(16.3 214.2) rotate(-90)" x="0" y="0" font-size="10.5" textLength="45.8" lengthAdjust="spacingAndGlyphs">% EpoR+ cells</text>
<text transform="translate(57.4 242) rotate(-45)" x="0" y="0" font-size="7.7" text-anchor="end" textLength="21.5" lengthAdjust="spacingAndGlyphs">EpoR</text>
<text transform="translate(81.4 242) rotate(-45)" x="0" y="0" font-size="7.7" text-anchor="end" textLength="28.8" lengthAdjust="spacingAndGlyphs">EpoRm</text>
<line x1="121.4" y1="158.2" x2="121.4" y2="233.6" stroke="#000" stroke-width="1.35"/>
<line x1="118.2" y1="161" x2="121.4" y2="161" stroke="#000" stroke-width="1.1"/>
<text x="115.1" y="163.94" font-size="8.4" text-anchor="end">2</text>
<line x1="118.2" y1="197" x2="121.4" y2="197" stroke="#000" stroke-width="1.1"/>
<text x="115.1" y="199.94" font-size="8.4" text-anchor="end">1</text>
<line x1="118.2" y1="233" x2="121.4" y2="233" stroke="#000" stroke-width="1.1"/>
<text x="115.1" y="235.94" font-size="8.4" text-anchor="end">0</text>
<line x1="120.8" y1="233" x2="170.5" y2="233" stroke="#000" stroke-width="1.35"/>
<line x1="133" y1="233" x2="133" y2="235.6" stroke="#000" stroke-width="1.1"/>
<line x1="157.2" y1="233" x2="157.2" y2="235.6" stroke="#000" stroke-width="1.1"/>
<line x1="133" y1="203.1" x2="157.1" y2="158.8" stroke="#000" stroke-width="0.95"/>
<line x1="133" y1="206.3" x2="157.1" y2="165.8" stroke="#000" stroke-width="0.95"/>
<line x1="133" y1="208.4" x2="157.1" y2="169.2" stroke="#000" stroke-width="0.95"/>
<line x1="133" y1="211" x2="157.1" y2="182" stroke="#000" stroke-width="0.95"/>
<line x1="133" y1="217.3" x2="157.1" y2="192" stroke="#000" stroke-width="0.95"/>
<line x1="133" y1="217.3" x2="157.1" y2="203.1" stroke="#000" stroke-width="0.95"/>
<line x1="133" y1="220.1" x2="157.1" y2="205.6" stroke="#000" stroke-width="0.95"/>
<line x1="133" y1="220.1" x2="157.1" y2="208.2" stroke="#000" stroke-width="0.95"/>
<line x1="133" y1="222.5" x2="157.1" y2="211" stroke="#000" stroke-width="0.95"/>
<line x1="133" y1="222.5" x2="157.1" y2="213.5" stroke="#000" stroke-width="0.95"/>
<line x1="133" y1="224.8" x2="157.1" y2="215.9" stroke="#000" stroke-width="0.95"/>
<line x1="133" y1="224.8" x2="157.1" y2="218.6" stroke="#000" stroke-width="0.95"/>
<line x1="133" y1="227.1" x2="157.1" y2="221" stroke="#000" stroke-width="0.95"/>
<line x1="133" y1="227.1" x2="157.1" y2="223.9" stroke="#000" stroke-width="0.95"/>
<line x1="133" y1="229.5" x2="157.1" y2="226.3" stroke="#000" stroke-width="0.95"/>
<line x1="133" y1="229.5" x2="157.1" y2="223.9" stroke="#000" stroke-width="0.95"/>
<circle cx="133" cy="203.1" r="1.75" fill="#c80a28" stroke="#000" stroke-width="0.8"/>
<circle cx="133" cy="206.3" r="1.75" fill="#c80a28" stroke="#000" stroke-width="0.8"/>
<circle cx="133" cy="208.4" r="1.75" fill="#c80a28" stroke="#000" stroke-width="0.8"/>
<circle cx="133" cy="211" r="1.75" fill="#c80a28" stroke="#000" stroke-width="0.8"/>
<circle cx="133" cy="217.3" r="1.75" fill="#c80a28" stroke="#000" stroke-width="0.8"/>
<circle cx="133" cy="217.3" r="1.75" fill="#c80a28" stroke="#000" stroke-width="0.8"/>
<circle cx="133" cy="220.1" r="1.75" fill="#c80a28" stroke="#000" stroke-width="0.8"/>
<circle cx="133" cy="220.1" r="1.75" fill="#c80a28" stroke="#000" stroke-width="0.8"/>
<circle cx="133" cy="222.5" r="1.75" fill="#c80a28" stroke="#000" stroke-width="0.8"/>
<circle cx="133" cy="222.5" r="1.75" fill="#c80a28" stroke="#000" stroke-width="0.8"/>
<circle cx="133" cy="224.8" r="1.75" fill="#c80a28" stroke="#000" stroke-width="0.8"/>
<circle cx="133" cy="224.8" r="1.75" fill="#c80a28" stroke="#000" stroke-width="0.8"/>
<circle cx="133" cy="227.1" r="1.75" fill="#c80a28" stroke="#000" stroke-width="0.8"/>
<circle cx="133" cy="227.1" r="1.75" fill="#c80a28" stroke="#000" stroke-width="0.8"/>
<circle cx="133" cy="229.5" r="1.75" fill="#c80a28" stroke="#000" stroke-width="0.8"/>
<circle cx="133" cy="229.5" r="1.75" fill="#c80a28" stroke="#000" stroke-width="0.8"/>
<circle cx="157.1" cy="158.8" r="1.75" fill="#4e1d6c" stroke="#000" stroke-width="0.8"/>
<circle cx="157.1" cy="165.8" r="1.75" fill="#4e1d6c" stroke="#000" stroke-width="0.8"/>
<circle cx="157.1" cy="169.2" r="1.75" fill="#4e1d6c" stroke="#000" stroke-width="0.8"/>
<circle cx="157.1" cy="182" r="1.75" fill="#4e1d6c" stroke="#000" stroke-width="0.8"/>
<circle cx="157.1" cy="192" r="1.75" fill="#4e1d6c" stroke="#000" stroke-width="0.8"/>
<circle cx="157.1" cy="203.1" r="1.75" fill="#4e1d6c" stroke="#000" stroke-width="0.8"/>
<circle cx="157.1" cy="205.6" r="1.75" fill="#4e1d6c" stroke="#000" stroke-width="0.8"/>
<circle cx="157.1" cy="208.2" r="1.75" fill="#4e1d6c" stroke="#000" stroke-width="0.8"/>
<circle cx="157.1" cy="211" r="1.75" fill="#4e1d6c" stroke="#000" stroke-width="0.8"/>
<circle cx="157.1" cy="213.5" r="1.75" fill="#4e1d6c" stroke="#000" stroke-width="0.8"/>
<circle cx="157.1" cy="215.9" r="1.75" fill="#4e1d6c" stroke="#000" stroke-width="0.8"/>
<circle cx="157.1" cy="218.6" r="1.75" fill="#4e1d6c" stroke="#000" stroke-width="0.8"/>
<circle cx="157.1" cy="221" r="1.75" fill="#4e1d6c" stroke="#000" stroke-width="0.8"/>
<circle cx="157.1" cy="223.9" r="1.75" fill="#4e1d6c" stroke="#000" stroke-width="0.8"/>
<circle cx="157.1" cy="226.3" r="1.75" fill="#4e1d6c" stroke="#000" stroke-width="0.8"/>
<circle cx="157.1" cy="223.9" r="1.75" fill="#4e1d6c" stroke="#000" stroke-width="0.8"/>
<path d="M139.39 161.6L139.39 164.4M140.6 162.3L138.18 163.7M140.6 163.7L138.18 162.3" stroke="#111" stroke-width="0.9"/>
<path d="M142.56 161.6L142.56 164.4M143.77 162.3L141.35 163.7M143.77 163.7L141.35 162.3" stroke="#111" stroke-width="0.9"/>
<path d="M145.74 161.6L145.74 164.4M146.95 162.3L144.53 163.7M146.95 163.7L144.53 162.3" stroke="#111" stroke-width="0.9"/>
<path d="M148.91 161.6L148.91 164.4M150.12 162.3L147.7 163.7M150.12 163.7L147.7 162.3" stroke="#111" stroke-width="0.9"/>
<text transform="translate(105.6 220.4) rotate(-90)" x="0" y="0" font-size="9.2" textLength="55.2" lengthAdjust="spacingAndGlyphs">EpoR MFI (x 10<tspan font-size="5.5" dy="-3">4</tspan><tspan dy="3">)</tspan></text>
<text transform="translate(137.4 242) rotate(-45)" x="0" y="0" font-size="7.7" text-anchor="end" textLength="21.5" lengthAdjust="spacingAndGlyphs">EpoR</text>
<text transform="translate(161.4 242) rotate(-45)" x="0" y="0" font-size="7.7" text-anchor="end" textLength="28.8" lengthAdjust="spacingAndGlyphs">EpoRm</text>
<text x="65.3" y="300.8" font-size="9.7" text-anchor="middle" textLength="20" lengthAdjust="spacingAndGlyphs">CD4</text>
<text x="127.4" y="300.8" font-size="9.7" text-anchor="middle" textLength="20" lengthAdjust="spacingAndGlyphs">CD8</text>
<line x1="41" y1="306.8" x2="41" y2="385.8" stroke="#000" stroke-width="1.35"/>
<line x1="37.8" y1="309.95" x2="41" y2="309.95" stroke="#000" stroke-width="1.1"/>
<text x="34.5" y="312.75" font-size="8" text-anchor="end">100</text>
<line x1="37.8" y1="325" x2="41" y2="325" stroke="#000" stroke-width="1.1"/>
<text x="34.5" y="327.8" font-size="8" text-anchor="end">80</text>
<line x1="37.8" y1="340.05" x2="41" y2="340.05" stroke="#000" stroke-width="1.1"/>
<text x="34.5" y="342.85" font-size="8" text-anchor="end">60</text>
<line x1="37.8" y1="355.1" x2="41" y2="355.1" stroke="#000" stroke-width="1.1"/>
<text x="34.5" y="357.9" font-size="8" text-anchor="end">40</text>
<line x1="37.8" y1="370.15" x2="41" y2="370.15" stroke="#000" stroke-width="1.1"/>
<text x="34.5" y="372.95" font-size="8" text-anchor="end">20</text>
<line x1="37.8" y1="385.2" x2="41" y2="385.2" stroke="#000" stroke-width="1.1"/>
<text x="34.5" y="388" font-size="8" text-anchor="end">0</text>
<line x1="40.4" y1="385.2" x2="88.9" y2="385.2" stroke="#000" stroke-width="1.35"/>
<line x1="53.4" y1="385.2" x2="53.4" y2="387.8" stroke="#000" stroke-width="1.1"/>
<line x1="77.3" y1="385.2" x2="77.3" y2="387.8" stroke="#000" stroke-width="1.1"/>
<line x1="102.3" y1="306.7" x2="102.3" y2="385.8" stroke="#000" stroke-width="1.35"/>
<line x1="99.1" y1="309.95" x2="102.3" y2="309.95" stroke="#000" stroke-width="1.1"/>
<line x1="99.1" y1="325" x2="102.3" y2="325" stroke="#000" stroke-width="1.1"/>
<line x1="99.1" y1="340.05" x2="102.3" y2="340.05" stroke="#000" stroke-width="1.1"/>
<line x1="99.1" y1="355.1" x2="102.3" y2="355.1" stroke="#000" stroke-width="1.1"/>
<line x1="99.1" y1="370.15" x2="102.3" y2="370.15" stroke="#000" stroke-width="1.1"/>
<line x1="99.1" y1="385.2" x2="102.3" y2="385.2" stroke="#000" stroke-width="1.1"/>
<line x1="101.7" y1="385.2" x2="151.4" y2="385.2" stroke="#000" stroke-width="1.35"/>
<line x1="114.7" y1="385.2" x2="114.7" y2="387.8" stroke="#000" stroke-width="1.1"/>
<line x1="139" y1="385.2" x2="139" y2="387.8" stroke="#000" stroke-width="1.1"/>
<line x1="53.4" y1="334.1" x2="77" y2="313.4" stroke="#000" stroke-width="1"/>
<line x1="53.4" y1="340.6" x2="77" y2="315.4" stroke="#000" stroke-width="1"/>
<line x1="53.4" y1="349" x2="77" y2="319.1" stroke="#000" stroke-width="1"/>
<line x1="53.4" y1="354.3" x2="77" y2="322.6" stroke="#000" stroke-width="1"/>
<line x1="53.4" y1="357.1" x2="77" y2="329.5" stroke="#000" stroke-width="1"/>
<line x1="53.4" y1="364.3" x2="77" y2="339" stroke="#000" stroke-width="1"/>
<circle cx="53.4" cy="334.1" r="1.75" fill="#c80a28" stroke="#000" stroke-width="0.8"/>
<circle cx="53.4" cy="340.6" r="1.75" fill="#c80a28" stroke="#000" stroke-width="0.8"/>
<circle cx="53.4" cy="349" r="1.75" fill="#c80a28" stroke="#000" stroke-width="0.8"/>
<circle cx="53.4" cy="354.3" r="1.75" fill="#c80a28" stroke="#000" stroke-width="0.8"/>
<circle cx="53.4" cy="357.1" r="1.75" fill="#c80a28" stroke="#000" stroke-width="0.8"/>
<circle cx="53.4" cy="364.3" r="1.75" fill="#c80a28" stroke="#000" stroke-width="0.8"/>
<circle cx="77" cy="313.4" r="1.75" fill="#4e1d6c" stroke="#000" stroke-width="0.8"/>
<circle cx="77" cy="315.4" r="1.75" fill="#4e1d6c" stroke="#000" stroke-width="0.8"/>
<circle cx="77" cy="319.1" r="1.75" fill="#4e1d6c" stroke="#000" stroke-width="0.8"/>
<circle cx="77" cy="322.6" r="1.75" fill="#4e1d6c" stroke="#000" stroke-width="0.8"/>
<circle cx="77" cy="329.5" r="1.75" fill="#4e1d6c" stroke="#000" stroke-width="0.8"/>
<circle cx="77" cy="339" r="1.75" fill="#4e1d6c" stroke="#000" stroke-width="0.8"/>
<line x1="114.7" y1="338.3" x2="139" y2="315" stroke="#000" stroke-width="1"/>
<line x1="114.7" y1="341.6" x2="139" y2="318.3" stroke="#000" stroke-width="1"/>
<line x1="114.7" y1="346" x2="139" y2="321.4" stroke="#000" stroke-width="1"/>
<line x1="114.7" y1="355.9" x2="139" y2="331.3" stroke="#000" stroke-width="1"/>
<line x1="114.7" y1="360.8" x2="139" y2="333.1" stroke="#000" stroke-width="1"/>
<line x1="114.7" y1="367" x2="139" y2="342.1" stroke="#000" stroke-width="1"/>
<circle cx="114.7" cy="338.3" r="1.75" fill="#c80a28" stroke="#000" stroke-width="0.8"/>
<circle cx="114.7" cy="341.6" r="1.75" fill="#c80a28" stroke="#000" stroke-width="0.8"/>
<circle cx="114.7" cy="346" r="1.75" fill="#c80a28" stroke="#000" stroke-width="0.8"/>
<circle cx="114.7" cy="355.9" r="1.75" fill="#c80a28" stroke="#000" stroke-width="0.8"/>
<circle cx="114.7" cy="360.8" r="1.75" fill="#c80a28" stroke="#000" stroke-width="0.8"/>
<circle cx="114.7" cy="367" r="1.75" fill="#c80a28" stroke="#000" stroke-width="0.8"/>
<circle cx="139" cy="315" r="1.75" fill="#4e1d6c" stroke="#000" stroke-width="0.8"/>
<circle cx="139" cy="318.3" r="1.75" fill="#4e1d6c" stroke="#000" stroke-width="0.8"/>
<circle cx="139" cy="321.4" r="1.75" fill="#4e1d6c" stroke="#000" stroke-width="0.8"/>
<circle cx="139" cy="331.3" r="1.75" fill="#4e1d6c" stroke="#000" stroke-width="0.8"/>
<circle cx="139" cy="333.1" r="1.75" fill="#4e1d6c" stroke="#000" stroke-width="0.8"/>
<circle cx="139" cy="342.1" r="1.75" fill="#4e1d6c" stroke="#000" stroke-width="0.8"/>
<path d="M61.12 314L61.12 316.8M62.34 314.7L59.91 316.1M62.34 316.1L59.91 314.7" stroke="#111" stroke-width="0.9"/>
<path d="M64.17 314L64.17 316.8M65.39 314.7L62.96 316.1M65.39 316.1L62.96 314.7" stroke="#111" stroke-width="0.9"/>
<path d="M67.22 314L67.22 316.8M68.44 314.7L66.01 316.1M68.44 316.1L66.01 314.7" stroke="#111" stroke-width="0.9"/>
<path d="M70.28 314L70.28 316.8M71.49 314.7L69.06 316.1M71.49 316.1L69.06 314.7" stroke="#111" stroke-width="0.9"/>
<path d="M122.01 313.6L122.01 316.4M123.22 314.3L120.8 315.7M123.22 315.7L120.8 314.3" stroke="#111" stroke-width="0.9"/>
<path d="M125.24 313.6L125.24 316.4M126.45 314.3L124.03 315.7M126.45 315.7L124.03 314.3" stroke="#111" stroke-width="0.9"/>
<path d="M128.46 313.6L128.46 316.4M129.67 314.3L127.25 315.7M129.67 315.7L127.25 314.3" stroke="#111" stroke-width="0.9"/>
<path d="M131.69 313.6L131.69 316.4M132.9 314.3L130.48 315.7M132.9 315.7L130.48 314.3" stroke="#111" stroke-width="0.9"/>
<text transform="translate(16.6 370.4) rotate(-90)" x="0" y="0" font-size="10.5" textLength="49.4" lengthAdjust="spacingAndGlyphs">% EpoR+ cells</text>
<text transform="translate(56.8 395) rotate(-45)" x="0" y="0" font-size="7.7" text-anchor="end" textLength="21.5" lengthAdjust="spacingAndGlyphs">EpoR</text>
<text transform="translate(80.8 395) rotate(-45)" x="0" y="0" font-size="7.7" text-anchor="end" textLength="28.8" lengthAdjust="spacingAndGlyphs">EpoRm</text>
<text transform="translate(118.1 395) rotate(-45)" x="0" y="0" font-size="7.7" text-anchor="end" textLength="21.5" lengthAdjust="spacingAndGlyphs">EpoR</text>
<text transform="translate(142.1 395) rotate(-45)" x="0" y="0" font-size="7.7" text-anchor="end" textLength="28.8" lengthAdjust="spacingAndGlyphs">EpoRm</text>
<text x="252.1" y="148.9" font-size="10" text-anchor="middle" textLength="34.6" lengthAdjust="spacingAndGlyphs">Donor 1</text>
<text x="344.9" y="148.9" font-size="10" text-anchor="middle" textLength="35.5" lengthAdjust="spacingAndGlyphs">Donor 2</text>
<text x="436.7" y="148.9" font-size="10" text-anchor="middle" textLength="35.5" lengthAdjust="spacingAndGlyphs">Donor 3</text>
<line x1="213.4" y1="155.2" x2="213.4" y2="233.6" stroke="#000" stroke-width="1.35"/>
<line x1="210.2" y1="157.4" x2="213.4" y2="157.4" stroke="#000" stroke-width="1.1"/>
<text x="207.8" y="160.34" font-size="8.4" text-anchor="end">4</text>
<line x1="210.2" y1="176.3" x2="213.4" y2="176.3" stroke="#000" stroke-width="1.1"/>
<text x="207.8" y="179.24" font-size="8.4" text-anchor="end">3</text>
<line x1="210.2" y1="195.2" x2="213.4" y2="195.2" stroke="#000" stroke-width="1.1"/>
<text x="207.8" y="198.14" font-size="8.4" text-anchor="end">2</text>
<line x1="210.2" y1="214.1" x2="213.4" y2="214.1" stroke="#000" stroke-width="1.1"/>
<text x="207.8" y="217.04" font-size="8.4" text-anchor="end">1</text>
<line x1="210.2" y1="233" x2="213.4" y2="233" stroke="#000" stroke-width="1.1"/>
<text x="207.8" y="235.94" font-size="8.4" text-anchor="end">0</text>
<line x1="212.8" y1="233" x2="290.3" y2="233" stroke="#000" stroke-width="1.35"/>
<line x1="213.4" y1="233" x2="213.4" y2="235.6" stroke="#000" stroke-width="1.1"/>
<line x1="228.5" y1="233" x2="228.5" y2="235.6" stroke="#000" stroke-width="1.1"/>
<line x1="243.6" y1="233" x2="243.6" y2="235.6" stroke="#000" stroke-width="1.1"/>
<line x1="258.7" y1="233" x2="258.7" y2="235.6" stroke="#000" stroke-width="1.1"/>
<line x1="273.8" y1="233" x2="273.8" y2="235.6" stroke="#000" stroke-width="1.1"/>
<line x1="288.9" y1="233" x2="288.9" y2="235.6" stroke="#000" stroke-width="1.1"/>
<text x="213.4" y="246.5" font-size="8.4" text-anchor="middle">0</text>
<text x="228.5" y="246.5" font-size="8.4" text-anchor="middle">1</text>
<text x="243.6" y="246.5" font-size="8.4" text-anchor="middle">2</text>
<text x="258.7" y="246.5" font-size="8.4" text-anchor="middle">3</text>
<text x="273.8" y="246.5" font-size="8.4" text-anchor="middle">4</text>
<text x="288.9" y="246.5" font-size="8.4" text-anchor="middle">5</text>
<line x1="305.3" y1="155.2" x2="305.3" y2="233.6" stroke="#000" stroke-width="1.35"/>
<line x1="302.1" y1="157.4" x2="305.3" y2="157.4" stroke="#000" stroke-width="1.1"/>
<text x="299.7" y="160.34" font-size="8.4" text-anchor="end">3</text>
<line x1="302.1" y1="182.6" x2="305.3" y2="182.6" stroke="#000" stroke-width="1.1"/>
<text x="299.7" y="185.54" font-size="8.4" text-anchor="end">2</text>
<line x1="302.1" y1="207.8" x2="305.3" y2="207.8" stroke="#000" stroke-width="1.1"/>
<text x="299.7" y="210.74" font-size="8.4" text-anchor="end">1</text>
<line x1="302.1" y1="233" x2="305.3" y2="233" stroke="#000" stroke-width="1.1"/>
<text x="299.7" y="235.94" font-size="8.4" text-anchor="end">0</text>
<line x1="304.7" y1="233" x2="383.6" y2="233" stroke="#000" stroke-width="1.35"/>
<line x1="305.3" y1="233" x2="305.3" y2="235.6" stroke="#000" stroke-width="1.1"/>
<line x1="320.4" y1="233" x2="320.4" y2="235.6" stroke="#000" stroke-width="1.1"/>
<line x1="335.5" y1="233" x2="335.5" y2="235.6" stroke="#000" stroke-width="1.1"/>
<line x1="350.6" y1="233" x2="350.6" y2="235.6" stroke="#000" stroke-width="1.1"/>
<line x1="365.7" y1="233" x2="365.7" y2="235.6" stroke="#000" stroke-width="1.1"/>
<line x1="380.8" y1="233" x2="380.8" y2="235.6" stroke="#000" stroke-width="1.1"/>
<text x="305.3" y="246.5" font-size="8.4" text-anchor="middle">0</text>
<text x="320.4" y="246.5" font-size="8.4" text-anchor="middle">1</text>
<text x="335.5" y="246.5" font-size="8.4" text-anchor="middle">2</text>
<text x="350.6" y="246.5" font-size="8.4" text-anchor="middle">3</text>
<text x="365.7" y="246.5" font-size="8.4" text-anchor="middle">4</text>
<text x="380.8" y="246.5" font-size="8.4" text-anchor="middle">5</text>
<line x1="397.7" y1="155.2" x2="397.7" y2="233.6" stroke="#000" stroke-width="1.35"/>
<line x1="394.5" y1="157.5" x2="397.7" y2="157.5" stroke="#000" stroke-width="1.1"/>
<text x="392.1" y="160.44" font-size="8.4" text-anchor="end">5</text>
<line x1="394.5" y1="172.6" x2="397.7" y2="172.6" stroke="#000" stroke-width="1.1"/>
<text x="392.1" y="175.54" font-size="8.4" text-anchor="end">4</text>
<line x1="394.5" y1="187.7" x2="397.7" y2="187.7" stroke="#000" stroke-width="1.1"/>
<text x="392.1" y="190.64" font-size="8.4" text-anchor="end">3</text>
<line x1="394.5" y1="202.8" x2="397.7" y2="202.8" stroke="#000" stroke-width="1.1"/>
<text x="392.1" y="205.74" font-size="8.4" text-anchor="end">2</text>
<line x1="394.5" y1="217.9" x2="397.7" y2="217.9" stroke="#000" stroke-width="1.1"/>
<text x="392.1" y="220.84" font-size="8.4" text-anchor="end">1</text>
<line x1="394.5" y1="233" x2="397.7" y2="233" stroke="#000" stroke-width="1.1"/>
<text x="392.1" y="235.94" font-size="8.4" text-anchor="end">0</text>
<line x1="397.1" y1="233" x2="475.5" y2="233" stroke="#000" stroke-width="1.35"/>
<line x1="397.7" y1="233" x2="397.7" y2="235.6" stroke="#000" stroke-width="1.1"/>
<line x1="412.8" y1="233" x2="412.8" y2="235.6" stroke="#000" stroke-width="1.1"/>
<line x1="427.9" y1="233" x2="427.9" y2="235.6" stroke="#000" stroke-width="1.1"/>
<line x1="443" y1="233" x2="443" y2="235.6" stroke="#000" stroke-width="1.1"/>
<line x1="458.1" y1="233" x2="458.1" y2="235.6" stroke="#000" stroke-width="1.1"/>
<line x1="473.2" y1="233" x2="473.2" y2="235.6" stroke="#000" stroke-width="1.1"/>
<text x="397.7" y="246.5" font-size="8.4" text-anchor="middle">0</text>
<text x="412.8" y="246.5" font-size="8.4" text-anchor="middle">1</text>
<text x="427.9" y="246.5" font-size="8.4" text-anchor="middle">2</text>
<text x="443" y="246.5" font-size="8.4" text-anchor="middle">3</text>
<text x="458.1" y="246.5" font-size="8.4" text-anchor="middle">4</text>
<text x="473.2" y="246.5" font-size="8.4" text-anchor="middle">5</text>
<line x1="213.5" y1="230.4" x2="284.2" y2="170.8" stroke="#000" stroke-width="1"/>
<line x1="213.5" y1="232.6" x2="283.4" y2="193.6" stroke="#000" stroke-width="1"/>
<line x1="305.4" y1="230.5" x2="366.9" y2="174" stroke="#000" stroke-width="1"/>
<line x1="305.4" y1="232.8" x2="367.6" y2="199.5" stroke="#000" stroke-width="1"/>
<line x1="397.8" y1="230.2" x2="463.7" y2="164.6" stroke="#000" stroke-width="1"/>
<line x1="397.8" y1="232.8" x2="462.5" y2="204.7" stroke="#000" stroke-width="1"/>
<circle cx="283.7" cy="196" r="1.9" fill="#c80a28" stroke="#000" stroke-width="0.8"/>
<circle cx="261" cy="203.8" r="1.9" fill="#c80a28" stroke="#000" stroke-width="0.8"/>
<circle cx="244.2" cy="213.7" r="1.9" fill="#c80a28" stroke="#000" stroke-width="0.8"/>
<circle cx="234.2" cy="218.4" r="1.9" fill="#c80a28" stroke="#000" stroke-width="0.8"/>
<circle cx="227.5" cy="222" r="1.9" fill="#c80a28" stroke="#000" stroke-width="0.8"/>
<circle cx="223.1" cy="225.1" r="1.9" fill="#c80a28" stroke="#000" stroke-width="0.8"/>
<circle cx="219.7" cy="227.2" r="1.9" fill="#c80a28" stroke="#000" stroke-width="0.8"/>
<circle cx="217.4" cy="229" r="1.9" fill="#c80a28" stroke="#000" stroke-width="0.8"/>
<circle cx="215.8" cy="230.6" r="1.9" fill="#c80a28" stroke="#000" stroke-width="0.8"/>
<circle cx="214.2" cy="232.1" r="1.9" fill="#c80a28" stroke="#000" stroke-width="0.8"/>
<circle cx="213.3" cy="233" r="1.9" fill="#c80a28" stroke="#000" stroke-width="0.8"/>
<circle cx="368.1" cy="201.4" r="1.9" fill="#c80a28" stroke="#000" stroke-width="0.8"/>
<circle cx="350" cy="209.4" r="1.9" fill="#c80a28" stroke="#000" stroke-width="0.8"/>
<circle cx="337" cy="214.2" r="1.9" fill="#c80a28" stroke="#000" stroke-width="0.8"/>
<circle cx="327.5" cy="218.8" r="1.9" fill="#c80a28" stroke="#000" stroke-width="0.8"/>
<circle cx="320.7" cy="222.5" r="1.9" fill="#c80a28" stroke="#000" stroke-width="0.8"/>
<circle cx="316.6" cy="224.6" r="1.9" fill="#c80a28" stroke="#000" stroke-width="0.8"/>
<circle cx="313.2" cy="226.9" r="1.9" fill="#c80a28" stroke="#000" stroke-width="0.8"/>
<circle cx="310.6" cy="228.5" r="1.9" fill="#c80a28" stroke="#000" stroke-width="0.8"/>
<circle cx="308.3" cy="230.2" r="1.9" fill="#c80a28" stroke="#000" stroke-width="0.8"/>
<circle cx="306.4" cy="231.8" r="1.9" fill="#c80a28" stroke="#000" stroke-width="0.8"/>
<circle cx="305.5" cy="232.9" r="1.9" fill="#c80a28" stroke="#000" stroke-width="0.8"/>
<circle cx="462.5" cy="205.4" r="1.9" fill="#c80a28" stroke="#000" stroke-width="0.8"/>
<circle cx="440.8" cy="212.5" r="1.9" fill="#c80a28" stroke="#000" stroke-width="0.8"/>
<circle cx="427.2" cy="217.7" r="1.9" fill="#c80a28" stroke="#000" stroke-width="0.8"/>
<circle cx="417.3" cy="222.2" r="1.9" fill="#c80a28" stroke="#000" stroke-width="0.8"/>
<circle cx="411" cy="225.7" r="1.9" fill="#c80a28" stroke="#000" stroke-width="0.8"/>
<circle cx="406.4" cy="228.3" r="1.9" fill="#c80a28" stroke="#000" stroke-width="0.8"/>
<circle cx="403.5" cy="229.8" r="1.9" fill="#c80a28" stroke="#000" stroke-width="0.8"/>
<circle cx="401.2" cy="231.2" r="1.9" fill="#c80a28" stroke="#000" stroke-width="0.8"/>
<circle cx="399" cy="232.4" r="1.9" fill="#c80a28" stroke="#000" stroke-width="0.8"/>
<circle cx="284.2" cy="174.8" r="1.9" fill="#4e1d6c" stroke="#000" stroke-width="0.8"/>
<circle cx="261" cy="187.7" r="1.9" fill="#4e1d6c" stroke="#000" stroke-width="0.8"/>
<circle cx="245" cy="200" r="1.9" fill="#4e1d6c" stroke="#000" stroke-width="0.8"/>
<circle cx="234.2" cy="208.3" r="1.9" fill="#4e1d6c" stroke="#000" stroke-width="0.8"/>
<circle cx="227.6" cy="214.2" r="1.9" fill="#4e1d6c" stroke="#000" stroke-width="0.8"/>
<circle cx="223.1" cy="217.9" r="1.9" fill="#4e1d6c" stroke="#000" stroke-width="0.8"/>
<circle cx="219.9" cy="221.8" r="1.9" fill="#4e1d6c" stroke="#000" stroke-width="0.8"/>
<circle cx="217.6" cy="224.4" r="1.9" fill="#4e1d6c" stroke="#000" stroke-width="0.8"/>
<circle cx="215.8" cy="226.4" r="1.9" fill="#4e1d6c" stroke="#000" stroke-width="0.8"/>
<circle cx="214.2" cy="228.5" r="1.9" fill="#4e1d6c" stroke="#000" stroke-width="0.8"/>
<circle cx="213.3" cy="230.3" r="1.9" fill="#4e1d6c" stroke="#000" stroke-width="0.8"/>
<circle cx="368.1" cy="178.3" r="1.9" fill="#4e1d6c" stroke="#000" stroke-width="0.8"/>
<circle cx="350" cy="188.9" r="1.9" fill="#4e1d6c" stroke="#000" stroke-width="0.8"/>
<circle cx="337" cy="197.9" r="1.9" fill="#4e1d6c" stroke="#000" stroke-width="0.8"/>
<circle cx="326.8" cy="205.4" r="1.9" fill="#4e1d6c" stroke="#000" stroke-width="0.8"/>
<circle cx="320.9" cy="210.1" r="1.9" fill="#4e1d6c" stroke="#000" stroke-width="0.8"/>
<circle cx="316.2" cy="215.4" r="1.9" fill="#4e1d6c" stroke="#000" stroke-width="0.8"/>
<circle cx="313" cy="219.3" r="1.9" fill="#4e1d6c" stroke="#000" stroke-width="0.8"/>
<circle cx="310.9" cy="221.7" r="1.9" fill="#4e1d6c" stroke="#000" stroke-width="0.8"/>
<circle cx="309" cy="224.2" r="1.9" fill="#4e1d6c" stroke="#000" stroke-width="0.8"/>
<circle cx="307.5" cy="226.5" r="1.9" fill="#4e1d6c" stroke="#000" stroke-width="0.8"/>
<circle cx="306.4" cy="228.4" r="1.9" fill="#4e1d6c" stroke="#000" stroke-width="0.8"/>
<circle cx="305.5" cy="230.5" r="1.9" fill="#4e1d6c" stroke="#000" stroke-width="0.8"/>
<circle cx="463" cy="166.5" r="1.9" fill="#4e1d6c" stroke="#000" stroke-width="0.8"/>
<circle cx="440.8" cy="189.6" r="1.9" fill="#4e1d6c" stroke="#000" stroke-width="0.8"/>
<circle cx="427.2" cy="199.1" r="1.9" fill="#4e1d6c" stroke="#000" stroke-width="0.8"/>
<circle cx="417.3" cy="208.2" r="1.9" fill="#4e1d6c" stroke="#000" stroke-width="0.8"/>
<circle cx="410.7" cy="213.5" r="1.9" fill="#4e1d6c" stroke="#000" stroke-width="0.8"/>
<circle cx="406.6" cy="217.9" r="1.9" fill="#4e1d6c" stroke="#000" stroke-width="0.8"/>
<circle cx="404.2" cy="220.5" r="1.9" fill="#4e1d6c" stroke="#000" stroke-width="0.8"/>
<circle cx="401.8" cy="222.8" r="1.9" fill="#4e1d6c" stroke="#000" stroke-width="0.8"/>
<circle cx="400" cy="225.1" r="1.9" fill="#4e1d6c" stroke="#000" stroke-width="0.8"/>
<circle cx="398.8" cy="227.5" r="1.9" fill="#4e1d6c" stroke="#000" stroke-width="0.8"/>
<circle cx="398.1" cy="229.6" r="1.9" fill="#4e1d6c" stroke="#000" stroke-width="0.8"/>
<text x="250.5" y="165.5" font-size="7.7" text-anchor="middle" textLength="37.7" lengthAdjust="spacingAndGlyphs">Y=0.690*X</text>
<text x="250.3" y="174.6" font-size="7.7" text-anchor="middle" textLength="21" lengthAdjust="spacingAndGlyphs">+2024</text>
<text x="265.3" y="222.7" font-size="7.7" text-anchor="middle" textLength="42" lengthAdjust="spacingAndGlyphs">Y=0.4258*X</text>
<text x="265.5" y="231.7" font-size="7.7" text-anchor="middle" textLength="17.3" lengthAdjust="spacingAndGlyphs">+979</text>
<text x="349.5" y="165.5" font-size="7.7" text-anchor="middle" textLength="37.3" lengthAdjust="spacingAndGlyphs">Y=0.516*X</text>
<text x="350" y="174.6" font-size="7.7" text-anchor="middle" textLength="21.3" lengthAdjust="spacingAndGlyphs">+2167</text>
<text x="358.9" y="223.2" font-size="7.7" text-anchor="middle" textLength="41.8" lengthAdjust="spacingAndGlyphs">Y=0.3004*X</text>
<text x="359.4" y="232.2" font-size="7.7" text-anchor="middle" textLength="23.5" lengthAdjust="spacingAndGlyphs">+670.6</text>
<text x="439" y="165.5" font-size="7.7" text-anchor="middle" textLength="42.5" lengthAdjust="spacingAndGlyphs">Y=0.9326*X</text>
<text x="439.3" y="174.6" font-size="7.7" text-anchor="middle" textLength="22" lengthAdjust="spacingAndGlyphs">+3454</text>
<text x="455.2" y="223.2" font-size="7.7" text-anchor="middle" textLength="42" lengthAdjust="spacingAndGlyphs">Y=0.4381*X</text>
<text x="455.3" y="232.2" font-size="7.7" text-anchor="middle" textLength="24" lengthAdjust="spacingAndGlyphs">+571.2</text>
<path d="M273.19 182.8L273.19 185.6M274.4 183.5L271.98 184.9M274.4 184.9L271.98 183.5" stroke="#111" stroke-width="0.9"/>
<path d="M276.36 182.8L276.36 185.6M277.57 183.5L275.15 184.9M277.57 184.9L275.15 183.5" stroke="#111" stroke-width="0.9"/>
<path d="M279.54 182.8L279.54 185.6M280.75 183.5L278.33 184.9M280.75 184.9L278.33 183.5" stroke="#111" stroke-width="0.9"/>
<path d="M282.71 182.8L282.71 185.6M283.92 183.5L281.5 184.9M283.92 184.9L281.5 183.5" stroke="#111" stroke-width="0.9"/>
<path d="M365.6 188.6L365.6 191.4M366.81 189.3L364.39 190.7M366.81 190.7L364.39 189.3" stroke="#111" stroke-width="0.9"/>
<path d="M369 188.6L369 191.4M370.21 189.3L367.79 190.7M370.21 190.7L367.79 189.3" stroke="#111" stroke-width="0.9"/>
<path d="M372.4 188.6L372.4 191.4M373.61 189.3L371.19 190.7M373.61 190.7L371.19 189.3" stroke="#111" stroke-width="0.9"/>
<path d="M375.8 188.6L375.8 191.4M377.01 189.3L374.59 190.7M377.01 190.7L374.59 189.3" stroke="#111" stroke-width="0.9"/>
<path d="M459.07 187.8L459.07 190.6M460.29 188.5L457.86 189.9M460.29 189.9L457.86 188.5" stroke="#111" stroke-width="0.9"/>
<path d="M462.43 187.8L462.43 190.6M463.64 188.5L461.21 189.9M463.64 189.9L461.21 188.5" stroke="#111" stroke-width="0.9"/>
<path d="M465.77 187.8L465.77 190.6M466.99 188.5L464.56 189.9M466.99 189.9L464.56 188.5" stroke="#111" stroke-width="0.9"/>
<path d="M469.12 187.8L469.12 190.6M470.34 188.5L467.91 189.9M470.34 189.9L467.91 188.5" stroke="#111" stroke-width="0.9"/>
<text transform="translate(197.3 222.2) rotate(-90)" x="0" y="0" font-size="10.2" textLength="58.4" lengthAdjust="spacingAndGlyphs">EpoR MFI (x 10<tspan font-size="6" dy="-3.3">4</tspan><tspan dy="3.3">)</tspan></text>
<text x="317.8" y="263.7" font-size="9.6" textLength="54" lengthAdjust="spacingAndGlyphs">GFP MFI (x 10<tspan font-size="6" dy="-3.3">4</tspan><tspan dy="3.3">)</tspan></text>
<circle cx="480.8" cy="165.8" r="2" fill="#c80a28" stroke="#000" stroke-width="0.8"/>
<circle cx="480.8" cy="177.8" r="2" fill="#4e1d6c" stroke="#000" stroke-width="0.8"/>
<text x="486" y="168.6" font-size="9" textLength="19.6" lengthAdjust="spacingAndGlyphs">EpoR</text>
<text x="486" y="180.6" font-size="9" textLength="26.5" lengthAdjust="spacingAndGlyphs">EpoRm</text>
<text x="243.1" y="300.2" font-size="10" text-anchor="middle" textLength="35.5" lengthAdjust="spacingAndGlyphs">Donor 1</text>
<text x="305.7" y="300.2" font-size="10" text-anchor="middle" textLength="35.5" lengthAdjust="spacingAndGlyphs">Donor 2</text>
<text x="370.5" y="300.2" font-size="10" text-anchor="middle" textLength="35.5" lengthAdjust="spacingAndGlyphs">Donor 3</text>
<line x1="219.4" y1="306.9" x2="219.4" y2="385.6" stroke="#000" stroke-width="1.35"/>
<line x1="216.2" y1="309.2" x2="219.4" y2="309.2" stroke="#000" stroke-width="1.1"/>
<text x="212.6" y="312" font-size="8" text-anchor="end">100</text>
<line x1="216.2" y1="324.36" x2="219.4" y2="324.36" stroke="#000" stroke-width="1.1"/>
<text x="212.6" y="327.16" font-size="8" text-anchor="end">80</text>
<line x1="216.2" y1="339.52" x2="219.4" y2="339.52" stroke="#000" stroke-width="1.1"/>
<text x="212.6" y="342.32" font-size="8" text-anchor="end">60</text>
<line x1="216.2" y1="354.68" x2="219.4" y2="354.68" stroke="#000" stroke-width="1.1"/>
<text x="212.6" y="357.48" font-size="8" text-anchor="end">40</text>
<line x1="216.2" y1="369.84" x2="219.4" y2="369.84" stroke="#000" stroke-width="1.1"/>
<text x="212.6" y="372.64" font-size="8" text-anchor="end">20</text>
<line x1="216.2" y1="385" x2="219.4" y2="385" stroke="#000" stroke-width="1.1"/>
<text x="212.6" y="387.8" font-size="8" text-anchor="end">0</text>
<line x1="218.8" y1="385" x2="267.4" y2="385" stroke="#000" stroke-width="1.35"/>
<line x1="227.3" y1="385" x2="227.3" y2="387.4" stroke="#000" stroke-width="1.1"/>
<line x1="243.3" y1="385" x2="243.3" y2="387.4" stroke="#000" stroke-width="1.1"/>
<line x1="259.3" y1="385" x2="259.3" y2="387.4" stroke="#000" stroke-width="1.1"/>
<text x="227.3" y="398.1" font-size="8.3" text-anchor="middle" textLength="8.2" lengthAdjust="spacingAndGlyphs">15</text>
<text x="243.3" y="398.1" font-size="8.3" text-anchor="middle" textLength="8.2" lengthAdjust="spacingAndGlyphs">30</text>
<text x="259.3" y="398.1" font-size="8.3" text-anchor="middle" textLength="8.2" lengthAdjust="spacingAndGlyphs">60</text>
<line x1="281.4" y1="306.9" x2="281.4" y2="385.6" stroke="#000" stroke-width="1.35"/>
<line x1="278.2" y1="309.2" x2="281.4" y2="309.2" stroke="#000" stroke-width="1.1"/>
<line x1="278.2" y1="324.36" x2="281.4" y2="324.36" stroke="#000" stroke-width="1.1"/>
<line x1="278.2" y1="339.52" x2="281.4" y2="339.52" stroke="#000" stroke-width="1.1"/>
<line x1="278.2" y1="354.68" x2="281.4" y2="354.68" stroke="#000" stroke-width="1.1"/>
<line x1="278.2" y1="369.84" x2="281.4" y2="369.84" stroke="#000" stroke-width="1.1"/>
<line x1="278.2" y1="385" x2="281.4" y2="385" stroke="#000" stroke-width="1.1"/>
<line x1="280.8" y1="385" x2="329.4" y2="385" stroke="#000" stroke-width="1.35"/>
<line x1="289.3" y1="385" x2="289.3" y2="387.4" stroke="#000" stroke-width="1.1"/>
<line x1="305.3" y1="385" x2="305.3" y2="387.4" stroke="#000" stroke-width="1.1"/>
<line x1="321.3" y1="385" x2="321.3" y2="387.4" stroke="#000" stroke-width="1.1"/>
<text x="289.3" y="398.1" font-size="8.3" text-anchor="middle" textLength="8.2" lengthAdjust="spacingAndGlyphs">15</text>
<text x="305.3" y="398.1" font-size="8.3" text-anchor="middle" textLength="8.2" lengthAdjust="spacingAndGlyphs">30</text>
<text x="321.3" y="398.1" font-size="8.3" text-anchor="middle" textLength="8.2" lengthAdjust="spacingAndGlyphs">60</text>
<line x1="346.4" y1="306.9" x2="346.4" y2="385.6" stroke="#000" stroke-width="1.35"/>
<line x1="343.2" y1="309.2" x2="346.4" y2="309.2" stroke="#000" stroke-width="1.1"/>
<line x1="343.2" y1="324.36" x2="346.4" y2="324.36" stroke="#000" stroke-width="1.1"/>
<line x1="343.2" y1="339.52" x2="346.4" y2="339.52" stroke="#000" stroke-width="1.1"/>
<line x1="343.2" y1="354.68" x2="346.4" y2="354.68" stroke="#000" stroke-width="1.1"/>
<line x1="343.2" y1="369.84" x2="346.4" y2="369.84" stroke="#000" stroke-width="1.1"/>
<line x1="343.2" y1="385" x2="346.4" y2="385" stroke="#000" stroke-width="1.1"/>
<line x1="345.8" y1="385" x2="394.4" y2="385" stroke="#000" stroke-width="1.35"/>
<line x1="354.3" y1="385" x2="354.3" y2="387.4" stroke="#000" stroke-width="1.1"/>
<line x1="370.3" y1="385" x2="370.3" y2="387.4" stroke="#000" stroke-width="1.1"/>
<line x1="386.3" y1="385" x2="386.3" y2="387.4" stroke="#000" stroke-width="1.1"/>
<text x="354.3" y="398.1" font-size="8.3" text-anchor="middle" textLength="8.2" lengthAdjust="spacingAndGlyphs">15</text>
<text x="370.3" y="398.1" font-size="8.3" text-anchor="middle" textLength="8.2" lengthAdjust="spacingAndGlyphs">30</text>
<text x="386.3" y="398.1" font-size="8.3" text-anchor="middle" textLength="8.2" lengthAdjust="spacingAndGlyphs">60</text>
<polyline points="227.3,319.05 243.3,319.81 259.3,330.42" fill="none" stroke="#000" stroke-width="1.1"/>
<polyline points="227.3,337.62 243.3,356.95 259.3,375.45" fill="none" stroke="#000" stroke-width="1.1"/>
<circle cx="227.3" cy="337.62" r="1.75" fill="#c80a28" stroke="#000" stroke-width="0.8"/>
<circle cx="243.3" cy="356.95" r="1.75" fill="#c80a28" stroke="#000" stroke-width="0.8"/>
<circle cx="259.3" cy="375.45" r="1.75" fill="#c80a28" stroke="#000" stroke-width="0.8"/>
<circle cx="227.3" cy="319.05" r="1.75" fill="#4e1d6c" stroke="#000" stroke-width="0.8"/>
<circle cx="243.3" cy="319.81" r="1.75" fill="#4e1d6c" stroke="#000" stroke-width="0.8"/>
<circle cx="259.3" cy="330.42" r="1.75" fill="#4e1d6c" stroke="#000" stroke-width="0.8"/>
<polyline points="289.3,309.81 305.3,310.41 321.3,312.69" fill="none" stroke="#000" stroke-width="1.1"/>
<polyline points="289.3,312.23 305.3,321.86 321.3,329.97" fill="none" stroke="#000" stroke-width="1.1"/>
<circle cx="289.3" cy="312.23" r="1.75" fill="#c80a28" stroke="#000" stroke-width="0.8"/>
<circle cx="305.3" cy="321.86" r="1.75" fill="#c80a28" stroke="#000" stroke-width="0.8"/>
<circle cx="321.3" cy="329.97" r="1.75" fill="#c80a28" stroke="#000" stroke-width="0.8"/>
<circle cx="289.3" cy="309.81" r="1.75" fill="#4e1d6c" stroke="#000" stroke-width="0.8"/>
<circle cx="305.3" cy="310.41" r="1.75" fill="#4e1d6c" stroke="#000" stroke-width="0.8"/>
<circle cx="321.3" cy="312.69" r="1.75" fill="#4e1d6c" stroke="#000" stroke-width="0.8"/>
<polyline points="354.3,311.7 370.3,313.14 386.3,318.45" fill="none" stroke="#000" stroke-width="1.1"/>
<polyline points="354.3,323.75 370.3,339.9 386.3,352.41" fill="none" stroke="#000" stroke-width="1.1"/>
<circle cx="354.3" cy="323.75" r="1.75" fill="#c80a28" stroke="#000" stroke-width="0.8"/>
<circle cx="370.3" cy="339.9" r="1.75" fill="#c80a28" stroke="#000" stroke-width="0.8"/>
<circle cx="386.3" cy="352.41" r="1.75" fill="#c80a28" stroke="#000" stroke-width="0.8"/>
<circle cx="354.3" cy="311.7" r="1.75" fill="#4e1d6c" stroke="#000" stroke-width="0.8"/>
<circle cx="370.3" cy="313.14" r="1.75" fill="#4e1d6c" stroke="#000" stroke-width="0.8"/>
<circle cx="386.3" cy="318.45" r="1.75" fill="#4e1d6c" stroke="#000" stroke-width="0.8"/>
<text transform="translate(194.8 386.8) rotate(-90)" x="0" y="0" font-size="9.4" textLength="80" lengthAdjust="spacingAndGlyphs">Relative % EpoR+ cells</text>
<text x="271.3" y="411.6" font-size="10.4" textLength="69.3" lengthAdjust="spacingAndGlyphs">Time with Epo (min)</text>
<circle cx="399.6" cy="339.6" r="1.8" fill="#c80a28" stroke="#000" stroke-width="0.8"/>
<circle cx="399.6" cy="352.1" r="1.8" fill="#4e1d6c" stroke="#000" stroke-width="0.8"/>
<text x="404.4" y="342.3" font-size="8.6" textLength="19.8" lengthAdjust="spacingAndGlyphs">EpoR</text>
<text x="404.4" y="354.8" font-size="8.6" textLength="26.4" lengthAdjust="spacingAndGlyphs">EpoRm</text>
</svg>
</body></html>
